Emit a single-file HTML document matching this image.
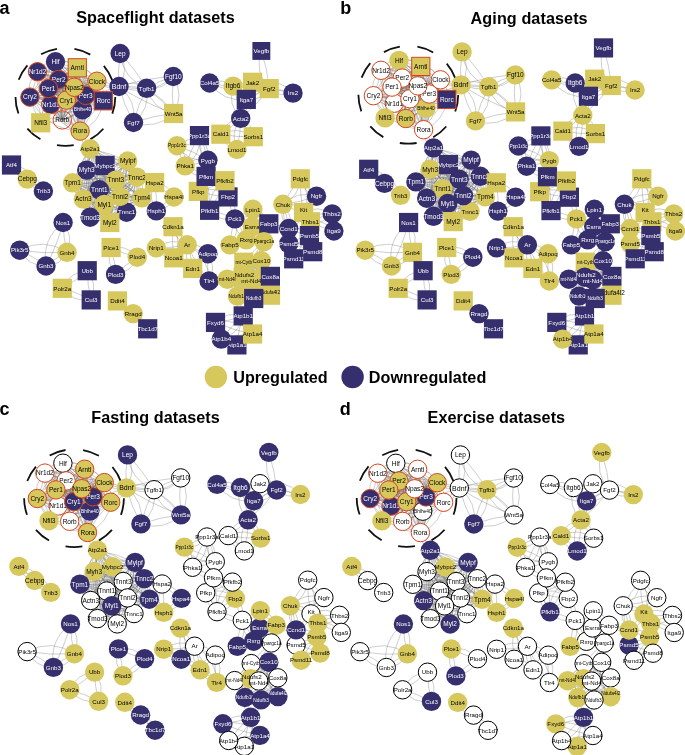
<!DOCTYPE html>
<html lang="en"><head><meta charset="utf-8"><title>Circadian network datasets</title>
<style>
html,body{margin:0;padding:0;background:#fff}
svg{display:block}
text{font-family:"Liberation Sans",Arial,Helvetica,sans-serif}
.k,.w{font-size:6.2px;text-anchor:middle}
.k{fill:#000}.w{fill:#fff}
.s{font-size:4.8px}.g{font-size:6.5px}
.e{fill:none;stroke:#707070;stroke-width:.35}
.dc{fill:none;stroke:#111;stroke-width:1.8;stroke-dasharray:16.9 17.59;stroke-dashoffset:-.1}
.t{font-size:16.2px;font-weight:bold;fill:#000}
.l{font-size:18px;font-weight:bold;fill:#000}
</style></head><body>
<svg width="685" height="755" viewBox="0 0 685 755">
<rect width="685" height="755" fill="#fff"/>

<g id="panel-a">
<path class="e" d="M55.5 61.8Q58.2 70.5 58.7 79.5M55.5 61.8Q51.8 71.6 58.7 79.5M55.5 61.8Q50.5 82.9 50.7 104.6M55.5 61.8Q65.9 84.6 50.7 104.6M55.5 61.8Q71.9 84.1 82.5 109.7M55.5 61.8Q54.6 93.8 82.5 109.7M55.5 61.8Q58.6 81.7 66.4 100.2M55.5 61.8Q72.5 77.7 66.4 100.2M55.5 61.8Q72.6 76.8 85.7 95.4M55.5 61.8Q60.5 87.7 85.7 95.4M55.5 61.8Q75 74 96.9 81.2M55.5 61.8Q82 59.1 96.9 81.2M55.5 61.8Q53.6 75.6 48.5 88.5M55.5 61.8Q44 73.1 48.5 88.5M55.5 61.8Q63.4 75.7 74.3 87.3M55.5 61.8Q72.6 68.9 74.3 87.3M55.5 61.8Q47.1 67.8 37.5 71.7M55.5 61.8Q43.5 61.4 37.5 71.7M55.5 61.8Q40.6 77.9 29.9 97.1M55.5 61.8Q53.3 87.1 29.9 97.1M55.5 61.8Q81.7 78.4 103.3 100.8M55.5 61.8Q67.7 95.6 103.3 100.8M55.5 61.8Q66 66.1 77.3 67.8M55.5 61.8Q68.2 58.3 77.3 67.8M55.5 61.8Q62.4 90.4 62.3 119.9M55.5 61.8Q41.5 92.9 62.3 119.9M55.5 61.8Q63.6 97.9 80.1 131.1M55.5 61.8Q88.6 89.1 80.1 131.1M58.7 79.5Q56.2 92.5 50.7 104.6M58.7 79.5Q47.2 89.6 50.7 104.6M58.7 79.5Q68.8 96 82.5 109.7M58.7 79.5Q79.7 87.5 82.5 109.7M58.7 79.5Q63.8 89.4 66.4 100.2M58.7 79.5Q56.3 92.2 66.4 100.2M58.7 79.5Q71.2 89.1 85.7 95.4M58.7 79.5Q77 79.4 85.7 95.4M58.7 79.5Q77.9 78.1 96.9 81.2M58.7 79.5Q77.3 91.8 96.9 81.2M58.7 79.5Q53.1 83.4 48.5 88.5M58.7 79.5Q56.3 87.1 48.5 88.5M58.7 79.5Q67 82.5 74.3 87.3M58.7 79.5Q64.2 88.1 74.3 87.3M58.7 79.5Q48.6 74.3 37.5 71.7M58.7 79.5Q45.8 82 37.5 71.7M58.7 79.5Q45.4 90 29.9 97.1M58.7 79.5Q39 79.7 29.9 97.1M58.7 79.5Q79.7 92.8 103.3 100.8M58.7 79.5Q87.4 76.8 103.3 100.8M58.7 79.5Q67.3 72.5 77.3 67.8M58.7 79.5Q71.5 79.2 77.3 67.8M58.7 79.5Q58.1 99.9 62.3 119.9M58.7 79.5Q72.6 98.6 62.3 119.9M58.7 79.5Q72.5 104 80.1 131.1M58.7 79.5Q53.9 111.7 80.1 131.1M50.7 104.6Q66.3 109.1 82.5 109.7M50.7 104.6Q68.1 97.6 82.5 109.7M50.7 104.6Q58.3 101.5 66.4 100.2M50.7 104.6Q59.9 107.1 66.4 100.2M50.7 104.6Q68.8 102.1 85.7 95.4M50.7 104.6Q65.4 89.5 85.7 95.4M50.7 104.6Q72.4 90.1 96.9 81.2M50.7 104.6Q80.8 106.8 96.9 81.2M50.7 104.6Q50.6 96.4 48.5 88.5M50.7 104.6Q44.8 97.2 48.5 88.5M50.7 104.6Q61.5 94.5 74.3 87.3M50.7 104.6Q67.7 103 74.3 87.3M50.7 104.6Q46.1 87.4 37.5 71.7M50.7 104.6Q34.2 92.1 37.5 71.7M50.7 104.6Q39.8 102.1 29.9 97.1M50.7 104.6Q42.5 94.6 29.9 97.1M50.7 104.6Q77.2 105.9 103.3 100.8M50.7 104.6Q75.9 86.9 103.3 100.8M50.7 104.6Q61.8 84.6 77.3 67.8M50.7 104.6Q75 94.2 77.3 67.8M50.7 104.6Q55.6 112.9 62.3 119.9M50.7 104.6Q61.1 108.8 62.3 119.9M50.7 104.6Q67 116.1 80.1 131.1M50.7 104.6Q57.5 126.7 80.1 131.1M82.5 109.7Q75 104 66.4 100.2M82.5 109.7Q71.6 109.8 66.4 100.2M82.5 109.7Q83.2 102.4 85.7 95.4M82.5 109.7Q88.4 103.5 85.7 95.4M82.5 109.7Q91.4 96.3 96.9 81.2M82.5 109.7Q81.2 91.1 96.9 81.2M82.5 109.7Q64.2 101.1 48.5 88.5M82.5 109.7Q71.9 88.9 48.5 88.5M82.5 109.7Q79.7 98 74.3 87.3M82.5 109.7Q71.7 101 74.3 87.3M82.5 109.7Q57.7 93.4 37.5 71.7M82.5 109.7Q71.4 77.2 37.5 71.7M82.5 109.7Q57 100.2 29.9 97.1M82.5 109.7Q52.4 119.2 29.9 97.1M82.5 109.7Q92.4 104 103.3 100.8M82.5 109.7Q95.6 111.5 103.3 100.8M82.5 109.7Q82.4 88.4 77.3 67.8M82.5 109.7Q67.3 90.3 77.3 67.8M82.5 109.7Q73 116 62.3 119.9M82.5 109.7Q69.3 108.7 62.3 119.9M82.5 109.7Q80 120.3 80.1 131.1M82.5 109.7Q87.7 121.1 80.1 131.1M66.4 100.2Q75.8 96.6 85.7 95.4M66.4 100.2Q77.5 103.6 85.7 95.4M66.4 100.2Q82.8 92.5 96.9 81.2M66.4 100.2Q76 81.5 96.9 81.2M66.4 100.2Q56.7 95.4 48.5 88.5M66.4 100.2Q61 89 48.5 88.5M66.4 100.2Q71.1 94.2 74.3 87.3M66.4 100.2Q66.5 91.4 74.3 87.3M66.4 100.2Q50.2 87.7 37.5 71.7M66.4 100.2Q60.5 77.3 37.5 71.7M66.4 100.2Q48.3 96.5 29.9 97.1M66.4 100.2Q47.2 109.6 29.9 97.1M66.4 100.2Q84.9 98.3 103.3 100.8M66.4 100.2Q84.7 111.6 103.3 100.8M66.4 100.2Q73.8 84.7 77.3 67.8M66.4 100.2Q62.1 80.7 77.3 67.8M66.4 100.2Q65.5 110.3 62.3 119.9M66.4 100.2Q58.4 108.8 62.3 119.9M66.4 100.2Q71.4 116.5 80.1 131.1M66.4 100.2Q82.5 111.5 80.1 131.1M85.7 95.4Q90.4 87.6 96.9 81.2M85.7 95.4Q95.6 91.7 96.9 81.2M85.7 95.4Q67.5 89.7 48.5 88.5M85.7 95.4Q65 103.1 48.5 88.5M85.7 95.4Q79.5 92 74.3 87.3M85.7 95.4Q82.4 87.9 74.3 87.3M85.7 95.4Q63 80.7 37.5 71.7M85.7 95.4Q54.5 98 37.5 71.7M85.7 95.4Q57.9 99.6 29.9 97.1M85.7 95.4Q57.3 79.5 29.9 97.1M85.7 95.4Q94.2 99.2 103.3 100.8M85.7 95.4Q96.1 92.8 103.3 100.8M85.7 95.4Q79.8 82.1 77.3 67.8M85.7 95.4Q89.8 79.1 77.3 67.8M85.7 95.4Q72.5 106.2 62.3 119.9M85.7 95.4Q81.3 114.7 62.3 119.9M85.7 95.4Q85 113.6 80.1 131.1M85.7 95.4Q72.2 111.6 80.1 131.1M96.9 81.2Q72.3 81.9 48.5 88.5M96.9 81.2Q74.9 99.4 48.5 88.5M96.9 81.2Q86 85.6 74.3 87.3M96.9 81.2Q83.8 77.5 74.3 87.3M96.9 81.2Q67.8 72.9 37.5 71.7M96.9 81.2Q64.4 94.3 37.5 71.7M96.9 81.2Q64.4 93.2 29.9 97.1M96.9 81.2Q58.6 69.1 29.9 97.1M96.9 81.2Q98.9 91.4 103.3 100.8M96.9 81.2Q106 89.1 103.3 100.8M96.9 81.2Q86.3 75.7 77.3 67.8M96.9 81.2Q91.1 68.6 77.3 67.8M96.9 81.2Q77.3 98.5 62.3 119.9M96.9 81.2Q91.2 110.9 62.3 119.9M96.9 81.2Q91.5 107.2 80.1 131.1M96.9 81.2Q73.5 101.1 80.1 131.1M48.5 88.5Q61.5 89.4 74.3 87.3M48.5 88.5Q61 80.2 74.3 87.3M48.5 88.5Q42 80.8 37.5 71.7M48.5 88.5Q48 76.8 37.5 71.7M48.5 88.5Q38.7 91.7 29.9 97.1M48.5 88.5Q41.8 98.4 29.9 97.1M48.5 88.5Q76.6 91.4 103.3 100.8M48.5 88.5Q72.2 111.1 103.3 100.8M48.5 88.5Q64.1 79.9 77.3 67.8M48.5 88.5Q56.7 69.5 77.3 67.8M48.5 88.5Q57.3 103.4 62.3 119.9M48.5 88.5Q46 108.3 62.3 119.9M48.5 88.5Q61.7 111.7 80.1 131.1M48.5 88.5Q77.1 100.3 80.1 131.1M74.3 87.3Q55 81.7 37.5 71.7M74.3 87.3Q60.6 68.5 37.5 71.7M74.3 87.3Q51.5 89.5 29.9 97.1M74.3 87.3Q55 105.5 29.9 97.1M74.3 87.3Q89.6 92.3 103.3 100.8M74.3 87.3Q84.8 102.8 103.3 100.8M74.3 87.3Q77 77.7 77.3 67.8M74.3 87.3Q70 76.6 77.3 67.8M74.3 87.3Q70.3 104.3 62.3 119.9M74.3 87.3Q58.5 100 62.3 119.9M74.3 87.3Q74.6 109.5 80.1 131.1M74.3 87.3Q90.3 107.5 80.1 131.1M37.5 71.7Q35.2 84.9 29.9 97.1M37.5 71.7Q26.1 82.1 29.9 97.1M37.5 71.7Q68.7 90.2 103.3 100.8M37.5 71.7Q79.1 66.5 103.3 100.8M37.5 71.7Q57.2 67.4 77.3 67.8M37.5 71.7Q58.6 81.7 77.3 67.8M37.5 71.7Q47 97.3 62.3 119.9M37.5 71.7Q64.4 88.4 62.3 119.9M37.5 71.7Q62.4 98.8 80.1 131.1M37.5 71.7Q41 114.2 80.1 131.1M29.9 97.1Q66.4 103.4 103.3 100.8M29.9 97.1Q67.7 76.9 103.3 100.8M29.9 97.1Q51.8 79.6 77.3 67.8M29.9 97.1Q62.4 96.7 77.3 67.8M29.9 97.1Q44.7 110.4 62.3 119.9M29.9 97.1Q52.9 98.8 62.3 119.9M29.9 97.1Q57 111.1 80.1 131.1M29.9 97.1Q44.8 129.2 80.1 131.1M103.3 100.8Q92.3 82.7 77.3 67.8M103.3 100.8Q80.4 92.1 77.3 67.8M103.3 100.8Q83.9 112.8 62.3 119.9M103.3 100.8Q77.1 98 62.3 119.9M103.3 100.8Q89.9 114.6 80.1 131.1M103.3 100.8Q100.8 122.9 80.1 131.1M77.3 67.8Q72.9 94.8 62.3 119.9M77.3 67.8Q54.2 89.3 62.3 119.9M77.3 67.8Q74.9 99.6 80.1 131.1M77.3 67.8Q97.7 98.6 80.1 131.1M62.3 119.9Q71.9 124.4 80.1 131.1M62.3 119.9Q67.8 130.8 80.1 131.1M40.7 122.8Q46.8 114.3 50.7 104.6M40.7 122.8Q40.2 110.7 50.7 104.6M40.7 122.8Q42.5 105.2 48.5 88.5M40.7 122.8Q54.9 108 48.5 88.5M40.7 122.8Q51.7 122.6 62.3 119.9M40.7 122.8Q50.6 114.9 62.3 119.9M40.7 122.8Q33.8 110.6 29.9 97.1M40.7 122.8Q43 106.7 29.9 97.1M119 86.5Q108.3 82.5 96.9 81.2M119 86.5Q106.4 90.5 96.9 81.2M119 86.5Q102.9 92.9 85.7 95.4M119 86.5Q99.7 81 85.7 95.4M119 86.5Q110.3 92.7 103.3 100.8M119 86.5Q115.4 98.4 103.3 100.8M80.1 131.1Q86.2 139.3 90.1 148.8M80.1 131.1Q79.8 142.9 90.1 148.8M120.1 53.5Q117.6 69.9 119 86.5M120.1 53.5Q129.4 70.3 119 86.5M120.1 53.5Q135.4 69.3 146.6 88.3M120.1 53.5Q122.9 78.9 146.6 88.3M119 86.5Q132.7 89.1 146.6 88.3M119 86.5Q133.3 79.1 146.6 88.3M119 86.5Q145.6 78.2 173.3 76.5M119 86.5Q149.2 97.8 173.3 76.5M119 86.5Q124.1 105.4 133.5 122.5M119 86.5Q137.1 100.2 133.5 122.5M146.6 88.3Q159.2 80.8 173.3 76.5M146.6 88.3Q163.5 90.4 173.3 76.5M146.6 88.3Q138 104.6 133.5 122.5M146.6 88.3Q150.3 109.3 133.5 122.5M146.6 88.3Q161.6 99.3 173.6 113.5M146.6 88.3Q152.5 109 173.6 113.5M173.3 76.5Q171.2 95 173.6 113.5M173.3 76.5Q184.5 94.9 173.6 113.5M133.5 122.5Q153 115.6 173.6 113.5M133.5 122.5Q156.2 130 173.6 113.5M119 86.5Q144.7 103.3 173.6 113.5M119 86.5Q154.4 83.6 173.6 113.5M261.4 51Q267.6 69.3 269.2 88.6M261.4 51Q254 72.1 269.2 88.6M209.6 83Q221.2 86 233.1 86.1M209.6 83Q222.3 77.5 233.1 86.1M233.1 86.1Q242.6 83 252.6 82.3M233.1 86.1Q244 90 252.6 82.3M233.1 86.1Q238.9 93.5 246.3 99.4M233.1 86.1Q243.7 88.8 246.3 99.4M233.1 86.1Q238.8 101.8 240.7 118.4M233.1 86.1Q227.2 104.5 240.7 118.4M252.6 82.3Q260.5 86.4 269.2 88.6M252.6 82.3Q262.8 80.5 269.2 88.6M269.2 88.6Q281.4 89.4 293 93.1M269.2 88.6Q279.8 98 293 93.1M269.2 88.6Q257.1 92.6 246.3 99.4M269.2 88.6Q261 100.9 246.3 99.4M269.2 88.6Q256.7 105.2 240.7 118.4M269.2 88.6Q246 95 240.7 118.4M246.3 99.4Q242.4 108.6 240.7 118.4M246.3 99.4Q249.2 110.6 240.7 118.4M240.7 118.4Q231.7 127.5 220.8 134.2M240.7 118.4Q226 120.3 220.8 134.2M240.7 118.4Q245.9 128.3 253.3 136.7M240.7 118.4Q252.5 123.8 253.3 136.7M240.7 118.4Q240.7 134.2 236.9 149.5M240.7 118.4Q229.5 132.8 236.9 149.5M220.8 134.2Q236.9 137.4 253.3 136.7M220.8 134.2Q237.8 125.7 253.3 136.7M220.8 134.2Q229.8 140.9 236.9 149.5M220.8 134.2Q224.3 146.7 236.9 149.5M253.3 136.7Q244.3 142.1 236.9 149.5M253.3 136.7Q248.9 148 236.9 149.5M209.6 83Q228.9 89 246.3 99.4M209.6 83Q223 102.2 246.3 99.4M252.6 82.3Q272.2 90.1 293 93.1M252.6 82.3Q276 75.6 293 93.1M252.6 82.3Q250.5 91.2 246.3 99.4M252.6 82.3Q244.3 89 246.3 99.4M199.5 135.6Q187.6 139.3 177 145.7M199.5 135.6Q191.3 147.4 177 145.7M199.5 135.6Q205.2 147.4 207.9 160.3M199.5 135.6Q196.3 150.5 207.9 160.3M199.5 135.6Q190.5 149.9 185.2 165.9M199.5 135.6Q201.4 155 185.2 165.9M177 145.7Q193.3 151.1 207.9 160.3M177 145.7Q188.1 162.3 207.9 160.3M177 145.7Q179.9 156.3 185.2 165.9M177 145.7Q187.2 153.3 185.2 165.9M207.9 160.3Q196.9 164.5 185.2 165.9M207.9 160.3Q194.9 156.3 185.2 165.9M207.9 160.3Q206 168.2 206.1 176.4M207.9 160.3Q211.8 168.9 206.1 176.4M185.2 165.9Q196.3 169.9 206.1 176.4M185.2 165.9Q192.5 177.4 206.1 176.4M206.1 176.4Q215.3 179.7 225 180.7M206.1 176.4Q216.8 172.9 225 180.7M206.1 176.4Q203.1 184.4 198.3 191.4M206.1 176.4Q197.7 181.6 198.3 191.4M206.1 176.4Q215.8 188 228 196.9M206.1 176.4Q223.2 180.1 228 196.9M206.1 176.4Q209.9 193.1 209.6 210.3M206.1 176.4Q197.7 194.4 209.6 210.3M225 180.7Q225.5 189 228 196.9M225 180.7Q231.4 187.9 228 196.9M225 180.7Q212.3 187.7 198.3 191.4M225 180.7Q208.4 178 198.3 191.4M198.3 191.4Q212.8 195.9 228 196.9M198.3 191.4Q214.8 185.2 228 196.9M198.3 191.4Q205.1 200.2 209.6 210.3M198.3 191.4Q198.3 204.2 209.6 210.3M228 196.9Q218 202.5 209.6 210.3M228 196.9Q222.8 209.1 209.6 210.3M225 180.7Q219.1 196.4 209.6 210.3M225 180.7Q208.4 190.9 209.6 210.3M228 196.9Q230.1 208.3 234.9 218.9M228 196.9Q238 205.8 234.9 218.9M209.6 210.3Q222.8 213.1 234.9 218.9M209.6 210.3Q219.7 222.2 234.9 218.9M199.5 135.6Q200.4 156.4 206.1 176.4M199.5 135.6Q215 154 206.1 176.4M90.1 148.8Q89.7 159.7 86.7 170.1M90.1 148.8Q82 158.4 86.7 170.1M90.1 148.8Q96.6 158 105.1 165.4M90.1 148.8Q102.6 152.6 105.1 165.4M90.1 148.8Q109.6 152.6 127.7 161M90.1 148.8Q105.2 166.2 127.7 161M90.1 148.8Q79.3 164.7 72.5 182.8M90.1 148.8Q91.5 171.1 72.5 182.8M90.1 148.8Q115.2 160.2 136.9 177.2M90.1 148.8Q105 177 136.9 177.2M90.1 148.8Q101.1 166 115.8 180.1M90.1 148.8Q112.3 156.7 115.8 180.1M90.1 148.8Q97.1 168.6 99.3 189.6M90.1 148.8Q82.5 172 99.3 189.6M90.1 148.8Q104.5 182.7 126.6 212.2M90.1 148.8Q127.4 169.6 126.6 212.2M90.1 148.8Q108 170.8 120.1 196.5M90.1 148.8Q90.8 181.7 120.1 196.5M90.1 148.8Q113.1 176.4 141.9 197.8M90.1 148.8Q130.7 157.8 141.9 197.8M90.1 148.8Q89.7 174.4 83.3 199.1M90.1 148.8Q71.6 171.9 83.3 199.1M90.1 148.8Q86 183 90.1 217.2M90.1 148.8Q110.6 183 90.1 217.2M90.1 148.8Q100.5 175.7 104.3 204.4M90.1 148.8Q80.5 180.9 104.3 204.4M90.1 148.8Q95.5 186.8 109.8 222.5M90.1 148.8Q122.1 179.7 109.8 222.5M86.7 170.1Q95.6 166.6 105.1 165.4M86.7 170.1Q97.3 173.3 105.1 165.4M86.7 170.1Q107.7 168 127.7 161M86.7 170.1Q104.5 153.2 127.7 161M86.7 170.1Q80.4 177.3 72.5 182.8M86.7 170.1Q75.8 172.2 72.5 182.8M86.7 170.1Q111.4 176.7 136.9 177.2M86.7 170.1Q113.9 158.6 136.9 177.2M86.7 170.1Q101.8 173.4 115.8 180.1M86.7 170.1Q98.2 183.8 115.8 180.1M86.7 170.1Q91.8 180.6 99.3 189.6M86.7 170.1Q98.8 176.1 99.3 189.6M86.7 170.1Q109.2 188.8 126.6 212.2M86.7 170.1Q94 203.1 126.6 212.2M86.7 170.1Q101.8 185.3 120.1 196.5M86.7 170.1Q111.3 173.3 120.1 196.5M86.7 170.1Q116 180.6 141.9 197.8M86.7 170.1Q106 200.5 141.9 197.8M86.7 170.1Q83.3 184.4 83.3 199.1M86.7 170.1Q93.7 185.6 83.3 199.1M86.7 170.1Q91.2 193.4 90.1 217.2M86.7 170.1Q74.3 194.7 90.1 217.2M86.7 170.1Q93.4 188.3 104.3 204.4M86.7 170.1Q105.8 182 104.3 204.4M86.7 170.1Q101.4 194.9 109.8 222.5M86.7 170.1Q82.5 203.2 109.8 222.5M105.1 165.4Q116.7 164.6 127.7 161M105.1 165.4Q115.1 156.4 127.7 161M105.1 165.4Q89.8 176.1 72.5 182.8M105.1 165.4Q83.6 164.3 72.5 182.8M105.1 165.4Q120.3 173.2 136.9 177.2M105.1 165.4Q124.5 161.8 136.9 177.2M105.1 165.4Q111.3 172.1 115.8 180.1M105.1 165.4Q106 176 115.8 180.1M105.1 165.4Q100.7 177.2 99.3 189.6M105.1 165.4Q109.5 179.2 99.3 189.6M105.1 165.4Q118.7 187.5 126.6 212.2M105.1 165.4Q101.8 195.2 126.6 212.2M105.1 165.4Q110.7 181.8 120.1 196.5M105.1 165.4Q121.9 176.4 120.1 196.5M105.1 165.4Q125.4 179.4 141.9 197.8M105.1 165.4Q113.8 192.6 141.9 197.8M105.1 165.4Q92.2 180.9 83.3 199.1M105.1 165.4Q104.3 188.8 83.3 199.1M105.1 165.4Q100.7 192.2 90.1 217.2M105.1 165.4Q82.1 186.8 90.1 217.2M105.1 165.4Q102.4 184.9 104.3 204.4M105.1 165.4Q116.4 185.1 104.3 204.4M105.1 165.4Q110.9 193.7 109.8 222.5M105.1 165.4Q90.3 195.4 109.8 222.5M127.7 161Q98.8 168.6 72.5 182.8M127.7 161Q106.6 188.5 72.5 182.8M127.7 161Q133.3 168.5 136.9 177.2M127.7 161Q127.4 171.9 136.9 177.2M127.7 161Q120.6 169.8 115.8 180.1M127.7 161Q127.5 174.1 115.8 180.1M127.7 161Q115.2 177 99.3 189.6M127.7 161Q104.9 166.8 99.3 189.6M127.7 161Q124.1 186.5 126.6 212.2M127.7 161Q142.5 186.9 126.6 212.2M127.7 161Q126 179.2 120.1 196.5M127.7 161Q113.2 176.5 120.1 196.5M127.7 161Q132.6 180.3 141.9 197.8M127.7 161Q145.8 175.1 141.9 197.8M127.7 161Q107.8 182.7 83.3 199.1M127.7 161Q94.1 166.7 83.3 199.1M127.7 161Q105.5 186.8 90.1 217.2M127.7 161Q125.8 200.4 90.1 217.2M127.7 161Q118.6 184.1 104.3 204.4M127.7 161Q103 175.7 104.3 204.4M127.7 161Q115.1 190.7 109.8 222.5M127.7 161Q137.2 197.1 109.8 222.5M72.5 182.8Q104.4 176.1 136.9 177.2M72.5 182.8Q106.4 199.3 136.9 177.2M72.5 182.8Q94.3 184 115.8 180.1M72.5 182.8Q93.3 168.5 115.8 180.1M72.5 182.8Q86.3 184.6 99.3 189.6M72.5 182.8Q83.9 194.2 99.3 189.6M72.5 182.8Q97.8 200.7 126.6 212.2M72.5 182.8Q108.4 181.3 126.6 212.2M72.5 182.8Q97.1 186.8 120.1 196.5M72.5 182.8Q92.2 203.9 120.1 196.5M72.5 182.8Q106.3 194.5 141.9 197.8M72.5 182.8Q111.7 169.5 141.9 197.8M72.5 182.8Q78.9 190.3 83.3 199.1M72.5 182.8Q73 194.2 83.3 199.1M72.5 182.8Q79.2 201.1 90.1 217.2M72.5 182.8Q91.6 194.7 90.1 217.2M72.5 182.8Q89.7 191.7 104.3 204.4M72.5 182.8Q81.9 203.1 104.3 204.4M72.5 182.8Q88.8 204.9 109.8 222.5M72.5 182.8Q103.1 191.5 109.8 222.5M136.9 177.2Q126.5 179.9 115.8 180.1M136.9 177.2Q125.5 172.3 115.8 180.1M136.9 177.2Q117.4 181.1 99.3 189.6M136.9 177.2Q121.8 194.7 99.3 189.6M136.9 177.2Q133.8 195.3 126.6 212.2M136.9 177.2Q121.2 191.6 126.6 212.2M136.9 177.2Q127.3 185.8 120.1 196.5M136.9 177.2Q134.3 191.9 120.1 196.5M136.9 177.2Q140.6 187.2 141.9 197.8M136.9 177.2Q133.2 189 141.9 197.8M136.9 177.2Q108.8 184.9 83.3 199.1M136.9 177.2Q116.7 204.2 83.3 199.1M136.9 177.2Q115.9 200 90.1 217.2M136.9 177.2Q101.5 183.2 90.1 217.2M136.9 177.2Q119 188.8 104.3 204.4M136.9 177.2Q128.8 200.6 104.3 204.4M136.9 177.2Q126.1 201.5 109.8 222.5M136.9 177.2Q109.8 191.7 109.8 222.5M115.8 180.1Q107 183.9 99.3 189.6M115.8 180.1Q110.4 189.8 99.3 189.6M115.8 180.1Q123.1 195.5 126.6 212.2M115.8 180.1Q111.6 199.4 126.6 212.2M115.8 180.1Q117 188.6 120.1 196.5M115.8 180.1Q122.9 187 120.1 196.5M115.8 180.1Q129.9 187.4 141.9 197.8M115.8 180.1Q123.5 196.8 141.9 197.8M115.8 180.1Q98.4 187.7 83.3 199.1M115.8 180.1Q105.2 199.3 83.3 199.1M115.8 180.1Q105.2 200.2 90.1 217.2M115.8 180.1Q91.8 190.9 90.1 217.2M115.8 180.1Q108.6 191.6 104.3 204.4M115.8 180.1Q117.3 195.7 104.3 204.4M115.8 180.1Q115.3 201.7 109.8 222.5M115.8 180.1Q100.1 199.5 109.8 222.5M99.3 189.6Q111.6 202.5 126.6 212.2M99.3 189.6Q119.7 192.7 126.6 212.2M99.3 189.6Q110.1 191.8 120.1 196.5M99.3 189.6Q107.6 199.3 120.1 196.5M99.3 189.6Q120.1 196.3 141.9 197.8M99.3 189.6Q123.1 180.9 141.9 197.8M99.3 189.6Q91.9 195.3 83.3 199.1M99.3 189.6Q88.5 189.5 83.3 199.1M99.3 189.6Q93 202.8 90.1 217.2M99.3 189.6Q103 206.2 90.1 217.2M99.3 189.6Q102.7 196.7 104.3 204.4M99.3 189.6Q97.4 198.5 104.3 204.4M99.3 189.6Q102.6 206.7 109.8 222.5M99.3 189.6Q114.4 202.9 109.8 222.5M126.6 212.2Q122.4 204.7 120.1 196.5M126.6 212.2Q128.1 202.4 120.1 196.5M126.6 212.2Q135.1 205.9 141.9 197.8M126.6 212.2Q129.9 200.4 141.9 197.8M126.6 212.2Q104.2 208.2 83.3 199.1M126.6 212.2Q108.9 192.7 83.3 199.1M126.6 212.2Q108 212.5 90.1 217.2M126.6 212.2Q109.8 225.6 90.1 217.2M126.6 212.2Q115 209.6 104.3 204.4M126.6 212.2Q117.8 201.6 104.3 204.4M126.6 212.2Q117.6 216.3 109.8 222.5M126.6 212.2Q121.3 222.4 109.8 222.5M120.1 196.5Q131.1 195.8 141.9 197.8M120.1 196.5Q130.6 203.7 141.9 197.8M120.1 196.5Q101.5 195.6 83.3 199.1M120.1 196.5Q102.5 208.8 83.3 199.1M120.1 196.5Q106.3 208.7 90.1 217.2M120.1 196.5Q98.9 197.8 90.1 217.2M120.1 196.5Q111.7 199.5 104.3 204.4M120.1 196.5Q114.6 205.2 104.3 204.4M120.1 196.5Q116.5 210.1 109.8 222.5M120.1 196.5Q107.1 206.4 109.8 222.5M141.9 197.8Q112.5 194.9 83.3 199.1M141.9 197.8Q113 216 83.3 199.1M141.9 197.8Q117.2 210.6 90.1 217.2M141.9 197.8Q110.2 192 90.1 217.2M141.9 197.8Q122.7 198.8 104.3 204.4M141.9 197.8Q125.1 212.4 104.3 204.4M141.9 197.8Q127.3 212.1 109.8 222.5M141.9 197.8Q118.4 200.5 109.8 222.5M83.3 199.1Q85.6 208.6 90.1 217.2M83.3 199.1Q92.1 206.1 90.1 217.2M83.3 199.1Q94.1 200.5 104.3 204.4M83.3 199.1Q92.2 208.1 104.3 204.4M83.3 199.1Q95.1 212.4 109.8 222.5M83.3 199.1Q103.6 202.9 109.8 222.5M90.1 217.2Q96.4 209.9 104.3 204.4M90.1 217.2Q101 215.1 104.3 204.4M90.1 217.2Q99.6 221 109.8 222.5M90.1 217.2Q101.5 213.9 109.8 222.5M104.3 204.4Q108.1 213.1 109.8 222.5M104.3 204.4Q101.6 215.1 109.8 222.5M154.7 182.6Q163.5 191 174 197M154.7 182.6Q168.7 184 174 197M154.7 182.6Q157.2 196.7 156.3 210.9M154.7 182.6Q147 197.2 156.3 210.9M174 197Q164.3 202.9 156.3 210.9M174 197Q169.3 209.3 156.3 210.9M141.9 197.8Q147.4 189.4 154.7 182.6M141.9 197.8Q152.9 194 154.7 182.6M136.9 177.2Q145.5 181 154.7 182.6M136.9 177.2Q147.4 174.6 154.7 182.6M11.5 165Q20.2 171.1 27.3 179.1M11.5 165Q15.2 176.8 27.3 179.1M11.5 165Q25.9 179.9 43.4 191M11.5 165Q35.2 168.4 43.4 191M27.3 179.1Q36.1 184.1 43.4 191M27.3 179.1Q31.8 189.9 43.4 191M63.1 222.5Q63.3 237.6 67 252.3M63.1 222.5Q74 236.2 67 252.3M63.1 222.5Q57.2 245.3 46 266M63.1 222.5Q41.5 239.1 46 266M19.7 250.2Q43.2 254.1 67 252.3M19.7 250.2Q44 237.1 67 252.3M19.7 250.2Q33.8 256.5 46 266M19.7 250.2Q28.1 266 46 266M67 252.3Q55.7 257.9 46 266M67 252.3Q60.6 265.4 46 266M87.2 270.7Q75.8 281 62.3 288.3M87.2 270.7Q69.5 272 62.3 288.3M87.2 270.7Q87.4 285.5 91.2 299.9M87.2 270.7Q98 284.1 91.2 299.9M62.3 288.3Q77.4 292.4 91.2 299.9M62.3 288.3Q73.3 302.8 91.2 299.9M111.1 247.5Q123.6 253.9 137.2 257.2M111.1 247.5Q127.1 244.5 137.2 257.2M111.1 247.5Q115 260.7 115.6 274.4M111.1 247.5Q105.3 262.3 115.6 274.4M137.2 257.2Q125.4 264.5 115.6 274.4M137.2 257.2Q131.6 272.3 115.6 274.4M173 226.7Q181.2 234.9 187.2 244.8M173 226.7Q174.7 240 187.2 244.8M173 226.7Q171.5 242.3 173.8 257.8M173 226.7Q182.7 242 173.8 257.8M156.3 247.8Q165.7 251.8 173.8 257.8M156.3 247.8Q162.1 258.1 173.8 257.8M156.3 247.8Q171.9 248.2 187.2 244.8M156.3 247.8Q170.8 237 187.2 244.8M173.8 257.8Q179.7 250.5 187.2 244.8M173.8 257.8Q184.4 255.3 187.2 244.8M187.2 244.8Q197 250.5 207.9 253.7M187.2 244.8Q200.2 243 207.9 253.7M187.2 244.8Q191.4 256.3 192.7 268.4M187.2 244.8Q182.9 258.2 192.7 268.4M173.8 257.8Q182.6 264.2 192.7 268.4M173.8 257.8Q186.4 257.4 192.7 268.4M207.9 253.7Q201.2 262 192.7 268.4M207.9 253.7Q195.9 256.5 192.7 268.4M207.9 253.7Q206.9 267.4 209.1 281M207.9 253.7Q216.7 267 209.1 281M192.7 268.4Q201.7 273.7 209.1 281M192.7 268.4Q197.1 279.6 209.1 281M187.2 244.8Q196 264.2 209.1 281M187.2 244.8Q209 256.3 209.1 281M117.4 300.9Q126.1 306.3 133.2 313.6M117.4 300.9Q121.5 312 133.2 313.6M133.2 313.6Q139.5 322.1 147.7 328.8M133.2 313.6Q145 316.9 147.7 328.8M234.9 218.9Q243.3 213 252.9 209.3M234.9 218.9Q246.8 219.5 252.9 209.3M234.9 218.9Q243.1 223.7 252.2 226.5M234.9 218.9Q245.8 217.5 252.2 226.5M234.9 218.9Q241.8 228.7 246.2 239.8M234.9 218.9Q234.3 232.7 246.2 239.8M234.9 218.9Q230.8 231.6 229.9 244.9M234.9 218.9Q240.2 233.4 229.9 244.9M252.9 209.3Q253.6 217.9 252.2 226.5M252.9 209.3Q247.4 217.7 252.2 226.5M252.9 209.3Q260 217.5 268.8 223.8M252.9 209.3Q265.2 211.8 268.8 223.8M252.2 226.5Q260.3 224.2 268.8 223.8M252.2 226.5Q261.3 230.1 268.8 223.8M252.2 226.5Q248.4 232.8 246.2 239.8M252.2 226.5Q253.2 235 246.2 239.8M252.2 226.5Q259 233.3 263.9 241.6M252.2 226.5Q253.5 237.6 263.9 241.6M268.8 223.8Q265.3 232.4 263.9 241.6M268.8 223.8Q271.7 234.2 263.9 241.6M246.2 239.8Q255.2 239.6 263.9 241.6M246.2 239.8Q254.5 246 263.9 241.6M246.2 239.8Q237.7 241.4 229.9 244.9M246.2 239.8Q239.6 247.2 229.9 244.9M263.9 241.6Q263.8 251.3 261.4 260.8M263.9 241.6Q256.9 250.4 261.4 260.8M263.9 241.6Q252.6 250.7 243.8 262.2M263.9 241.6Q260 257.9 243.8 262.2M268.8 223.8Q279 225 288.7 228.5M268.8 223.8Q277.3 232.1 288.7 228.5M263.9 241.6Q251.4 258.2 243.2 277.2M263.9 241.6Q264.2 265.6 243.2 277.2M243.8 262.2Q252.5 260.4 261.4 260.8M243.8 262.2Q253 266.8 261.4 260.8M243.8 262.2Q234.5 269.7 227.3 279.2M243.8 262.2Q240.7 275.6 227.3 279.2M243.8 262.2Q244.4 269.7 243.2 277.2M243.8 262.2Q239 269.5 243.2 277.2M243.8 262.2Q246.5 271.3 251.3 279.6M243.8 262.2Q252.8 268.6 251.3 279.6M243.8 262.2Q258 267.7 270.4 276.4M243.8 262.2Q252.8 277.3 270.4 276.4M243.8 262.2Q255.2 280.3 270.5 295.2M243.8 262.2Q267 270.7 270.5 295.2M243.8 262.2Q242.7 279.5 237.5 296.1M243.8 262.2Q230.5 277.3 237.5 296.1M243.8 262.2Q246.6 280.9 253.7 298.5M243.8 262.2Q259.6 277.4 253.7 298.5M261.4 260.8Q245.5 272 227.3 279.2M261.4 260.8Q238.8 259.8 227.3 279.2M261.4 260.8Q251.3 267.9 243.2 277.2M261.4 260.8Q257.2 274.5 243.2 277.2M261.4 260.8Q257.5 270.8 251.3 279.6M261.4 260.8Q250.7 267.2 251.3 279.6M261.4 260.8Q265 269.1 270.4 276.4M261.4 260.8Q270.6 265.9 270.4 276.4M261.4 260.8Q268 277.5 270.5 295.2M261.4 260.8Q255.6 280.7 270.5 295.2M261.4 260.8Q247.3 277 237.5 296.1M261.4 260.8Q260 285.6 237.5 296.1M261.4 260.8Q259.8 280.1 253.7 298.5M261.4 260.8Q246.2 277.3 253.7 298.5M227.3 279.2Q235.4 279.2 243.2 277.2M227.3 279.2Q234.7 273.4 243.2 277.2M227.3 279.2Q239.3 278 251.3 279.6M227.3 279.2Q239.2 286.6 251.3 279.6M227.3 279.2Q249 280.4 270.4 276.4M227.3 279.2Q248 264.9 270.4 276.4M227.3 279.2Q249.9 284.6 270.5 295.2M227.3 279.2Q244.1 300.2 270.5 295.2M227.3 279.2Q231.4 288.3 237.5 296.1M227.3 279.2Q237.5 284.6 237.5 296.1M227.3 279.2Q241.7 287.3 253.7 298.5M227.3 279.2Q234.7 296.8 253.7 298.5M243.2 277.2Q247.1 278.9 251.3 279.6M243.2 277.2Q248 276 251.3 279.6M243.2 277.2Q256.8 275.2 270.4 276.4M243.2 277.2Q257 285 270.4 276.4M243.2 277.2Q255.8 287.8 270.5 295.2M243.2 277.2Q262.2 278 270.5 295.2M243.2 277.2Q241.5 287 237.5 296.1M243.2 277.2Q234.7 284.9 237.5 296.1M243.2 277.2Q247.2 288.5 253.7 298.5M243.2 277.2Q254.8 284.7 253.7 298.5M251.3 279.6Q260.7 276.9 270.4 276.4M251.3 279.6Q261.8 283.7 270.4 276.4M251.3 279.6Q260 288.6 270.5 295.2M251.3 279.6Q265.6 281.6 270.5 295.2M251.3 279.6Q245.4 288.7 237.5 296.1M251.3 279.6Q239.5 283.7 237.5 296.1M251.3 279.6Q251.4 289.2 253.7 298.5M251.3 279.6Q258.2 288.3 253.7 298.5M270.4 276.4Q271.6 285.8 270.5 295.2M270.4 276.4Q264.8 285.8 270.5 295.2M270.4 276.4Q252.8 284.3 237.5 296.1M270.4 276.4Q259.9 296.1 237.5 296.1M270.4 276.4Q263.4 288.5 253.7 298.5M270.4 276.4Q255.4 282.4 253.7 298.5M270.5 295.2Q253.9 293.7 237.5 296.1M270.5 295.2Q254.3 305.5 237.5 296.1M270.5 295.2Q262.3 297.9 253.7 298.5M270.5 295.2Q261.1 291.8 253.7 298.5M237.5 296.1Q245.5 298.3 253.7 298.5M237.5 296.1Q246.3 292.4 253.7 298.5M243.2 315.9Q229.7 320.8 215.5 322.4M243.2 315.9Q227.4 310.8 215.5 322.4M243.2 315.9Q238.3 330 236.9 344.9M243.2 315.9Q248.8 332.3 236.9 344.9M243.2 315.9Q249 324.4 252.6 334M243.2 315.9Q242.5 327.8 252.6 334M243.2 315.9Q230.9 326.2 221.3 339.1M243.2 315.9Q239.2 334.1 221.3 339.1M215.5 322.4Q227.5 332.4 236.9 344.9M215.5 322.4Q219.4 340.1 236.9 344.9M215.5 322.4Q233.4 330.4 252.6 334M215.5 322.4Q237.5 317.1 252.6 334M215.5 322.4Q219.4 330.4 221.3 339.1M215.5 322.4Q213.4 332.5 221.3 339.1M236.9 344.9Q245.4 340.4 252.6 334M236.9 344.9Q241.5 334.7 252.6 334M236.9 344.9Q228.8 342.9 221.3 339.1M236.9 344.9Q230.8 337.3 221.3 339.1M252.6 334Q236.6 334.7 221.3 339.1M252.6 334Q238.5 345.9 221.3 339.1M237.5 296.1Q241.5 305.7 243.2 315.9M237.5 296.1Q234.4 307.7 243.2 315.9M253.7 298.5Q247.4 306.6 243.2 315.9M253.7 298.5Q253.7 310.3 243.2 315.9M300.3 178.8Q309.4 186.5 316.5 196.2M300.3 178.8Q303.2 192.4 316.5 196.2M300.3 178.8Q299.9 195.8 303.6 212.5M300.3 178.8Q312.1 194.7 303.6 212.5M316.5 196.2Q311 205.1 303.6 212.5M316.5 196.2Q305.2 200.5 303.6 212.5M282.9 204.3Q292.8 209.6 303.6 212.5M282.9 204.3Q295.7 202.2 303.6 212.5M282.9 204.3Q287.3 216.1 288.7 228.5M282.9 204.3Q278.5 218.1 288.7 228.5M282.9 204.3Q300.2 202.3 316.5 196.2M282.9 204.3Q297.3 190.2 316.5 196.2M303.6 212.5Q307.6 216.7 310.4 221.8M303.6 212.5Q304.2 219.2 310.4 221.8M303.6 212.5Q317.8 214.9 332.2 213.9M303.6 212.5Q318.3 204.6 332.2 213.9M310.4 221.8Q320.8 216.5 332.2 213.9M310.4 221.8Q323.7 224.4 332.2 213.9M310.4 221.8Q321.6 227.8 333.9 231M310.4 221.8Q324.9 219.3 333.9 231M332.2 213.9Q334.1 222.3 333.9 231M332.2 213.9Q327.9 223 333.9 231M303.6 212.5Q295.2 219.6 288.7 228.5M303.6 212.5Q300.9 225 288.7 228.5M288.7 228.5Q289.6 236.1 288.7 243.6M288.7 228.5Q284.2 236.1 288.7 243.6M288.7 228.5Q298.6 233.3 309.4 235.6M288.7 228.5Q301.2 225.8 309.4 235.6M310.4 221.8Q310.7 228.8 309.4 235.6M310.4 221.8Q305.8 228.4 309.4 235.6M282.9 204.3Q283.4 224.3 288.7 243.6M282.9 204.3Q297.6 222.2 288.7 243.6M282.9 204.3Q290.1 190.5 300.3 178.8M282.9 204.3Q299.2 196.8 300.3 178.8M309.4 235.6Q298.6 238.4 288.7 243.6M309.4 235.6Q301.4 245.8 288.7 243.6M309.4 235.6Q312 243.5 312.7 251.7M309.4 235.6Q306.2 244.6 312.7 251.7M309.4 235.6Q300.2 246.3 293.7 258.8M309.4 235.6Q308.5 251.9 293.7 258.8M288.7 243.6Q301.2 246.2 312.7 251.7M288.7 243.6Q298.3 254.8 312.7 251.7M288.7 243.6Q290.3 251.5 293.7 258.8M288.7 243.6Q295.8 249.7 293.7 258.8M312.7 251.7Q303.6 256.4 293.7 258.8M312.7 251.7Q301.1 249.6 293.7 258.8"/>
<ellipse class="dc" cx="65.4" cy="97" rx="49.9" ry="48.9"/>
<circle cx="120.1" cy="53.5" r="9.7" fill="#362f6e"/>
<text class="w g" x="120.1" y="55.8">Lep</text>
<circle cx="119" cy="86.5" r="9.7" fill="#362f6e"/>
<text class="w" style="font-size:7.0px" x="119" y="89">Bdnf</text>
<circle cx="146.6" cy="88.3" r="9.7" fill="#362f6e"/>
<text class="w" x="146.6" y="90.5">Tgfb1</text>
<circle cx="173.3" cy="76.5" r="9.7" fill="#362f6e"/>
<text class="w g" x="173.3" y="78.8">Fgf10</text>
<circle cx="133.5" cy="122.5" r="9.7" fill="#362f6e"/>
<text class="w" x="133.5" y="124.7">Fgf7</text>
<rect x="164" y="103.9" width="19.2" height="19.2" fill="#d6c85c"/>
<text class="k" x="173.6" y="115.7">Wnt5a</text>
<rect x="252.4" y="42" width="17.9" height="17.9" fill="#362f6e"/>
<text class="w" x="261.4" y="53.2">Vegfb</text>
<circle cx="209.6" cy="83" r="9.7" fill="#362f6e"/>
<text class="w" x="209.6" y="85.2">Col4a5</text>
<circle cx="233.1" cy="86.1" r="9.7" fill="#d6c85c"/>
<text class="k g" x="233.1" y="88.4">Itgb6</text>
<rect x="243" y="72.7" width="19.2" height="19.2" fill="#d6c85c"/>
<text class="k" x="252.6" y="84.5">Jak2</text>
<rect x="259.6" y="79" width="19.2" height="19.2" fill="#d6c85c"/>
<text class="k" x="269.2" y="90.8">Fgf2</text>
<circle cx="293" cy="93.1" r="9.7" fill="#362f6e"/>
<text class="w" x="293" y="95.3">Irs2</text>
<rect x="236.7" y="89.8" width="19.2" height="19.2" fill="#362f6e"/>
<text class="w" x="246.3" y="101.6">Itga7</text>
<circle cx="240.7" cy="118.4" r="9.7" fill="#362f6e"/>
<text class="w" x="240.7" y="120.6">Acta2</text>
<rect x="211.2" y="124.6" width="19.2" height="19.2" fill="#d6c85c"/>
<text class="k" x="220.8" y="136.4">Cald1</text>
<rect x="243.7" y="127.1" width="19.2" height="19.2" fill="#d6c85c"/>
<text class="k" x="253.3" y="138.9">Sorbs1</text>
<circle cx="236.9" cy="149.5" r="9.7" fill="#d6c85c"/>
<text class="k" x="236.9" y="151.7">Lmod1</text>
<circle cx="177" cy="145.7" r="9.7" fill="#d6c85c"/>
<text class="k s" x="177" y="147.4">Ppp1r3c</text>
<rect x="189.9" y="126" width="19.2" height="19.2" fill="#362f6e"/>
<text class="w" x="199.5" y="137.8">Ppp1r3a</text>
<circle cx="207.9" cy="160.3" r="9.7" fill="#362f6e"/>
<text class="w" x="207.9" y="162.5">Pygb</text>
<circle cx="185.2" cy="165.9" r="9.7" fill="#d6c85c"/>
<text class="k" x="185.2" y="168.1">Phka1</text>
<rect x="188.7" y="181.8" width="19.2" height="19.2" fill="#d6c85c"/>
<text class="k" x="198.3" y="193.6">Pfkp</text>
<rect x="196.5" y="166.8" width="19.2" height="19.2" fill="#362f6e"/>
<text class="w" x="206.1" y="178.6">Pfkm</text>
<rect x="218.4" y="187.3" width="19.2" height="19.2" fill="#362f6e"/>
<text class="w" x="228" y="199.1">Fbp2</text>
<rect x="215.4" y="171.1" width="19.2" height="19.2" fill="#d6c85c"/>
<text class="k" x="225" y="182.9">Pfkfb2</text>
<rect x="200" y="200.7" width="19.2" height="19.2" fill="#362f6e"/>
<text class="w" x="209.6" y="212.5">Pfkfb1</text>
<circle cx="90.1" cy="148.8" r="9.7" fill="#d6c85c"/>
<text class="k" x="90.1" y="151">Atp2a1</text>
<circle cx="86.7" cy="170.1" r="9.7" fill="#362f6e"/>
<text class="w g" x="86.7" y="172.4">Myh3</text>
<rect x="95.5" y="155.8" width="19.2" height="19.2" fill="#362f6e"/>
<text class="w" x="105.1" y="167.6">Mybpc2</text>
<circle cx="127.7" cy="161" r="9.7" fill="#d6c85c"/>
<text class="k g" x="127.7" y="163.3">Mylpf</text>
<circle cx="72.5" cy="182.8" r="9.7" fill="#d6c85c"/>
<text class="k g" x="72.5" y="185.1">Tpm1</text>
<circle cx="136.9" cy="177.2" r="9.7" fill="#d6c85c"/>
<text class="k g" x="136.9" y="179.5">Tnnc2</text>
<circle cx="115.8" cy="180.1" r="9.7" fill="#d6c85c"/>
<text class="k g" x="115.8" y="182.4">Tnnt3</text>
<circle cx="99.3" cy="189.6" r="9.7" fill="#362f6e"/>
<text class="w g" x="99.3" y="191.9">Tnnt1</text>
<circle cx="126.6" cy="212.2" r="9.7" fill="#362f6e"/>
<text class="w" x="126.6" y="214.4">Tnnc1</text>
<circle cx="120.1" cy="196.5" r="9.7" fill="#d6c85c"/>
<text class="k g" x="120.1" y="198.8">Tnni2</text>
<circle cx="141.9" cy="197.8" r="9.7" fill="#d6c85c"/>
<text class="k g" x="141.9" y="200.1">Tpm4</text>
<circle cx="83.3" cy="199.1" r="9.7" fill="#d6c85c"/>
<text class="k g" x="83.3" y="201.4">Actn3</text>
<circle cx="90.1" cy="217.2" r="9.7" fill="#362f6e"/>
<text class="w g" x="90.1" y="219.5">Tmod3</text>
<circle cx="104.3" cy="204.4" r="9.7" fill="#d6c85c"/>
<text class="k g" x="104.3" y="206.7">Myl1</text>
<rect x="100.2" y="212.9" width="19.2" height="19.2" fill="#d6c85c"/>
<text class="k g" x="109.8" y="224.8">Myl2</text>
<rect x="145.1" y="173" width="19.2" height="19.2" fill="#d6c85c"/>
<text class="k" x="154.7" y="184.8">Hspa2</text>
<circle cx="174" cy="197" r="9.7" fill="#d6c85c"/>
<text class="k" x="174" y="199.2">Hspa4l</text>
<circle cx="156.3" cy="210.9" r="9.7" fill="#362f6e"/>
<text class="w" x="156.3" y="213.1">Hsph1</text>
<rect x="1.9" y="155.4" width="19.2" height="19.2" fill="#362f6e"/>
<text class="w" x="11.5" y="167.2">Atf4</text>
<circle cx="27.3" cy="179.1" r="9.7" fill="#d6c85c"/>
<text class="k g" x="27.3" y="181.4">Cebpg</text>
<circle cx="43.4" cy="191" r="9.7" fill="#362f6e"/>
<text class="w" x="43.4" y="193.2">Trib3</text>
<circle cx="63.1" cy="222.5" r="9.7" fill="#362f6e"/>
<text class="w" x="63.1" y="224.7">Nos1</text>
<circle cx="19.7" cy="250.2" r="9.7" fill="#362f6e"/>
<text class="w" x="19.7" y="252.4">Pik3r5</text>
<circle cx="67" cy="252.3" r="9.7" fill="#d6c85c"/>
<text class="k" x="67" y="254.5">Gnb4</text>
<circle cx="46" cy="266" r="9.7" fill="#362f6e"/>
<text class="w" x="46" y="268.2">Gnb3</text>
<rect x="77.6" y="261.1" width="19.2" height="19.2" fill="#362f6e"/>
<text class="w" x="87.2" y="272.9">Ubb</text>
<rect x="52.7" y="278.7" width="19.2" height="19.2" fill="#d6c85c"/>
<text class="k" x="62.3" y="290.5">Polr2a</text>
<rect x="81.6" y="290.3" width="19.2" height="19.2" fill="#362f6e"/>
<text class="w" x="91.2" y="302.1">Cul3</text>
<rect x="101.5" y="237.9" width="19.2" height="19.2" fill="#d6c85c"/>
<text class="k" x="111.1" y="249.7">Plce1</text>
<circle cx="137.2" cy="257.2" r="9.7" fill="#d6c85c"/>
<text class="k" x="137.2" y="259.4">Plod4</text>
<circle cx="115.6" cy="274.4" r="9.7" fill="#362f6e"/>
<text class="w" x="115.6" y="276.6">Plod3</text>
<rect x="163.4" y="217.1" width="19.2" height="19.2" fill="#d6c85c"/>
<text class="k" x="173" y="228.9">Cdkn1a</text>
<circle cx="156.3" cy="247.8" r="9.7" fill="#d6c85c"/>
<text class="k" x="156.3" y="250">Nrip1</text>
<rect x="164.2" y="248.2" width="19.2" height="19.2" fill="#d6c85c"/>
<text class="k" x="173.8" y="260">Ncoa1</text>
<circle cx="187.2" cy="244.8" r="9.7" fill="#d6c85c"/>
<text class="k" x="187.2" y="247">Ar</text>
<circle cx="207.9" cy="253.7" r="9.7" fill="#362f6e"/>
<text class="w" x="207.9" y="255.9">Adipoq</text>
<rect x="183.1" y="258.8" width="19.2" height="19.2" fill="#d6c85c"/>
<text class="k" x="192.7" y="270.6">Edn1</text>
<circle cx="209.1" cy="281" r="9.7" fill="#362f6e"/>
<text class="w" x="209.1" y="283.2">Tlr4</text>
<rect x="107.8" y="291.3" width="19.2" height="19.2" fill="#d6c85c"/>
<text class="k" x="117.4" y="303.1">Ddit4</text>
<circle cx="133.2" cy="313.6" r="9.7" fill="#d6c85c"/>
<text class="k" x="133.2" y="315.8">Rragd</text>
<rect x="138.1" y="319.2" width="19.2" height="19.2" fill="#362f6e"/>
<text class="w" x="147.7" y="331">Tbc1d7</text>
<circle cx="234.9" cy="218.9" r="9.7" fill="#362f6e"/>
<text class="w" x="234.9" y="221.1">Pck1</text>
<circle cx="246.2" cy="239.8" r="9.7" fill="#d6c85c"/>
<text class="k" x="246.2" y="242">Rxrg</text>
<circle cx="252.2" cy="226.5" r="9.7" fill="#d6c85c"/>
<text class="k" x="252.2" y="228.7">Esrra</text>
<circle cx="252.9" cy="209.3" r="9.7" fill="#d6c85c"/>
<text class="k" x="252.9" y="211.5">Lpin1</text>
<rect x="259.2" y="214.2" width="19.2" height="19.2" fill="#362f6e"/>
<text class="w" x="268.8" y="226">Fabp3</text>
<circle cx="263.9" cy="241.6" r="9.7" fill="#d6c85c"/>
<text class="k s" x="263.9" y="243.3">Ppargc1a</text>
<circle cx="229.9" cy="244.9" r="9.7" fill="#d6c85c"/>
<text class="k" x="229.9" y="247.1">Fabp5</text>
<rect x="234.2" y="252.6" width="19.2" height="19.2" fill="#d6c85c"/>
<text class="k s" x="243.8" y="263.9">mt-Cytb</text>
<circle cx="261.4" cy="260.8" r="9.7" fill="#d6c85c"/>
<text class="k" x="261.4" y="263">Cox10</text>
<circle cx="227.3" cy="279.2" r="9.7" fill="#d6c85c"/>
<rect x="233.6" y="267.6" width="19.2" height="19.2" fill="#d6c85c"/>
<rect x="241.7" y="270" width="19.2" height="19.2" fill="#d6c85c"/>
<text class="k s" x="227.3" y="280.9">mt-Nd4l</text>
<text class="k" x="244.4" y="277.2">Ndufs2</text>
<text class="k" x="251.3" y="283.1">mt-Nd4</text>
<rect x="260.8" y="266.8" width="19.2" height="19.2" fill="#362f6e"/>
<text class="w" x="270.4" y="278.6">Cox8a</text>
<rect x="260.9" y="285.6" width="19.2" height="19.2" fill="#d6c85c"/>
<text class="k s" x="270.5" y="293.9">Ndufa4l2</text>
<circle cx="237.5" cy="296.1" r="9.7" fill="#d6c85c"/>
<text class="k s" x="237.5" y="297.8">Ndufb10</text>
<rect x="244.1" y="288.9" width="19.2" height="19.2" fill="#362f6e"/>
<text class="w s" x="253.7" y="300.2">Ndufb3</text>
<rect x="233.6" y="306.3" width="19.2" height="19.2" fill="#362f6e"/>
<text class="w" x="243.2" y="318.1">Atp1b1</text>
<rect x="205.9" y="312.8" width="19.2" height="19.2" fill="#362f6e"/>
<text class="w" x="215.5" y="324.6">Fxyd6</text>
<rect x="227.3" y="335.3" width="19.2" height="19.2" fill="#362f6e"/>
<text class="w" x="236.9" y="347.1">Atp1a1</text>
<rect x="243" y="324.4" width="19.2" height="19.2" fill="#d6c85c"/>
<text class="k" x="252.6" y="336.2">Atp1a4</text>
<circle cx="221.3" cy="339.1" r="9.7" fill="#362f6e"/>
<text class="w" x="221.3" y="341.3">Atp1b4</text>
<rect x="290.7" y="169.2" width="19.2" height="19.2" fill="#d6c85c"/>
<text class="k" x="300.3" y="181">Pdgfc</text>
<circle cx="316.5" cy="196.2" r="9.7" fill="#362f6e"/>
<text class="w" x="316.5" y="198.4">Ngfr</text>
<circle cx="282.9" cy="204.3" r="9.7" fill="#d6c85c"/>
<text class="k" x="282.9" y="206.5">Chuk</text>
<rect x="294" y="202.9" width="19.2" height="19.2" fill="#d6c85c"/>
<text class="k" x="303.6" y="212.4">Kit</text>
<circle cx="332.2" cy="213.9" r="9.7" fill="#362f6e"/>
<text class="w" x="332.2" y="216.1">Thbs2</text>
<rect x="300.8" y="212.2" width="19.2" height="19.2" fill="#d6c85c"/>
<text class="k" x="310.4" y="224">Thbs1</text>
<circle cx="333.9" cy="231" r="9.7" fill="#362f6e"/>
<text class="w" x="333.9" y="233.2">Itga9</text>
<circle cx="288.7" cy="243.6" r="9.7" fill="#362f6e"/>
<text class="w" x="288.7" y="245.8">Psmd5</text>
<circle cx="288.7" cy="228.5" r="9.7" fill="#362f6e"/>
<text class="w" x="288.7" y="230.7">Ccnd1</text>
<rect x="299.8" y="226" width="19.2" height="19.2" fill="#362f6e"/>
<text class="w" x="309.4" y="237.8">Psmb5</text>
<rect x="284.1" y="249.2" width="19.2" height="19.2" fill="#362f6e"/>
<text class="w" x="293.7" y="261">Psmd11</text>
<rect x="303.1" y="242.1" width="19.2" height="19.2" fill="#362f6e"/>
<text class="w" x="312.7" y="253.9">Psmd8</text>
<circle cx="55.5" cy="61.8" r="9.7" fill="#362f6e"/>
<text class="w g" x="55.5" y="64.1">Hlf</text>
<circle cx="58.7" cy="79.5" r="9.2" fill="#362f6e" stroke="#d5451d" stroke-width="1"/>
<text class="w g" x="58.7" y="81.8">Per2</text>
<circle cx="50.7" cy="104.6" r="9.2" fill="#362f6e" stroke="#d5451d" stroke-width="1"/>
<text class="w g" x="50.7" y="106.9">Nr1d1</text>
<circle cx="82.5" cy="109.7" r="9.7" fill="#362f6e"/>
<text class="w s" x="82.5" y="111.4">Bhlhe40</text>
<circle cx="66.4" cy="100.2" r="9.2" fill="#d6c85c" stroke="#d5451d" stroke-width="1"/>
<text class="k g" x="66.4" y="102.5">Cry1</text>
<circle cx="85.7" cy="95.4" r="9.2" fill="#362f6e" stroke="#d5451d" stroke-width="1"/>
<text class="w g" x="85.7" y="97.7">Per3</text>
<circle cx="96.9" cy="81.2" r="9.2" fill="#d6c85c" stroke="#d5451d" stroke-width="1"/>
<text class="k g" x="96.9" y="83.5">Clock</text>
<circle cx="48.5" cy="88.5" r="9.2" fill="#362f6e" stroke="#d5451d" stroke-width="1"/>
<text class="w g" x="48.5" y="90.8">Per1</text>
<circle cx="74.3" cy="87.3" r="9.2" fill="#d6c85c" stroke="#d5451d" stroke-width="1"/>
<text class="k g" x="74.3" y="89.6">Npas2</text>
<circle cx="37.5" cy="71.7" r="9.2" fill="#362f6e" stroke="#d5451d" stroke-width="1"/>
<text class="w g" x="37.5" y="74">Nr1d2</text>
<circle cx="29.9" cy="97.1" r="9.2" fill="#362f6e" stroke="#d5451d" stroke-width="1"/>
<text class="w g" x="29.9" y="99.4">Cry2</text>
<rect x="94.2" y="91.7" width="18.2" height="18.2" fill="#362f6e" stroke="#d5451d" stroke-width="1"/>
<text class="w g" x="103.3" y="103.1">Rorc</text>
<rect x="68.2" y="58.7" width="18.2" height="18.2" fill="#d6c85c" stroke="#d5451d" stroke-width="1"/>
<text class="k g" x="77.3" y="70.1">Arntl</text>
<rect x="31.1" y="113.2" width="19.2" height="19.2" fill="#d6c85c"/>
<text class="k g" x="40.7" y="125.1">Nfil3</text>
<circle cx="62.3" cy="119.9" r="9.2" fill="none" stroke="#d5451d" stroke-width="1"/>
<text class="k g" x="62.3" y="122.2">Rorb</text>
<circle cx="80.1" cy="131.1" r="9.2" fill="#d6c85c" stroke="#d5451d" stroke-width="1"/>
<text class="k g" x="80.1" y="133.4">Rora</text>
</g>
<g id="panel-b">
<path class="e" d="M399 60.4Q401.7 69.1 402.2 78.1M399 60.4Q395.3 70.2 402.2 78.1M399 60.4Q394 81.5 394.2 103.2M399 60.4Q409.4 83.2 394.2 103.2M399 60.4Q415.4 82.7 426 108.3M399 60.4Q398.1 92.4 426 108.3M399 60.4Q402.1 80.3 409.9 98.8M399 60.4Q416 76.3 409.9 98.8M399 60.4Q416.1 75.4 429.2 94M399 60.4Q404 86.3 429.2 94M399 60.4Q418.5 72.6 440.4 79.8M399 60.4Q425.5 57.7 440.4 79.8M399 60.4Q397.1 74.2 392 87.1M399 60.4Q387.5 71.7 392 87.1M399 60.4Q406.9 74.3 417.8 85.9M399 60.4Q416 67.5 417.8 85.9M399 60.4Q390.6 66.4 381 70.3M399 60.4Q387 59.9 381 70.3M399 60.4Q384.1 76.5 373.4 95.7M399 60.4Q396.8 85.7 373.4 95.7M399 60.4Q425.2 77 446.8 99.4M399 60.4Q411.2 94.2 446.8 99.4M399 60.4Q409.5 64.7 420.8 66.4M399 60.4Q411.7 56.9 420.8 66.4M399 60.4Q405.9 89 405.8 118.5M399 60.4Q385 91.5 405.8 118.5M399 60.4Q407.1 96.5 423.6 129.7M399 60.4Q432.1 87.7 423.6 129.7M402.2 78.1Q399.7 91.1 394.2 103.2M402.2 78.1Q390.7 88.2 394.2 103.2M402.2 78.1Q412.3 94.6 426 108.3M402.2 78.1Q423.2 86.1 426 108.3M402.2 78.1Q407.3 88 409.9 98.8M402.2 78.1Q399.8 90.8 409.9 98.8M402.2 78.1Q414.7 87.7 429.2 94M402.2 78.1Q420.5 78 429.2 94M402.2 78.1Q421.4 76.7 440.4 79.8M402.2 78.1Q420.8 90.4 440.4 79.8M402.2 78.1Q396.6 82 392 87.1M402.2 78.1Q399.8 85.7 392 87.1M402.2 78.1Q410.5 81.1 417.8 85.9M402.2 78.1Q407.7 86.7 417.8 85.9M402.2 78.1Q392.1 72.9 381 70.3M402.2 78.1Q389.3 80.6 381 70.3M402.2 78.1Q388.9 88.6 373.4 95.7M402.2 78.1Q382.5 78.3 373.4 95.7M402.2 78.1Q423.2 91.4 446.8 99.4M402.2 78.1Q430.9 75.4 446.8 99.4M402.2 78.1Q410.8 71.1 420.8 66.4M402.2 78.1Q415 77.8 420.8 66.4M402.2 78.1Q401.6 98.5 405.8 118.5M402.2 78.1Q416.1 97.2 405.8 118.5M402.2 78.1Q416 102.6 423.6 129.7M402.2 78.1Q397.4 110.3 423.6 129.7M394.2 103.2Q409.8 107.7 426 108.3M394.2 103.2Q411.6 96.2 426 108.3M394.2 103.2Q401.8 100.1 409.9 98.8M394.2 103.2Q403.4 105.7 409.9 98.8M394.2 103.2Q412.3 100.7 429.2 94M394.2 103.2Q408.9 88.1 429.2 94M394.2 103.2Q415.9 88.7 440.4 79.8M394.2 103.2Q424.3 105.4 440.4 79.8M394.2 103.2Q394.1 95 392 87.1M394.2 103.2Q388.3 95.8 392 87.1M394.2 103.2Q405 93.1 417.8 85.9M394.2 103.2Q411.2 101.6 417.8 85.9M394.2 103.2Q389.6 86 381 70.3M394.2 103.2Q377.7 90.7 381 70.3M394.2 103.2Q383.3 100.7 373.4 95.7M394.2 103.2Q386 93.2 373.4 95.7M394.2 103.2Q420.7 104.5 446.8 99.4M394.2 103.2Q419.4 85.5 446.8 99.4M394.2 103.2Q405.3 83.2 420.8 66.4M394.2 103.2Q418.5 92.8 420.8 66.4M394.2 103.2Q399.1 111.5 405.8 118.5M394.2 103.2Q404.6 107.4 405.8 118.5M394.2 103.2Q410.5 114.7 423.6 129.7M394.2 103.2Q400.9 125.3 423.6 129.7M426 108.3Q418.5 102.6 409.9 98.8M426 108.3Q415.1 108.4 409.9 98.8M426 108.3Q426.7 101 429.2 94M426 108.3Q431.9 102.1 429.2 94M426 108.3Q434.9 94.9 440.4 79.8M426 108.3Q424.6 89.7 440.4 79.8M426 108.3Q407.7 99.7 392 87.1M426 108.3Q415.4 87.5 392 87.1M426 108.3Q423.2 96.6 417.8 85.9M426 108.3Q415.2 99.6 417.8 85.9M426 108.3Q401.2 92 381 70.3M426 108.3Q414.9 75.8 381 70.3M426 108.3Q400.5 98.8 373.4 95.7M426 108.3Q395.9 117.8 373.4 95.7M426 108.3Q435.9 102.6 446.8 99.4M426 108.3Q439.1 110.1 446.8 99.4M426 108.3Q425.9 87 420.8 66.4M426 108.3Q410.8 88.9 420.8 66.4M426 108.3Q416.5 114.6 405.8 118.5M426 108.3Q412.8 107.3 405.8 118.5M426 108.3Q423.5 118.9 423.6 129.7M426 108.3Q431.2 119.7 423.6 129.7M409.9 98.8Q419.3 95.2 429.2 94M409.9 98.8Q421 102.2 429.2 94M409.9 98.8Q426.3 91.1 440.4 79.8M409.9 98.8Q419.4 80.1 440.4 79.8M409.9 98.8Q400.2 94 392 87.1M409.9 98.8Q404.5 87.6 392 87.1M409.9 98.8Q414.6 92.8 417.8 85.9M409.9 98.8Q410 90 417.8 85.9M409.9 98.8Q393.7 86.3 381 70.3M409.9 98.8Q404 75.9 381 70.3M409.9 98.8Q391.8 95.1 373.4 95.7M409.9 98.8Q390.7 108.2 373.4 95.7M409.9 98.8Q428.4 96.9 446.8 99.4M409.9 98.8Q428.2 110.2 446.8 99.4M409.9 98.8Q417.3 83.3 420.8 66.4M409.9 98.8Q405.6 79.3 420.8 66.4M409.9 98.8Q409 108.9 405.8 118.5M409.9 98.8Q401.9 107.4 405.8 118.5M409.9 98.8Q414.9 115.1 423.6 129.7M409.9 98.8Q426 110.1 423.6 129.7M429.2 94Q433.9 86.2 440.4 79.8M429.2 94Q439.1 90.3 440.4 79.8M429.2 94Q411 88.3 392 87.1M429.2 94Q408.5 101.7 392 87.1M429.2 94Q423 90.6 417.8 85.9M429.2 94Q425.9 86.5 417.8 85.9M429.2 94Q406.5 79.3 381 70.3M429.2 94Q398 96.6 381 70.3M429.2 94Q401.4 98.2 373.4 95.7M429.2 94Q400.8 78.1 373.4 95.7M429.2 94Q437.7 97.8 446.8 99.4M429.2 94Q439.6 91.4 446.8 99.4M429.2 94Q423.3 80.7 420.8 66.4M429.2 94Q433.3 77.7 420.8 66.4M429.2 94Q416 104.8 405.8 118.5M429.2 94Q424.9 113.3 405.8 118.5M429.2 94Q428.5 112.2 423.6 129.7M429.2 94Q415.7 110.2 423.6 129.7M440.4 79.8Q415.8 80.5 392 87.1M440.4 79.8Q418.4 98 392 87.1M440.4 79.8Q429.5 84.2 417.8 85.9M440.4 79.8Q427.3 76.1 417.8 85.9M440.4 79.8Q411.3 71.5 381 70.3M440.4 79.8Q407.8 92.9 381 70.3M440.4 79.8Q407.9 91.8 373.4 95.7M440.4 79.8Q402.1 67.7 373.4 95.7M440.4 79.8Q442.4 90 446.8 99.4M440.4 79.8Q449.5 87.7 446.8 99.4M440.4 79.8Q429.8 74.3 420.8 66.4M440.4 79.8Q434.6 67.2 420.8 66.4M440.4 79.8Q420.8 97.1 405.8 118.5M440.4 79.8Q434.7 109.5 405.8 118.5M440.4 79.8Q435 105.8 423.6 129.7M440.4 79.8Q417 99.7 423.6 129.7M392 87.1Q405 88 417.8 85.9M392 87.1Q404.5 78.8 417.8 85.9M392 87.1Q385.5 79.4 381 70.3M392 87.1Q391.5 75.4 381 70.3M392 87.1Q382.2 90.3 373.4 95.7M392 87.1Q385.3 97 373.4 95.7M392 87.1Q420.1 90 446.8 99.4M392 87.1Q415.7 109.7 446.8 99.4M392 87.1Q407.6 78.5 420.8 66.4M392 87.1Q400.2 68.1 420.8 66.4M392 87.1Q400.8 102 405.8 118.5M392 87.1Q389.5 106.9 405.8 118.5M392 87.1Q405.2 110.3 423.6 129.7M392 87.1Q420.6 98.9 423.6 129.7M417.8 85.9Q398.5 80.3 381 70.3M417.8 85.9Q404.1 67.1 381 70.3M417.8 85.9Q395 88.1 373.4 95.7M417.8 85.9Q398.5 104.1 373.4 95.7M417.8 85.9Q433.1 90.9 446.8 99.4M417.8 85.9Q428.2 101.3 446.8 99.4M417.8 85.9Q420.5 76.3 420.8 66.4M417.8 85.9Q413.4 75.2 420.8 66.4M417.8 85.9Q413.8 102.9 405.8 118.5M417.8 85.9Q402 98.6 405.8 118.5M417.8 85.9Q418.1 108.1 423.6 129.7M417.8 85.9Q433.8 106.1 423.6 129.7M381 70.3Q378.7 83.5 373.4 95.7M381 70.3Q369.6 80.7 373.4 95.7M381 70.3Q412.2 88.8 446.8 99.4M381 70.3Q422.6 65.1 446.8 99.4M381 70.3Q400.7 66 420.8 66.4M381 70.3Q402.1 80.3 420.8 66.4M381 70.3Q390.5 95.9 405.8 118.5M381 70.3Q407.9 87 405.8 118.5M381 70.3Q405.9 97.4 423.6 129.7M381 70.3Q384.5 112.8 423.6 129.7M373.4 95.7Q409.9 102 446.8 99.4M373.4 95.7Q411.2 75.5 446.8 99.4M373.4 95.7Q395.3 78.2 420.8 66.4M373.4 95.7Q405.9 95.3 420.8 66.4M373.4 95.7Q388.2 109 405.8 118.5M373.4 95.7Q396.4 97.4 405.8 118.5M373.4 95.7Q400.5 109.7 423.6 129.7M373.4 95.7Q388.3 127.8 423.6 129.7M446.8 99.4Q435.8 81.3 420.8 66.4M446.8 99.4Q423.9 90.7 420.8 66.4M446.8 99.4Q427.4 111.4 405.8 118.5M446.8 99.4Q420.6 96.6 405.8 118.5M446.8 99.4Q433.4 113.2 423.6 129.7M446.8 99.4Q444.3 121.5 423.6 129.7M420.8 66.4Q416.4 93.3 405.8 118.5M420.8 66.4Q397.7 87.9 405.8 118.5M420.8 66.4Q418.4 98.2 423.6 129.7M420.8 66.4Q441.2 97.2 423.6 129.7M405.8 118.5Q415.4 123 423.6 129.7M405.8 118.5Q411.3 129.4 423.6 129.7M385.1 117.9Q390.5 111.1 394.2 103.2M385.1 117.9Q385.2 107.8 394.2 103.2M385.1 117.9Q386.7 102.1 392 87.1M385.1 117.9Q397.8 104.6 392 87.1M385.1 117.9Q395.4 119.4 405.8 118.5M385.1 117.9Q395.6 112 405.8 118.5M385.1 117.9Q377.9 107.5 373.4 95.7M385.1 117.9Q385.9 103.3 373.4 95.7M461 84.9Q451 81.1 440.4 79.8M461 84.9Q449.2 88.5 440.4 79.8M461 84.9Q445.6 91.4 429.2 94M461 84.9Q442.4 79.9 429.2 94M461 84.9Q453 91.3 446.8 99.4M461 84.9Q458.2 96.4 446.8 99.4M423.6 129.7Q429.6 138.2 433.5 147.9M423.6 129.7Q423.1 141.8 433.5 147.9M462.1 51.9Q459.6 68.3 461 84.9M462.1 51.9Q471.4 68.7 461 84.9M462.1 51.9Q477.4 67.7 488.6 86.7M462.1 51.9Q464.9 77.2 488.6 86.7M461 84.9Q474.7 87.5 488.6 86.7M461 84.9Q475.3 77.5 488.6 86.7M461 84.9Q487.5 76.6 515.3 74.9M461 84.9Q491.1 96.2 515.3 74.9M461 84.9Q466.1 103.8 475.5 120.9M461 84.9Q479.1 98.6 475.5 120.9M488.6 86.7Q501.2 79.2 515.3 74.9M488.6 86.7Q505.5 88.8 515.3 74.9M488.6 86.7Q480 103 475.5 120.9M488.6 86.7Q492.3 107.7 475.5 120.9M488.6 86.7Q503.6 97.7 515.6 111.9M488.6 86.7Q494.5 107.4 515.6 111.9M515.3 74.9Q513.2 93.4 515.6 111.9M515.3 74.9Q526.6 93.3 515.6 111.9M475.5 120.9Q495 114 515.6 111.9M475.5 120.9Q498.2 128.4 515.6 111.9M461 84.9Q486.7 101.7 515.6 111.9M461 84.9Q496.4 82 515.6 111.9M603.5 47.9Q609.7 66.2 611.3 85.5M603.5 47.9Q596.1 69 611.3 85.5M551.7 79.9Q563.3 82.9 575.2 83M551.7 79.9Q564.4 74.4 575.2 83M575.2 83Q584.7 79.9 594.7 79.2M575.2 83Q586.1 86.9 594.7 79.2M575.2 83Q581 90.4 588.4 96.3M575.2 83Q585.8 85.7 588.4 96.3M575.2 83Q580.9 98.7 582.8 115.3M575.2 83Q569.3 101.4 582.8 115.3M594.7 79.2Q602.6 83.3 611.3 85.5M594.7 79.2Q604.9 77.4 611.3 85.5M611.3 85.5Q623.5 86.3 635.1 90M611.3 85.5Q621.9 94.9 635.1 90M611.3 85.5Q599.2 89.5 588.4 96.3M611.3 85.5Q603.1 97.8 588.4 96.3M611.3 85.5Q598.8 102.1 582.8 115.3M611.3 85.5Q588.1 91.9 582.8 115.3M588.4 96.3Q584.5 105.5 582.8 115.3M588.4 96.3Q591.3 107.5 582.8 115.3M582.8 115.3Q573.8 124.4 562.9 131.1M582.8 115.3Q568.1 117.2 562.9 131.1M582.8 115.3Q588 125.2 595.4 133.6M582.8 115.3Q594.6 120.7 595.4 133.6M582.8 115.3Q582.8 131.1 579 146.4M582.8 115.3Q571.6 129.7 579 146.4M562.9 131.1Q579 134.3 595.4 133.6M562.9 131.1Q579.9 122.6 595.4 133.6M562.9 131.1Q571.9 137.8 579 146.4M562.9 131.1Q566.4 143.6 579 146.4M595.4 133.6Q586.4 139 579 146.4M595.4 133.6Q591 144.9 579 146.4M551.7 79.9Q571 85.9 588.4 96.3M551.7 79.9Q565.1 99.1 588.4 96.3M594.7 79.2Q614.3 87 635.1 90M594.7 79.2Q618.1 72.5 635.1 90M594.7 79.2Q592.6 88.1 588.4 96.3M594.7 79.2Q586.4 85.9 588.4 96.3M540.9 135.9Q529 139.6 518.4 146M540.9 135.9Q532.7 147.7 518.4 146M540.9 135.9Q546.6 147.7 549.3 160.6M540.9 135.9Q537.7 150.8 549.3 160.6M540.9 135.9Q531.9 150.2 526.6 166.2M540.9 135.9Q542.8 155.3 526.6 166.2M518.4 146Q534.7 151.4 549.3 160.6M518.4 146Q529.5 162.6 549.3 160.6M518.4 146Q521.3 156.6 526.6 166.2M518.4 146Q528.6 153.6 526.6 166.2M549.3 160.6Q538.3 164.8 526.6 166.2M549.3 160.6Q536.3 156.6 526.6 166.2M549.3 160.6Q547.4 168.5 547.5 176.7M549.3 160.6Q553.2 169.2 547.5 176.7M526.6 166.2Q537.7 170.2 547.5 176.7M526.6 166.2Q533.9 177.7 547.5 176.7M547.5 176.7Q556.7 180 566.4 181M547.5 176.7Q558.2 173.2 566.4 181M547.5 176.7Q544.5 184.7 539.7 191.7M547.5 176.7Q539.1 181.9 539.7 191.7M547.5 176.7Q557.2 188.3 569.4 197.2M547.5 176.7Q564.6 180.4 569.4 197.2M547.5 176.7Q551.3 193.4 551 210.6M547.5 176.7Q539.1 194.7 551 210.6M566.4 181Q566.9 189.3 569.4 197.2M566.4 181Q572.8 188.2 569.4 197.2M566.4 181Q553.7 188 539.7 191.7M566.4 181Q549.8 178.3 539.7 191.7M539.7 191.7Q554.2 196.2 569.4 197.2M539.7 191.7Q556.2 185.5 569.4 197.2M539.7 191.7Q546.5 200.5 551 210.6M539.7 191.7Q539.7 204.5 551 210.6M569.4 197.2Q559.4 202.8 551 210.6M569.4 197.2Q564.2 209.4 551 210.6M566.4 181Q560.5 196.7 551 210.6M566.4 181Q549.8 191.2 551 210.6M569.4 197.2Q571.6 208.5 576.4 218.9M569.4 197.2Q579.4 206 576.4 218.9M551 210.6Q564.2 213.2 576.4 218.9M551 210.6Q561.2 222.4 576.4 218.9M540.9 135.9Q541.8 156.7 547.5 176.7M540.9 135.9Q556.4 154.3 547.5 176.7M433.5 147.9Q433.1 158.8 430.1 169.2M433.5 147.9Q425.4 157.5 430.1 169.2M433.5 147.9Q440 157.1 448.5 164.5M433.5 147.9Q446 151.7 448.5 164.5M433.5 147.9Q453 151.7 471.1 160.1M433.5 147.9Q448.6 165.3 471.1 160.1M433.5 147.9Q422.7 163.8 415.9 181.9M433.5 147.9Q434.9 170.2 415.9 181.9M433.5 147.9Q458.6 159.3 480.3 176.3M433.5 147.9Q448.4 176.1 480.3 176.3M433.5 147.9Q444.5 165.1 459.2 179.2M433.5 147.9Q455.7 155.8 459.2 179.2M433.5 147.9Q440.5 167.7 442.7 188.7M433.5 147.9Q425.9 171.1 442.7 188.7M433.5 147.9Q447.9 181.8 470 211.3M433.5 147.9Q470.8 168.7 470 211.3M433.5 147.9Q451.4 169.9 463.5 195.6M433.5 147.9Q434.2 180.8 463.5 195.6M433.5 147.9Q456.5 175.5 485.3 196.9M433.5 147.9Q474.1 156.9 485.3 196.9M433.5 147.9Q433.1 173.5 426.7 198.2M433.5 147.9Q415 171 426.7 198.2M433.5 147.9Q429.4 182.1 433.5 216.3M433.5 147.9Q454 182.1 433.5 216.3M433.5 147.9Q443.9 174.8 447.7 203.5M433.5 147.9Q423.9 180 447.7 203.5M433.5 147.9Q438.9 185.9 453.2 221.6M433.5 147.9Q465.5 178.8 453.2 221.6M430.1 169.2Q439 165.7 448.5 164.5M430.1 169.2Q440.7 172.4 448.5 164.5M430.1 169.2Q451.1 167.1 471.1 160.1M430.1 169.2Q447.9 152.3 471.1 160.1M430.1 169.2Q423.8 176.4 415.9 181.9M430.1 169.2Q419.2 171.3 415.9 181.9M430.1 169.2Q454.8 175.8 480.3 176.3M430.1 169.2Q457.3 157.7 480.3 176.3M430.1 169.2Q445.2 172.5 459.2 179.2M430.1 169.2Q441.6 182.9 459.2 179.2M430.1 169.2Q435.2 179.7 442.7 188.7M430.1 169.2Q442.2 175.2 442.7 188.7M430.1 169.2Q452.6 187.9 470 211.3M430.1 169.2Q437.4 202.2 470 211.3M430.1 169.2Q445.2 184.4 463.5 195.6M430.1 169.2Q454.7 172.4 463.5 195.6M430.1 169.2Q459.4 179.7 485.3 196.9M430.1 169.2Q449.4 199.6 485.3 196.9M430.1 169.2Q426.7 183.5 426.7 198.2M430.1 169.2Q437.1 184.7 426.7 198.2M430.1 169.2Q434.6 192.5 433.5 216.3M430.1 169.2Q417.7 193.8 433.5 216.3M430.1 169.2Q436.8 187.4 447.7 203.5M430.1 169.2Q449.2 181.1 447.7 203.5M430.1 169.2Q444.8 194 453.2 221.6M430.1 169.2Q425.9 202.3 453.2 221.6M448.5 164.5Q460.1 163.7 471.1 160.1M448.5 164.5Q458.5 155.5 471.1 160.1M448.5 164.5Q433.2 175.2 415.9 181.9M448.5 164.5Q427 163.4 415.9 181.9M448.5 164.5Q463.7 172.3 480.3 176.3M448.5 164.5Q467.9 160.9 480.3 176.3M448.5 164.5Q454.7 171.2 459.2 179.2M448.5 164.5Q449.4 175.1 459.2 179.2M448.5 164.5Q444.1 176.3 442.7 188.7M448.5 164.5Q452.9 178.3 442.7 188.7M448.5 164.5Q462.1 186.6 470 211.3M448.5 164.5Q445.2 194.3 470 211.3M448.5 164.5Q454.1 181 463.5 195.6M448.5 164.5Q465.3 175.6 463.5 195.6M448.5 164.5Q468.8 178.5 485.3 196.9M448.5 164.5Q457.2 191.7 485.3 196.9M448.5 164.5Q435.6 180 426.7 198.2M448.5 164.5Q447.7 187.9 426.7 198.2M448.5 164.5Q444.1 191.3 433.5 216.3M448.5 164.5Q425.5 185.9 433.5 216.3M448.5 164.5Q445.8 184 447.7 203.5M448.5 164.5Q459.8 184.2 447.7 203.5M448.5 164.5Q454.3 192.8 453.2 221.6M448.5 164.5Q433.7 194.5 453.2 221.6M471.1 160.1Q442.2 167.7 415.9 181.9M471.1 160.1Q450 187.6 415.9 181.9M471.1 160.1Q476.7 167.6 480.3 176.3M471.1 160.1Q470.8 171 480.3 176.3M471.1 160.1Q464 168.9 459.2 179.2M471.1 160.1Q470.9 173.2 459.2 179.2M471.1 160.1Q458.6 176.1 442.7 188.7M471.1 160.1Q448.3 165.9 442.7 188.7M471.1 160.1Q467.5 185.6 470 211.3M471.1 160.1Q485.9 186 470 211.3M471.1 160.1Q469.4 178.3 463.5 195.6M471.1 160.1Q456.6 175.6 463.5 195.6M471.1 160.1Q476 179.4 485.3 196.9M471.1 160.1Q489.2 174.2 485.3 196.9M471.1 160.1Q451.2 181.8 426.7 198.2M471.1 160.1Q437.5 165.8 426.7 198.2M471.1 160.1Q448.9 185.9 433.5 216.3M471.1 160.1Q469.2 199.5 433.5 216.3M471.1 160.1Q462 183.2 447.7 203.5M471.1 160.1Q446.4 174.8 447.7 203.5M471.1 160.1Q458.5 189.8 453.2 221.6M471.1 160.1Q480.6 196.2 453.2 221.6M415.9 181.9Q447.8 175.2 480.3 176.3M415.9 181.9Q449.8 198.4 480.3 176.3M415.9 181.9Q437.7 183.1 459.2 179.2M415.9 181.9Q436.7 167.6 459.2 179.2M415.9 181.9Q429.7 183.7 442.7 188.7M415.9 181.9Q427.3 193.3 442.7 188.7M415.9 181.9Q441.2 199.8 470 211.3M415.9 181.9Q451.8 180.4 470 211.3M415.9 181.9Q440.5 185.9 463.5 195.6M415.9 181.9Q435.6 203 463.5 195.6M415.9 181.9Q449.7 193.6 485.3 196.9M415.9 181.9Q455.1 168.6 485.3 196.9M415.9 181.9Q422.3 189.4 426.7 198.2M415.9 181.9Q416.4 193.3 426.7 198.2M415.9 181.9Q422.6 200.2 433.5 216.3M415.9 181.9Q435 193.8 433.5 216.3M415.9 181.9Q433.1 190.8 447.7 203.5M415.9 181.9Q425.3 202.2 447.7 203.5M415.9 181.9Q432.2 204 453.2 221.6M415.9 181.9Q446.5 190.6 453.2 221.6M480.3 176.3Q469.9 179 459.2 179.2M480.3 176.3Q468.9 171.4 459.2 179.2M480.3 176.3Q460.8 180.2 442.7 188.7M480.3 176.3Q465.2 193.8 442.7 188.7M480.3 176.3Q477.2 194.4 470 211.3M480.3 176.3Q464.6 190.7 470 211.3M480.3 176.3Q470.7 184.9 463.5 195.6M480.3 176.3Q477.7 191 463.5 195.6M480.3 176.3Q484 186.3 485.3 196.9M480.3 176.3Q476.6 188.1 485.3 196.9M480.3 176.3Q452.2 184 426.7 198.2M480.3 176.3Q460.1 203.3 426.7 198.2M480.3 176.3Q459.3 199.1 433.5 216.3M480.3 176.3Q444.9 182.3 433.5 216.3M480.3 176.3Q462.4 187.9 447.7 203.5M480.3 176.3Q472.2 199.7 447.7 203.5M480.3 176.3Q469.5 200.6 453.2 221.6M480.3 176.3Q453.2 190.8 453.2 221.6M459.2 179.2Q450.4 183 442.7 188.7M459.2 179.2Q453.8 188.9 442.7 188.7M459.2 179.2Q466.5 194.6 470 211.3M459.2 179.2Q455 198.5 470 211.3M459.2 179.2Q460.4 187.7 463.5 195.6M459.2 179.2Q466.3 186.1 463.5 195.6M459.2 179.2Q473.3 186.5 485.3 196.9M459.2 179.2Q466.9 195.9 485.3 196.9M459.2 179.2Q441.8 186.8 426.7 198.2M459.2 179.2Q448.6 198.4 426.7 198.2M459.2 179.2Q448.6 199.3 433.5 216.3M459.2 179.2Q435.2 190 433.5 216.3M459.2 179.2Q452 190.7 447.7 203.5M459.2 179.2Q460.7 194.8 447.7 203.5M459.2 179.2Q458.7 200.8 453.2 221.6M459.2 179.2Q443.5 198.6 453.2 221.6M442.7 188.7Q455 201.6 470 211.3M442.7 188.7Q463.1 191.8 470 211.3M442.7 188.7Q453.5 190.9 463.5 195.6M442.7 188.7Q451 198.4 463.5 195.6M442.7 188.7Q463.5 195.4 485.3 196.9M442.7 188.7Q466.5 180 485.3 196.9M442.7 188.7Q435.3 194.4 426.7 198.2M442.7 188.7Q431.8 188.6 426.7 198.2M442.7 188.7Q436.4 201.9 433.5 216.3M442.7 188.7Q446.4 205.3 433.5 216.3M442.7 188.7Q446.1 195.8 447.7 203.5M442.7 188.7Q440.8 197.6 447.7 203.5M442.7 188.7Q446 205.8 453.2 221.6M442.7 188.7Q457.8 202 453.2 221.6M470 211.3Q465.8 203.8 463.5 195.6M470 211.3Q471.5 201.5 463.5 195.6M470 211.3Q478.5 205 485.3 196.9M470 211.3Q473.3 199.5 485.3 196.9M470 211.3Q447.6 207.3 426.7 198.2M470 211.3Q452.3 191.8 426.7 198.2M470 211.3Q451.4 211.6 433.5 216.3M470 211.3Q453.2 224.7 433.5 216.3M470 211.3Q458.4 208.7 447.7 203.5M470 211.3Q461.2 200.7 447.7 203.5M470 211.3Q461 215.4 453.2 221.6M470 211.3Q464.7 221.5 453.2 221.6M463.5 195.6Q474.5 194.9 485.3 196.9M463.5 195.6Q474 202.8 485.3 196.9M463.5 195.6Q444.9 194.7 426.7 198.2M463.5 195.6Q445.9 207.9 426.7 198.2M463.5 195.6Q449.7 207.8 433.5 216.3M463.5 195.6Q442.3 196.9 433.5 216.3M463.5 195.6Q455.1 198.6 447.7 203.5M463.5 195.6Q458 204.3 447.7 203.5M463.5 195.6Q459.9 209.2 453.2 221.6M463.5 195.6Q450.6 205.5 453.2 221.6M485.3 196.9Q455.9 194 426.7 198.2M485.3 196.9Q456.4 215.1 426.7 198.2M485.3 196.9Q460.6 209.7 433.5 216.3M485.3 196.9Q453.6 191.1 433.5 216.3M485.3 196.9Q466.1 197.9 447.7 203.5M485.3 196.9Q468.5 211.5 447.7 203.5M485.3 196.9Q470.7 211.2 453.2 221.6M485.3 196.9Q461.8 199.6 453.2 221.6M426.7 198.2Q429 207.7 433.5 216.3M426.7 198.2Q435.5 205.2 433.5 216.3M426.7 198.2Q437.5 199.6 447.7 203.5M426.7 198.2Q435.6 207.2 447.7 203.5M426.7 198.2Q438.5 211.5 453.2 221.6M426.7 198.2Q447 201.9 453.2 221.6M433.5 216.3Q439.8 209 447.7 203.5M433.5 216.3Q444.4 214.2 447.7 203.5M433.5 216.3Q443 220.1 453.2 221.6M433.5 216.3Q444.9 213 453.2 221.6M447.7 203.5Q451.5 212.2 453.2 221.6M447.7 203.5Q445 214.2 453.2 221.6M496.3 182.8Q505.1 191.2 515.6 197.2M496.3 182.8Q510.3 184.2 515.6 197.2M496.3 182.8Q498.8 196.9 497.9 211.1M496.3 182.8Q488.6 197.4 497.9 211.1M515.6 197.2Q505.9 203.1 497.9 211.1M515.6 197.2Q510.9 209.5 497.9 211.1M485.3 196.9Q490 189.2 496.3 182.8M485.3 196.9Q495 193.2 496.3 182.8M480.3 176.3Q487.9 180.5 496.3 182.8M480.3 176.3Q490.2 174.7 496.3 182.8M368.7 169.3Q377.4 175.4 384.5 183.4M368.7 169.3Q372.4 181.1 384.5 183.4M368.7 169.3Q383.1 184.2 400.6 195.3M368.7 169.3Q392.4 172.7 400.6 195.3M384.5 183.4Q393.3 188.4 400.6 195.3M384.5 183.4Q389 194.2 400.6 195.3M408.6 222.5Q408.8 237.6 412.5 252.3M408.6 222.5Q419.5 236.2 412.5 252.3M408.6 222.5Q402.7 245.3 391.5 266M408.6 222.5Q387 239.1 391.5 266M365.2 250.2Q388.7 254.1 412.5 252.3M365.2 250.2Q389.5 237.1 412.5 252.3M365.2 250.2Q379.3 256.5 391.5 266M365.2 250.2Q373.6 266 391.5 266M412.5 252.3Q401.2 257.9 391.5 266M412.5 252.3Q406.1 265.4 391.5 266M423.1 270.7Q411.7 281 398.2 288.3M423.1 270.7Q405.4 272 398.2 288.3M423.1 270.7Q423.3 285.5 427.1 299.9M423.1 270.7Q433.9 284.1 427.1 299.9M398.2 288.3Q413.3 292.4 427.1 299.9M398.2 288.3Q409.2 302.8 427.1 299.9M446.7 247.5Q459.2 253.9 472.8 257.2M446.7 247.5Q462.7 244.5 472.8 257.2M446.7 247.5Q450.6 260.7 451.2 274.4M446.7 247.5Q440.9 262.3 451.2 274.4M472.8 257.2Q461 264.5 451.2 274.4M472.8 257.2Q467.2 272.3 451.2 274.4M513.2 226.7Q521.4 234.9 527.4 244.8M513.2 226.7Q514.9 240 527.4 244.8M513.2 226.7Q511.7 242.3 514 257.8M513.2 226.7Q522.9 242 514 257.8M496.5 247.8Q505.9 251.8 514 257.8M496.5 247.8Q502.2 258.1 514 257.8M496.5 247.8Q512.1 248.2 527.4 244.8M496.5 247.8Q511.1 237 527.4 244.8M514 257.8Q519.9 250.5 527.4 244.8M514 257.8Q524.6 255.3 527.4 244.8M527.4 244.8Q537.2 250.5 548.1 253.7M527.4 244.8Q540.4 243 548.1 253.7M527.4 244.8Q531.6 256.3 532.9 268.4M527.4 244.8Q523.1 258.2 532.9 268.4M514 257.8Q522.8 264.2 532.9 268.4M514 257.8Q526.6 257.4 532.9 268.4M548.1 253.7Q541.4 262 532.9 268.4M548.1 253.7Q536.1 256.5 532.9 268.4M548.1 253.7Q547.1 267.4 549.3 281M548.1 253.7Q556.9 267 549.3 281M532.9 268.4Q541.9 273.7 549.3 281M532.9 268.4Q537.3 279.6 549.3 281M527.4 244.8Q536.2 264.2 549.3 281M527.4 244.8Q549.2 256.3 549.3 281M463.2 300.9Q471.9 306.3 479 313.6M463.2 300.9Q467.3 312 479 313.6M479 313.6Q485.3 322.1 493.5 328.8M479 313.6Q490.8 316.9 493.5 328.8M576.4 218.9Q584.8 213 594.4 209.3M576.4 218.9Q588.3 219.5 594.4 209.3M576.4 218.9Q584.6 223.7 593.7 226.5M576.4 218.9Q587.3 217.5 593.7 226.5M576.4 218.9Q583.3 228.7 587.7 239.8M576.4 218.9Q575.8 232.7 587.7 239.8M576.4 218.9Q572.3 231.6 571.4 244.9M576.4 218.9Q581.7 233.4 571.4 244.9M594.4 209.3Q595.1 217.9 593.7 226.5M594.4 209.3Q588.9 217.7 593.7 226.5M594.4 209.3Q601.5 217.5 610.3 223.8M594.4 209.3Q606.7 211.8 610.3 223.8M593.7 226.5Q601.8 224.2 610.3 223.8M593.7 226.5Q602.8 230.1 610.3 223.8M593.7 226.5Q589.9 232.8 587.7 239.8M593.7 226.5Q594.7 235 587.7 239.8M593.7 226.5Q600.5 233.3 605.4 241.6M593.7 226.5Q595 237.6 605.4 241.6M610.3 223.8Q606.8 232.4 605.4 241.6M610.3 223.8Q613.2 234.2 605.4 241.6M587.7 239.8Q596.7 239.6 605.4 241.6M587.7 239.8Q596 246 605.4 241.6M587.7 239.8Q579.2 241.4 571.4 244.9M587.7 239.8Q581.1 247.2 571.4 244.9M605.4 241.6Q605.3 251.3 602.9 260.8M605.4 241.6Q598.4 250.4 602.9 260.8M605.4 241.6Q594.1 250.7 585.3 262.2M605.4 241.6Q601.5 257.9 585.3 262.2M610.3 223.8Q620.5 225 630.2 228.5M610.3 223.8Q618.8 232.1 630.2 228.5M605.4 241.6Q592.9 258.2 584.7 277.2M605.4 241.6Q605.7 265.6 584.7 277.2M585.3 262.2Q594 260.4 602.9 260.8M585.3 262.2Q594.5 266.8 602.9 260.8M585.3 262.2Q576 269.7 568.8 279.2M585.3 262.2Q582.1 275.6 568.8 279.2M585.3 262.2Q585.9 269.7 584.7 277.2M585.3 262.2Q580.5 269.5 584.7 277.2M585.3 262.2Q588 271.3 592.8 279.6M585.3 262.2Q594.3 268.6 592.8 279.6M585.3 262.2Q599.5 267.7 611.9 276.4M585.3 262.2Q594.3 277.3 611.9 276.4M585.3 262.2Q596.7 280.3 612 295.2M585.3 262.2Q608.5 270.7 612 295.2M585.3 262.2Q584.2 279.5 579 296.1M585.3 262.2Q572 277.3 579 296.1M585.3 262.2Q588.1 280.9 595.2 298.5M585.3 262.2Q601.1 277.4 595.2 298.5M602.9 260.8Q587 272 568.8 279.2M602.9 260.8Q580.3 259.8 568.8 279.2M602.9 260.8Q592.8 267.9 584.7 277.2M602.9 260.8Q598.7 274.5 584.7 277.2M602.9 260.8Q599 270.8 592.8 279.6M602.9 260.8Q592.2 267.2 592.8 279.6M602.9 260.8Q606.5 269.1 611.9 276.4M602.9 260.8Q612.1 265.9 611.9 276.4M602.9 260.8Q609.5 277.5 612 295.2M602.9 260.8Q597.1 280.7 612 295.2M602.9 260.8Q588.8 277 579 296.1M602.9 260.8Q601.5 285.6 579 296.1M602.9 260.8Q601.3 280.1 595.2 298.5M602.9 260.8Q587.7 277.3 595.2 298.5M568.8 279.2Q576.9 279.2 584.7 277.2M568.8 279.2Q576.1 273.4 584.7 277.2M568.8 279.2Q580.8 278 592.8 279.6M568.8 279.2Q580.7 286.6 592.8 279.6M568.8 279.2Q590.5 280.4 611.9 276.4M568.8 279.2Q589.5 264.9 611.9 276.4M568.8 279.2Q591.4 284.6 612 295.2M568.8 279.2Q585.6 300.2 612 295.2M568.8 279.2Q572.9 288.3 579 296.1M568.8 279.2Q579 284.6 579 296.1M568.8 279.2Q583.2 287.3 595.2 298.5M568.8 279.2Q576.2 296.8 595.2 298.5M584.7 277.2Q588.6 278.9 592.8 279.6M584.7 277.2Q589.5 276 592.8 279.6M584.7 277.2Q598.3 275.2 611.9 276.4M584.7 277.2Q598.5 285 611.9 276.4M584.7 277.2Q597.3 287.8 612 295.2M584.7 277.2Q603.8 278 612 295.2M584.7 277.2Q583 287 579 296.1M584.7 277.2Q576.2 284.9 579 296.1M584.7 277.2Q588.7 288.5 595.2 298.5M584.7 277.2Q596.3 284.7 595.2 298.5M592.8 279.6Q602.2 276.9 611.9 276.4M592.8 279.6Q603.3 283.7 611.9 276.4M592.8 279.6Q601.5 288.6 612 295.2M592.8 279.6Q607.1 281.6 612 295.2M592.8 279.6Q586.9 288.7 579 296.1M592.8 279.6Q580.9 283.7 579 296.1M592.8 279.6Q592.9 289.2 595.2 298.5M592.8 279.6Q599.7 288.3 595.2 298.5M611.9 276.4Q613.1 285.8 612 295.2M611.9 276.4Q606.3 285.8 612 295.2M611.9 276.4Q594.3 284.3 579 296.1M611.9 276.4Q601.4 296.1 579 296.1M611.9 276.4Q604.9 288.5 595.2 298.5M611.9 276.4Q596.9 282.4 595.2 298.5M612 295.2Q595.4 293.7 579 296.1M612 295.2Q595.8 305.5 579 296.1M612 295.2Q603.8 297.9 595.2 298.5M612 295.2Q602.6 291.8 595.2 298.5M579 296.1Q587 298.3 595.2 298.5M579 296.1Q587.8 292.4 595.2 298.5M584.5 315.9Q571 320.8 556.8 322.4M584.5 315.9Q568.7 310.8 556.8 322.4M584.5 315.9Q579.6 330 578.2 344.9M584.5 315.9Q590.1 332.3 578.2 344.9M584.5 315.9Q590.3 324.4 593.9 334M584.5 315.9Q583.8 327.8 593.9 334M584.5 315.9Q572.2 326.2 562.6 339.1M584.5 315.9Q580.5 334.1 562.6 339.1M556.8 322.4Q568.9 332.4 578.2 344.9M556.8 322.4Q560.8 340.1 578.2 344.9M556.8 322.4Q574.7 330.4 593.9 334M556.8 322.4Q578.8 317.1 593.9 334M556.8 322.4Q560.7 330.4 562.6 339.1M556.8 322.4Q554.7 332.5 562.6 339.1M578.2 344.9Q586.7 340.4 593.9 334M578.2 344.9Q582.8 334.7 593.9 334M578.2 344.9Q570.1 342.9 562.6 339.1M578.2 344.9Q572.1 337.3 562.6 339.1M593.9 334Q577.9 334.7 562.6 339.1M593.9 334Q579.8 345.9 562.6 339.1M579 296.1Q582.9 305.7 584.5 315.9M579 296.1Q575.8 307.6 584.5 315.9M595.2 298.5Q588.8 306.6 584.5 315.9M595.2 298.5Q595.1 310.4 584.5 315.9M641.8 178.8Q650.9 186.5 658 196.2M641.8 178.8Q644.7 192.4 658 196.2M641.8 178.8Q641.4 195.8 645.1 212.5M641.8 178.8Q653.6 194.7 645.1 212.5M658 196.2Q652.5 205.1 645.1 212.5M658 196.2Q646.7 200.5 645.1 212.5M624.4 204.3Q634.3 209.6 645.1 212.5M624.4 204.3Q637.2 202.2 645.1 212.5M624.4 204.3Q628.8 216.1 630.2 228.5M624.4 204.3Q620 218.1 630.2 228.5M624.4 204.3Q641.7 202.3 658 196.2M624.4 204.3Q638.8 190.2 658 196.2M645.1 212.5Q649.1 216.7 651.9 221.8M645.1 212.5Q645.7 219.2 651.9 221.8M645.1 212.5Q659.3 214.9 673.7 213.9M645.1 212.5Q659.8 204.6 673.7 213.9M651.9 221.8Q662.3 216.5 673.7 213.9M651.9 221.8Q665.2 224.4 673.7 213.9M651.9 221.8Q663.1 227.8 675.4 231M651.9 221.8Q666.4 219.3 675.4 231M673.7 213.9Q675.6 222.3 675.4 231M673.7 213.9Q669.4 223 675.4 231M645.1 212.5Q636.7 219.6 630.2 228.5M645.1 212.5Q642.5 225 630.2 228.5M630.2 228.5Q631.1 236.1 630.2 243.6M630.2 228.5Q625.7 236.1 630.2 243.6M630.2 228.5Q640.1 233.3 650.9 235.6M630.2 228.5Q642.7 225.8 650.9 235.6M651.9 221.8Q652.2 228.8 650.9 235.6M651.9 221.8Q647.3 228.4 650.9 235.6M624.4 204.3Q624.9 224.3 630.2 243.6M624.4 204.3Q639.1 222.2 630.2 243.6M624.4 204.3Q631.6 190.5 641.8 178.8M624.4 204.3Q640.7 196.8 641.8 178.8M650.9 235.6Q640.1 238.4 630.2 243.6M650.9 235.6Q642.9 245.8 630.2 243.6M650.9 235.6Q653.5 243.5 654.2 251.7M650.9 235.6Q647.7 244.6 654.2 251.7M650.9 235.6Q641.7 246.3 635.2 258.8M650.9 235.6Q650 251.9 635.2 258.8M630.2 243.6Q642.7 246.2 654.2 251.7M630.2 243.6Q639.8 254.8 654.2 251.7M630.2 243.6Q631.8 251.5 635.2 258.8M630.2 243.6Q637.3 249.7 635.2 258.8M654.2 251.7Q645.1 256.4 635.2 258.8M654.2 251.7Q642.6 249.6 635.2 258.8"/>
<ellipse class="dc" cx="408.3" cy="94.8" rx="49.9" ry="48.9"/>
<circle cx="462.1" cy="51.9" r="9.7" fill="#d6c85c"/>
<text class="k g" x="462.1" y="54.2">Lep</text>
<circle cx="461" cy="84.9" r="9.7" fill="#d6c85c"/>
<text class="k" style="font-size:7.0px" x="461" y="87.4">Bdnf</text>
<circle cx="488.6" cy="86.7" r="9.7" fill="#d6c85c"/>
<text class="k" x="488.6" y="88.9">Tgfb1</text>
<circle cx="515.3" cy="74.9" r="9.7" fill="#d6c85c"/>
<text class="k g" x="515.3" y="77.2">Fgf10</text>
<circle cx="475.5" cy="120.9" r="9.7" fill="#d6c85c"/>
<text class="k" x="475.5" y="123.1">Fgf7</text>
<rect x="506" y="102.3" width="19.2" height="19.2" fill="#d6c85c"/>
<text class="k" x="515.6" y="114.1">Wnt5a</text>
<rect x="593.9" y="38.3" width="19.2" height="19.2" fill="#362f6e"/>
<text class="w" x="603.5" y="50.1">Vegfb</text>
<circle cx="551.7" cy="79.9" r="9.7" fill="#d6c85c"/>
<text class="k" x="551.7" y="82.1">Col4a5</text>
<circle cx="575.2" cy="83" r="9.7" fill="#362f6e"/>
<text class="w g" x="575.2" y="85.3">Itgb6</text>
<rect x="585.1" y="69.6" width="19.2" height="19.2" fill="#d6c85c"/>
<text class="k" x="594.7" y="81.4">Jak2</text>
<rect x="601.7" y="75.9" width="19.2" height="19.2" fill="#d6c85c"/>
<text class="k" x="611.3" y="87.7">Fgf2</text>
<circle cx="635.1" cy="90" r="9.7" fill="#d6c85c"/>
<text class="k" x="635.1" y="92.2">Irs2</text>
<rect x="578.8" y="86.7" width="19.2" height="19.2" fill="#362f6e"/>
<text class="w" x="588.4" y="98.5">Itga7</text>
<circle cx="582.8" cy="115.3" r="9.7" fill="#d6c85c"/>
<text class="k" x="582.8" y="117.5">Acta2</text>
<rect x="553.3" y="121.5" width="19.2" height="19.2" fill="#d6c85c"/>
<text class="k" x="562.9" y="133.3">Cald1</text>
<rect x="585.8" y="124" width="19.2" height="19.2" fill="#d6c85c"/>
<text class="k" x="595.4" y="135.8">Sorbs1</text>
<circle cx="579" cy="146.4" r="9.7" fill="#362f6e"/>
<text class="w" x="579" y="148.6">Lmod1</text>
<circle cx="518.4" cy="146" r="9.7" fill="#362f6e"/>
<text class="w s" x="518.4" y="147.7">Ppp1r3c</text>
<rect x="531.3" y="126.3" width="19.2" height="19.2" fill="#362f6e"/>
<text class="w" x="540.9" y="138.1">Ppp1r3a</text>
<circle cx="549.3" cy="160.6" r="9.7" fill="#d6c85c"/>
<text class="k" x="549.3" y="162.8">Pygb</text>
<circle cx="526.6" cy="166.2" r="9.7" fill="#362f6e"/>
<text class="w" x="526.6" y="168.4">Phka1</text>
<rect x="530.1" y="182.1" width="19.2" height="19.2" fill="#d6c85c"/>
<text class="k" x="539.7" y="193.9">Pfkp</text>
<rect x="537.9" y="167.1" width="19.2" height="19.2" fill="#362f6e"/>
<text class="w" x="547.5" y="178.9">Pfkm</text>
<rect x="559.8" y="187.6" width="19.2" height="19.2" fill="#362f6e"/>
<text class="w" x="569.4" y="199.4">Fbp2</text>
<rect x="556.8" y="171.4" width="19.2" height="19.2" fill="#d6c85c"/>
<text class="k" x="566.4" y="183.2">Pfkfb2</text>
<rect x="541.4" y="201" width="19.2" height="19.2" fill="#362f6e"/>
<text class="w" x="551" y="212.8">Pfkfb1</text>
<circle cx="433.5" cy="147.9" r="9.7" fill="#362f6e"/>
<text class="w" x="433.5" y="150.1">Atp2a1</text>
<circle cx="430.1" cy="169.2" r="9.7" fill="#d6c85c"/>
<text class="k g" x="430.1" y="171.5">Myh3</text>
<rect x="438.9" y="154.9" width="19.2" height="19.2" fill="#362f6e"/>
<text class="w" x="448.5" y="166.7">Mybpc2</text>
<circle cx="471.1" cy="160.1" r="9.7" fill="#362f6e"/>
<text class="w g" x="471.1" y="162.4">Mylpf</text>
<circle cx="415.9" cy="181.9" r="9.7" fill="#362f6e"/>
<text class="w g" x="415.9" y="184.2">Tpm1</text>
<circle cx="480.3" cy="176.3" r="9.7" fill="#362f6e"/>
<text class="w g" x="480.3" y="178.6">Tnnc2</text>
<circle cx="459.2" cy="179.2" r="9.7" fill="#362f6e"/>
<text class="w g" x="459.2" y="181.5">Tnnt3</text>
<circle cx="442.7" cy="188.7" r="9.7" fill="#d6c85c"/>
<text class="k g" x="442.7" y="191">Tnnt1</text>
<circle cx="470" cy="211.3" r="9.7" fill="#d6c85c"/>
<text class="k" x="470" y="213.5">Tnnc1</text>
<circle cx="463.5" cy="195.6" r="9.7" fill="#362f6e"/>
<text class="w g" x="463.5" y="197.9">Tnni2</text>
<circle cx="485.3" cy="196.9" r="9.7" fill="#d6c85c"/>
<text class="k g" x="485.3" y="199.2">Tpm4</text>
<circle cx="426.7" cy="198.2" r="9.7" fill="#362f6e"/>
<text class="w g" x="426.7" y="200.5">Actn3</text>
<circle cx="433.5" cy="216.3" r="9.7" fill="#362f6e"/>
<text class="w g" x="433.5" y="218.6">Tmod3</text>
<circle cx="447.7" cy="203.5" r="9.7" fill="#362f6e"/>
<text class="w g" x="447.7" y="205.8">Myl1</text>
<rect x="443.6" y="212" width="19.2" height="19.2" fill="#d6c85c"/>
<text class="k g" x="453.2" y="223.9">Myl2</text>
<rect x="486.7" y="173.2" width="19.2" height="19.2" fill="#d6c85c"/>
<text class="k" x="496.3" y="185">Hspa2</text>
<circle cx="515.6" cy="197.2" r="9.7" fill="#362f6e"/>
<text class="w" x="515.6" y="199.4">Hspa4l</text>
<circle cx="497.9" cy="211.1" r="9.7" fill="#362f6e"/>
<text class="w" x="497.9" y="213.3">Hsph1</text>
<rect x="359.1" y="159.7" width="19.2" height="19.2" fill="#362f6e"/>
<text class="w" x="368.7" y="171.5">Atf4</text>
<circle cx="384.5" cy="183.4" r="9.7" fill="#362f6e"/>
<text class="w g" x="384.5" y="185.7">Cebpg</text>
<circle cx="400.6" cy="195.3" r="9.7" fill="#d6c85c"/>
<text class="k" x="400.6" y="197.5">Trib3</text>
<rect x="399" y="212.9" width="19.2" height="19.2" fill="#362f6e"/>
<text class="w" x="408.6" y="224.7">Nos1</text>
<circle cx="365.2" cy="250.2" r="9.7" fill="#d6c85c"/>
<text class="k" x="365.2" y="252.4">Pik3r5</text>
<rect x="402.9" y="242.7" width="19.2" height="19.2" fill="#d6c85c"/>
<text class="k" x="412.5" y="254.5">Gnb4</text>
<circle cx="391.5" cy="266" r="9.7" fill="#d6c85c"/>
<text class="k" x="391.5" y="268.2">Gnb3</text>
<rect x="413.5" y="261.1" width="19.2" height="19.2" fill="#362f6e"/>
<text class="w" x="423.1" y="272.9">Ubb</text>
<rect x="388.6" y="278.7" width="19.2" height="19.2" fill="#d6c85c"/>
<text class="k" x="398.2" y="290.5">Polr2a</text>
<rect x="417.5" y="290.3" width="19.2" height="19.2" fill="#362f6e"/>
<text class="w" x="427.1" y="302.1">Cul3</text>
<rect x="437.1" y="237.9" width="19.2" height="19.2" fill="#d6c85c"/>
<text class="k" x="446.7" y="249.7">Plce1</text>
<circle cx="472.8" cy="257.2" r="9.7" fill="#362f6e"/>
<text class="w" x="472.8" y="259.4">Plod4</text>
<circle cx="451.2" cy="274.4" r="9.7" fill="#d6c85c"/>
<text class="k" x="451.2" y="276.6">Plod3</text>
<rect x="503.6" y="217.1" width="19.2" height="19.2" fill="#d6c85c"/>
<text class="k" x="513.2" y="228.9">Cdkn1a</text>
<circle cx="496.5" cy="247.8" r="9.7" fill="#362f6e"/>
<text class="w" x="496.5" y="250">Nrip1</text>
<rect x="504.4" y="248.2" width="19.2" height="19.2" fill="#d6c85c"/>
<text class="k" x="514" y="260">Ncoa1</text>
<circle cx="527.4" cy="244.8" r="9.7" fill="#362f6e"/>
<text class="w" x="527.4" y="247">Ar</text>
<circle cx="548.1" cy="253.7" r="9.7" fill="#d6c85c"/>
<text class="k" x="548.1" y="255.9">Adipoq</text>
<rect x="523.3" y="258.8" width="19.2" height="19.2" fill="#d6c85c"/>
<text class="k" x="532.9" y="270.6">Edn1</text>
<circle cx="549.3" cy="281" r="9.7" fill="#d6c85c"/>
<text class="k" x="549.3" y="283.2">Tlr4</text>
<rect x="453.6" y="291.3" width="19.2" height="19.2" fill="#d6c85c"/>
<text class="k" x="463.2" y="303.1">Ddit4</text>
<circle cx="479" cy="313.6" r="9.7" fill="#362f6e"/>
<text class="w" x="479" y="315.8">Rragd</text>
<rect x="483.9" y="319.2" width="19.2" height="19.2" fill="#362f6e"/>
<text class="w" x="493.5" y="331">Tbc1d7</text>
<circle cx="576.4" cy="218.9" r="9.7" fill="#d6c85c"/>
<text class="k" x="576.4" y="221.1">Pck1</text>
<circle cx="587.7" cy="239.8" r="9.7" fill="#362f6e"/>
<text class="w" x="587.7" y="242">Rxrg</text>
<circle cx="593.7" cy="226.5" r="9.7" fill="#362f6e"/>
<text class="w" x="593.7" y="228.7">Esrra</text>
<circle cx="594.4" cy="209.3" r="9.7" fill="#362f6e"/>
<text class="w" x="594.4" y="211.5">Lpin1</text>
<rect x="600.7" y="214.2" width="19.2" height="19.2" fill="#362f6e"/>
<text class="w" x="610.3" y="226">Fabp3</text>
<circle cx="605.4" cy="241.6" r="9.7" fill="#362f6e"/>
<text class="w s" x="605.4" y="243.3">Ppargc1a</text>
<circle cx="571.4" cy="244.9" r="9.7" fill="#362f6e"/>
<text class="w" x="571.4" y="247.1">Fabp5</text>
<rect x="575.7" y="252.6" width="19.2" height="19.2" fill="#d6c85c"/>
<text class="k s" x="585.3" y="263.9">mt-Cytb</text>
<circle cx="602.9" cy="260.8" r="9.7" fill="#362f6e"/>
<text class="w" x="602.9" y="263">Cox10</text>
<circle cx="568.8" cy="279.2" r="9.7" fill="#362f6e"/>
<circle cx="584.7" cy="277.2" r="9.7" fill="#362f6e"/>
<circle cx="592.8" cy="279.6" r="9.7" fill="#362f6e"/>
<text class="w s" x="568.8" y="280.9">mt-Nd4l</text>
<text class="w" x="585.9" y="277.2">Ndufs2</text>
<text class="w" x="592.8" y="283.1">mt-Nd4</text>
<rect x="602.3" y="266.8" width="19.2" height="19.2" fill="#362f6e"/>
<text class="w" x="611.9" y="278.6">Cox8a</text>
<rect x="602.4" y="285.6" width="19.2" height="19.2" fill="#d6c85c"/>
<text class="k s" style="font-size:6.4px" x="612" y="294.5">Ndufa4l2</text>
<circle cx="579" cy="296.1" r="9.7" fill="#362f6e"/>
<text class="w s" x="579" y="297.8">Ndufb10</text>
<rect x="585.6" y="288.9" width="19.2" height="19.2" fill="#362f6e"/>
<text class="w s" x="595.2" y="300.2">Ndufb3</text>
<rect x="574.9" y="306.3" width="19.2" height="19.2" fill="#362f6e"/>
<text class="w" x="584.5" y="318.1">Atp1b1</text>
<rect x="547.2" y="312.8" width="19.2" height="19.2" fill="#362f6e"/>
<text class="w" x="556.8" y="324.6">Fxyd6</text>
<rect x="568.6" y="335.3" width="19.2" height="19.2" fill="#362f6e"/>
<text class="w" x="578.2" y="347.1">Atp1a1</text>
<rect x="584.3" y="324.4" width="19.2" height="19.2" fill="#d6c85c"/>
<text class="k" x="593.9" y="336.2">Atp1a4</text>
<circle cx="562.6" cy="339.1" r="9.7" fill="#d6c85c"/>
<text class="k" x="562.6" y="341.3">Atp1b4</text>
<rect x="632.2" y="169.2" width="19.2" height="19.2" fill="#d6c85c"/>
<text class="k" x="641.8" y="181">Pdgfc</text>
<circle cx="658" cy="196.2" r="9.7" fill="#d6c85c"/>
<text class="k" x="658" y="198.4">Ngfr</text>
<circle cx="624.4" cy="204.3" r="9.7" fill="#362f6e"/>
<text class="w" x="624.4" y="206.5">Chuk</text>
<rect x="635.5" y="202.9" width="19.2" height="19.2" fill="#d6c85c"/>
<text class="k" x="645.1" y="212.4">Kit</text>
<circle cx="673.7" cy="213.9" r="9.7" fill="#d6c85c"/>
<text class="k" x="673.7" y="216.1">Thbs2</text>
<rect x="642.3" y="212.2" width="19.2" height="19.2" fill="#d6c85c"/>
<text class="k" x="651.9" y="224">Thbs1</text>
<circle cx="675.4" cy="231" r="9.7" fill="#d6c85c"/>
<text class="k" x="675.4" y="233.2">Itga9</text>
<circle cx="630.2" cy="243.6" r="9.7" fill="#d6c85c"/>
<text class="k" x="630.2" y="245.8">Psmd5</text>
<circle cx="630.2" cy="228.5" r="9.7" fill="#d6c85c"/>
<text class="k" x="630.2" y="230.7">Ccnd1</text>
<rect x="641.3" y="226" width="19.2" height="19.2" fill="#362f6e"/>
<text class="w" x="650.9" y="237.8">Psmb5</text>
<rect x="625.6" y="249.2" width="19.2" height="19.2" fill="#362f6e"/>
<text class="w" x="635.2" y="261">Psmd11</text>
<rect x="644.6" y="242.1" width="19.2" height="19.2" fill="#362f6e"/>
<text class="w" x="654.2" y="253.9">Psmd8</text>
<circle cx="399" cy="60.4" r="9.7" fill="#d6c85c"/>
<text class="k g" x="399" y="62.7">Hlf</text>
<circle cx="402.2" cy="78.1" r="9.2" fill="#fff" stroke="#d5451d" stroke-width="1"/>
<text class="k g" x="402.2" y="80.4">Per2</text>
<circle cx="394.2" cy="103.2" r="9.2" fill="#fff" stroke="#d5451d" stroke-width="1"/>
<text class="k g" x="394.2" y="105.5">Nr1d1</text>
<circle cx="426" cy="108.3" r="9.7" fill="#d6c85c"/>
<text class="k s" x="426" y="110">Bhlhe40</text>
<circle cx="409.9" cy="98.8" r="9.2" fill="#fff" stroke="#d5451d" stroke-width="1"/>
<text class="k g" x="409.9" y="101.1">Cry1</text>
<circle cx="429.2" cy="94" r="9.2" fill="#fff" stroke="#d5451d" stroke-width="1"/>
<text class="k g" x="429.2" y="96.3">Per3</text>
<circle cx="440.4" cy="79.8" r="9.2" fill="#fff" stroke="#d5451d" stroke-width="1"/>
<text class="k g" x="440.4" y="82.1">Clock</text>
<circle cx="392" cy="87.1" r="9.2" fill="#fff" stroke="#d5451d" stroke-width="1"/>
<text class="k g" x="392" y="89.4">Per1</text>
<circle cx="417.8" cy="85.9" r="9.2" fill="#fff" stroke="#d5451d" stroke-width="1"/>
<text class="k g" x="417.8" y="88.2">Npas2</text>
<circle cx="381" cy="70.3" r="9.2" fill="#fff" stroke="#d5451d" stroke-width="1"/>
<text class="k g" x="381" y="72.6">Nr1d2</text>
<circle cx="373.4" cy="95.7" r="9.2" fill="#fff" stroke="#d5451d" stroke-width="1"/>
<text class="k g" x="373.4" y="98">Cry2</text>
<rect x="437.7" y="90.3" width="18.2" height="18.2" fill="#362f6e" stroke="#d5451d" stroke-width="1"/>
<text class="w g" x="446.8" y="101.7">Rorc</text>
<rect x="411.7" y="57.3" width="18.2" height="18.2" fill="#d6c85c" stroke="#d5451d" stroke-width="1"/>
<text class="k g" x="420.8" y="68.7">Arntl</text>
<circle cx="385.1" cy="117.9" r="9.7" fill="#d6c85c"/>
<text class="k g" x="385.1" y="120.2">Nfil3</text>
<circle cx="405.8" cy="118.5" r="9.2" fill="#d6c85c" stroke="#d5451d" stroke-width="1"/>
<text class="k g" x="405.8" y="120.8">Rorb</text>
<circle cx="423.6" cy="129.7" r="9.2" fill="#fff" stroke="#d5451d" stroke-width="1"/>
<text class="k g" x="423.6" y="132">Rora</text>
</g>
<g id="panel-c">
<path class="e" d="M62.9 463.2Q65.6 471.9 66.1 480.9M62.9 463.2Q59.2 473 66.1 480.9M62.9 463.2Q57.9 484.3 58.1 506M62.9 463.2Q73.3 486 58.1 506M62.9 463.2Q79.3 485.5 89.9 511.1M62.9 463.2Q62 495.2 89.9 511.1M62.9 463.2Q66 483.1 73.8 501.6M62.9 463.2Q79.9 479.1 73.8 501.6M62.9 463.2Q80 478.2 93.1 496.8M62.9 463.2Q67.9 489.1 93.1 496.8M62.9 463.2Q82.4 475.4 104.3 482.6M62.9 463.2Q89.4 460.5 104.3 482.6M62.9 463.2Q61 477 55.9 489.9M62.9 463.2Q51.4 474.4 55.9 489.9M62.9 463.2Q70.8 477.1 81.7 488.7M62.9 463.2Q80 470.3 81.7 488.7M62.9 463.2Q54.5 469.2 44.9 473.1M62.9 463.2Q50.9 462.8 44.9 473.1M62.9 463.2Q48 479.3 37.3 498.5M62.9 463.2Q60.7 488.5 37.3 498.5M62.9 463.2Q89.1 479.8 110.7 502.2M62.9 463.2Q75.1 497 110.7 502.2M62.9 463.2Q73.4 467.5 84.7 469.2M62.9 463.2Q75.6 459.7 84.7 469.2M62.9 463.2Q69.8 491.8 69.7 521.3M62.9 463.2Q48.9 494.3 69.7 521.3M62.9 463.2Q71 499.3 87.5 532.5M62.9 463.2Q96 490.5 87.5 532.5M66.1 480.9Q63.6 493.9 58.1 506M66.1 480.9Q54.6 491.1 58.1 506M66.1 480.9Q76.2 497.4 89.9 511.1M66.1 480.9Q87.1 488.9 89.9 511.1M66.1 480.9Q71.2 490.8 73.8 501.6M66.1 480.9Q63.7 493.6 73.8 501.6M66.1 480.9Q78.6 490.5 93.1 496.8M66.1 480.9Q84.4 480.7 93.1 496.8M66.1 480.9Q85.3 479.5 104.3 482.6M66.1 480.9Q84.7 493.2 104.3 482.6M66.1 480.9Q60.5 484.8 55.9 489.9M66.1 480.9Q63.7 488.5 55.9 489.9M66.1 480.9Q74.4 483.9 81.7 488.7M66.1 480.9Q71.6 489.5 81.7 488.7M66.1 480.9Q56 475.7 44.9 473.1M66.1 480.9Q53.2 483.4 44.9 473.1M66.1 480.9Q52.8 491.4 37.3 498.5M66.1 480.9Q46.4 481.1 37.3 498.5M66.1 480.9Q87.1 494.2 110.7 502.2M66.1 480.9Q94.8 478.2 110.7 502.2M66.1 480.9Q74.7 473.9 84.7 469.2M66.1 480.9Q78.9 480.6 84.7 469.2M66.1 480.9Q65.5 501.3 69.7 521.3M66.1 480.9Q80 500 69.7 521.3M66.1 480.9Q79.9 505.4 87.5 532.5M66.1 480.9Q61.3 513.1 87.5 532.5M58.1 506Q73.7 510.5 89.9 511.1M58.1 506Q75.5 499 89.9 511.1M58.1 506Q65.7 502.9 73.8 501.6M58.1 506Q67.3 508.5 73.8 501.6M58.1 506Q76.2 503.5 93.1 496.8M58.1 506Q72.8 490.9 93.1 496.8M58.1 506Q79.8 491.5 104.3 482.6M58.1 506Q88.2 508.2 104.3 482.6M58.1 506Q58 497.8 55.9 489.9M58.1 506Q52.2 498.6 55.9 489.9M58.1 506Q68.9 495.9 81.7 488.7M58.1 506Q75.1 504.4 81.7 488.7M58.1 506Q53.5 488.8 44.9 473.1M58.1 506Q41.6 493.5 44.9 473.1M58.1 506Q47.2 503.5 37.3 498.5M58.1 506Q50 496 37.3 498.5M58.1 506Q84.6 507.3 110.7 502.2M58.1 506Q83.3 488.3 110.7 502.2M58.1 506Q69.2 486 84.7 469.2M58.1 506Q82.4 495.6 84.7 469.2M58.1 506Q63 514.3 69.7 521.3M58.1 506Q68.5 510.2 69.7 521.3M58.1 506Q74.4 517.5 87.5 532.5M58.1 506Q64.8 528.1 87.5 532.5M89.9 511.1Q82.4 505.4 73.8 501.6M89.9 511.1Q79 511.2 73.8 501.6M89.9 511.1Q90.6 503.8 93.1 496.8M89.9 511.1Q95.8 504.9 93.1 496.8M89.9 511.1Q98.8 497.7 104.3 482.6M89.9 511.1Q88.6 492.5 104.3 482.6M89.9 511.1Q71.6 502.5 55.9 489.9M89.9 511.1Q79.3 490.3 55.9 489.9M89.9 511.1Q87.1 499.4 81.7 488.7M89.9 511.1Q79.1 502.4 81.7 488.7M89.9 511.1Q65.1 494.8 44.9 473.1M89.9 511.1Q78.8 478.6 44.9 473.1M89.9 511.1Q64.4 501.6 37.3 498.5M89.9 511.1Q59.8 520.6 37.3 498.5M89.9 511.1Q99.8 505.4 110.7 502.2M89.9 511.1Q103 512.9 110.7 502.2M89.9 511.1Q89.8 489.8 84.7 469.2M89.9 511.1Q74.7 491.7 84.7 469.2M89.9 511.1Q80.4 517.4 69.7 521.3M89.9 511.1Q76.7 510.1 69.7 521.3M89.9 511.1Q87.4 521.7 87.5 532.5M89.9 511.1Q95.1 522.5 87.5 532.5M73.8 501.6Q83.2 498 93.1 496.8M73.8 501.6Q84.9 505 93.1 496.8M73.8 501.6Q90.2 493.9 104.3 482.6M73.8 501.6Q83.4 482.9 104.3 482.6M73.8 501.6Q64.1 496.8 55.9 489.9M73.8 501.6Q68.4 490.4 55.9 489.9M73.8 501.6Q78.5 495.6 81.7 488.7M73.8 501.6Q73.9 492.8 81.7 488.7M73.8 501.6Q57.6 489.1 44.9 473.1M73.8 501.6Q67.9 478.7 44.9 473.1M73.8 501.6Q55.7 497.9 37.3 498.5M73.8 501.6Q54.6 511 37.3 498.5M73.8 501.6Q92.3 499.7 110.7 502.2M73.8 501.6Q92.1 513 110.7 502.2M73.8 501.6Q81.2 486.1 84.7 469.2M73.8 501.6Q69.5 482.1 84.7 469.2M73.8 501.6Q72.9 511.7 69.7 521.3M73.8 501.6Q65.8 510.2 69.7 521.3M73.8 501.6Q78.8 517.9 87.5 532.5M73.8 501.6Q89.9 512.9 87.5 532.5M93.1 496.8Q97.8 489 104.3 482.6M93.1 496.8Q103 493.1 104.3 482.6M93.1 496.8Q74.9 491.1 55.9 489.9M93.1 496.8Q72.4 504.5 55.9 489.9M93.1 496.8Q86.9 493.4 81.7 488.7M93.1 496.8Q89.8 489.3 81.7 488.7M93.1 496.8Q70.4 482.1 44.9 473.1M93.1 496.8Q61.9 499.4 44.9 473.1M93.1 496.8Q65.3 501 37.3 498.5M93.1 496.8Q64.7 480.9 37.3 498.5M93.1 496.8Q101.6 500.6 110.7 502.2M93.1 496.8Q103.5 494.2 110.7 502.2M93.1 496.8Q87.2 483.5 84.7 469.2M93.1 496.8Q97.2 480.5 84.7 469.2M93.1 496.8Q79.9 507.6 69.7 521.3M93.1 496.8Q88.8 516.1 69.7 521.3M93.1 496.8Q92.4 515 87.5 532.5M93.1 496.8Q79.6 513 87.5 532.5M104.3 482.6Q79.7 483.3 55.9 489.9M104.3 482.6Q82.3 500.8 55.9 489.9M104.3 482.6Q93.4 487 81.7 488.7M104.3 482.6Q91.2 478.9 81.7 488.7M104.3 482.6Q75.2 474.3 44.9 473.1M104.3 482.6Q71.8 495.7 44.9 473.1M104.3 482.6Q71.8 494.6 37.3 498.5M104.3 482.6Q66 470.4 37.3 498.5M104.3 482.6Q106.3 492.8 110.7 502.2M104.3 482.6Q113.4 490.5 110.7 502.2M104.3 482.6Q93.7 477.1 84.7 469.2M104.3 482.6Q98.5 470 84.7 469.2M104.3 482.6Q84.7 499.9 69.7 521.3M104.3 482.6Q98.6 512.3 69.7 521.3M104.3 482.6Q98.9 508.6 87.5 532.5M104.3 482.6Q80.9 502.5 87.5 532.5M55.9 489.9Q68.9 490.8 81.7 488.7M55.9 489.9Q68.4 481.6 81.7 488.7M55.9 489.9Q49.4 482.2 44.9 473.1M55.9 489.9Q55.4 478.2 44.9 473.1M55.9 489.9Q46.1 493.1 37.3 498.5M55.9 489.9Q49.2 499.8 37.3 498.5M55.9 489.9Q84 492.8 110.7 502.2M55.9 489.9Q79.6 512.5 110.7 502.2M55.9 489.9Q71.5 481.3 84.7 469.2M55.9 489.9Q64.1 470.9 84.7 469.2M55.9 489.9Q64.7 504.8 69.7 521.3M55.9 489.9Q53.4 509.7 69.7 521.3M55.9 489.9Q69.1 513.1 87.5 532.5M55.9 489.9Q84.5 501.7 87.5 532.5M81.7 488.7Q62.4 483.1 44.9 473.1M81.7 488.7Q68 469.9 44.9 473.1M81.7 488.7Q58.9 490.9 37.3 498.5M81.7 488.7Q62.4 506.9 37.3 498.5M81.7 488.7Q97 493.7 110.7 502.2M81.7 488.7Q92.2 504.1 110.7 502.2M81.7 488.7Q84.4 479.1 84.7 469.2M81.7 488.7Q77.4 478.1 84.7 469.2M81.7 488.7Q77.7 505.7 69.7 521.3M81.7 488.7Q65.9 501.4 69.7 521.3M81.7 488.7Q82 510.9 87.5 532.5M81.7 488.7Q97.7 508.9 87.5 532.5M44.9 473.1Q42.6 486.3 37.3 498.5M44.9 473.1Q33.5 483.5 37.3 498.5M44.9 473.1Q76.1 491.6 110.7 502.2M44.9 473.1Q86.5 467.9 110.7 502.2M44.9 473.1Q64.6 468.8 84.7 469.2M44.9 473.1Q66 483.1 84.7 469.2M44.9 473.1Q54.4 498.7 69.7 521.3M44.9 473.1Q71.8 489.8 69.7 521.3M44.9 473.1Q69.8 500.2 87.5 532.5M44.9 473.1Q48.4 515.6 87.5 532.5M37.3 498.5Q73.8 504.8 110.7 502.2M37.3 498.5Q75.1 478.3 110.7 502.2M37.3 498.5Q59.2 481 84.7 469.2M37.3 498.5Q69.8 498.1 84.7 469.2M37.3 498.5Q52.1 511.8 69.7 521.3M37.3 498.5Q60.3 500.2 69.7 521.3M37.3 498.5Q64.4 512.5 87.5 532.5M37.3 498.5Q52.2 530.6 87.5 532.5M110.7 502.2Q99.7 484.1 84.7 469.2M110.7 502.2Q87.8 493.5 84.7 469.2M110.7 502.2Q91.3 514.2 69.7 521.3M110.7 502.2Q84.5 499.4 69.7 521.3M110.7 502.2Q97.3 516 87.5 532.5M110.7 502.2Q108.2 524.3 87.5 532.5M84.7 469.2Q80.3 496.1 69.7 521.3M84.7 469.2Q61.6 490.8 69.7 521.3M84.7 469.2Q82.3 501 87.5 532.5M84.7 469.2Q105.1 500 87.5 532.5M69.7 521.3Q79.3 525.8 87.5 532.5M69.7 521.3Q75.2 532.2 87.5 532.5M49 520.7Q54.4 513.9 58.1 506M49 520.7Q49.1 510.6 58.1 506M49 520.7Q50.6 504.9 55.9 489.9M49 520.7Q61.7 507.4 55.9 489.9M49 520.7Q59.3 522.2 69.7 521.3M49 520.7Q59.5 514.8 69.7 521.3M49 520.7Q41.8 510.3 37.3 498.5M49 520.7Q49.8 506.1 37.3 498.5M126.4 487.9Q115.7 483.9 104.3 482.6M126.4 487.9Q113.8 491.9 104.3 482.6M126.4 487.9Q110.3 494.3 93.1 496.8M126.4 487.9Q107.1 482.4 93.1 496.8M126.4 487.9Q117.7 494.1 110.7 502.2M126.4 487.9Q122.8 499.8 110.7 502.2M87.5 532.5Q93.6 540.8 97.5 550.2M87.5 532.5Q87.2 544.4 97.5 550.2M127.5 454.9Q125 471.3 126.4 487.9M127.5 454.9Q136.8 471.7 126.4 487.9M127.5 454.9Q142.8 470.7 154 489.7M127.5 454.9Q130.3 480.2 154 489.7M126.4 487.9Q140.1 490.5 154 489.7M126.4 487.9Q140.7 480.5 154 489.7M126.4 487.9Q153 479.6 180.7 477.9M126.4 487.9Q156.6 499.2 180.7 477.9M126.4 487.9Q131.5 506.8 140.9 523.9M126.4 487.9Q144.5 501.5 140.9 523.9M154 489.7Q166.6 482.2 180.7 477.9M154 489.7Q170.9 491.8 180.7 477.9M154 489.7Q145.4 506 140.9 523.9M154 489.7Q157.7 510.7 140.9 523.9M154 489.7Q169 500.7 181 514.9M154 489.7Q159.9 510.4 181 514.9M180.7 477.9Q178.6 496.4 181 514.9M180.7 477.9Q192 496.3 181 514.9M140.9 523.9Q160.4 517 181 514.9M140.9 523.9Q163.6 531.4 181 514.9M126.4 487.9Q152.1 504.7 181 514.9M126.4 487.9Q161.8 485 181 514.9M268.8 452.4Q275 470.7 276.6 490M268.8 452.4Q261.4 473.5 276.6 490M217 484.4Q228.6 487.4 240.5 487.5M217 484.4Q229.7 478.9 240.5 487.5M240.5 487.5Q250 484.4 260 483.7M240.5 487.5Q251.4 491.5 260 483.7M240.5 487.5Q246.3 494.9 253.7 500.8M240.5 487.5Q251.1 490.2 253.7 500.8M240.5 487.5Q246.2 503.2 248.1 519.8M240.5 487.5Q234.6 505.9 248.1 519.8M260 483.7Q267.9 487.8 276.6 490M260 483.7Q270.2 481.9 276.6 490M276.6 490Q288.8 490.8 300.4 494.5M276.6 490Q287.1 499.4 300.4 494.5M276.6 490Q264.5 494 253.7 500.8M276.6 490Q268.4 502.3 253.7 500.8M276.6 490Q264.1 506.6 248.1 519.8M276.6 490Q253.4 496.3 248.1 519.8M253.7 500.8Q249.8 510 248.1 519.8M253.7 500.8Q256.6 512 248.1 519.8M248.1 519.8Q239.1 528.9 228.2 535.6M248.1 519.8Q233.4 521.7 228.2 535.6M248.1 519.8Q253.3 529.7 260.7 538.1M248.1 519.8Q259.9 525.2 260.7 538.1M248.1 519.8Q248.1 535.6 244.3 550.9M248.1 519.8Q236.9 534.2 244.3 550.9M228.2 535.6Q244.3 538.8 260.7 538.1M228.2 535.6Q245.2 527.1 260.7 538.1M228.2 535.6Q237.2 542.3 244.3 550.9M228.2 535.6Q231.7 548.1 244.3 550.9M260.7 538.1Q251.7 543.5 244.3 550.9M260.7 538.1Q256.3 549.4 244.3 550.9M217 484.4Q236.3 490.4 253.7 500.8M217 484.4Q230.4 503.6 253.7 500.8M260 483.7Q279.6 491.5 300.4 494.5M260 483.7Q283.4 477 300.4 494.5M260 483.7Q257.9 492.6 253.7 500.8M260 483.7Q251.7 490.4 253.7 500.8M206.9 537Q195 540.7 184.4 547.1M206.9 537Q198.7 548.8 184.4 547.1M206.9 537Q212.6 548.8 215.3 561.7M206.9 537Q203.7 551.9 215.3 561.7M206.9 537Q197.9 551.3 192.6 567.3M206.9 537Q208.8 556.4 192.6 567.3M184.4 547.1Q200.7 552.5 215.3 561.7M184.4 547.1Q195.5 563.7 215.3 561.7M184.4 547.1Q187.3 557.7 192.6 567.3M184.4 547.1Q194.6 554.7 192.6 567.3M215.3 561.7Q204.3 565.9 192.6 567.3M215.3 561.7Q202.3 557.7 192.6 567.3M215.3 561.7Q213.4 569.6 213.5 577.8M215.3 561.7Q219.2 570.3 213.5 577.8M192.6 567.3Q203.7 571.3 213.5 577.8M192.6 567.3Q199.9 578.8 213.5 577.8M213.5 577.8Q222.7 581.1 232.4 582.1M213.5 577.8Q224.2 574.3 232.4 582.1M213.5 577.8Q210.5 585.8 205.7 592.8M213.5 577.8Q205.1 583 205.7 592.8M213.5 577.8Q223.2 589.4 235.4 598.3M213.5 577.8Q230.6 581.5 235.4 598.3M213.5 577.8Q217.3 594.5 217 611.7M213.5 577.8Q205.1 595.8 217 611.7M232.4 582.1Q232.9 590.4 235.4 598.3M232.4 582.1Q238.8 589.3 235.4 598.3M232.4 582.1Q219.7 589.1 205.7 592.8M232.4 582.1Q215.8 579.4 205.7 592.8M205.7 592.8Q220.2 597.3 235.4 598.3M205.7 592.8Q222.2 586.6 235.4 598.3M205.7 592.8Q212.5 601.6 217 611.7M205.7 592.8Q205.7 605.6 217 611.7M235.4 598.3Q225.4 603.9 217 611.7M235.4 598.3Q230.2 610.5 217 611.7M232.4 582.1Q226.5 597.8 217 611.7M232.4 582.1Q215.8 592.3 217 611.7M235.4 598.3Q237.5 609.7 242.3 620.3M235.4 598.3Q245.5 607.2 242.3 620.3M217 611.7Q230.2 614.5 242.3 620.3M217 611.7Q227.1 623.6 242.3 620.3M206.9 537Q207.8 557.8 213.5 577.8M206.9 537Q222.4 555.4 213.5 577.8M97.5 550.2Q97.1 561.1 94.1 571.5M97.5 550.2Q89.4 559.8 94.1 571.5M97.5 550.2Q104 559.4 112.5 566.8M97.5 550.2Q110 554 112.5 566.8M97.5 550.2Q117 554 135.1 562.4M97.5 550.2Q112.6 567.6 135.1 562.4M97.5 550.2Q86.7 566.1 79.9 584.2M97.5 550.2Q98.9 572.5 79.9 584.2M97.5 550.2Q122.6 561.6 144.3 578.6M97.5 550.2Q112.4 578.4 144.3 578.6M97.5 550.2Q108.5 567.4 123.2 581.5M97.5 550.2Q119.7 558.1 123.2 581.5M97.5 550.2Q104.5 570 106.7 591M97.5 550.2Q89.9 573.4 106.7 591M97.5 550.2Q111.9 584.1 134 613.6M97.5 550.2Q134.8 570.9 134 613.6M97.5 550.2Q115.4 572.2 127.5 597.9M97.5 550.2Q98.2 583 127.5 597.9M97.5 550.2Q120.5 577.8 149.3 599.2M97.5 550.2Q138.1 559.2 149.3 599.2M97.5 550.2Q97.1 575.8 90.7 600.5M97.5 550.2Q79 573.3 90.7 600.5M97.5 550.2Q93.4 584.4 97.5 618.6M97.5 550.2Q118 584.4 97.5 618.6M97.5 550.2Q107.9 577.1 111.7 605.8M97.5 550.2Q87.9 582.3 111.7 605.8M97.5 550.2Q102.9 588.2 117.2 623.9M97.5 550.2Q129.5 581.1 117.2 623.9M94.1 571.5Q103 568 112.5 566.8M94.1 571.5Q104.7 574.7 112.5 566.8M94.1 571.5Q115.1 569.4 135.1 562.4M94.1 571.5Q111.9 554.7 135.1 562.4M94.1 571.5Q87.8 578.7 79.9 584.2M94.1 571.5Q83.2 573.6 79.9 584.2M94.1 571.5Q118.8 578.1 144.3 578.6M94.1 571.5Q121.3 560 144.3 578.6M94.1 571.5Q109.2 574.8 123.2 581.5M94.1 571.5Q105.7 585.2 123.2 581.5M94.1 571.5Q99.2 582 106.7 591M94.1 571.5Q106.2 577.5 106.7 591M94.1 571.5Q116.6 590.2 134 613.6M94.1 571.5Q101.4 604.5 134 613.6M94.1 571.5Q109.2 586.7 127.5 597.9M94.1 571.5Q118.7 574.7 127.5 597.9M94.1 571.5Q123.4 582 149.3 599.2M94.1 571.5Q113.4 601.9 149.3 599.2M94.1 571.5Q90.7 585.8 90.7 600.5M94.1 571.5Q101.1 587 90.7 600.5M94.1 571.5Q98.6 594.8 97.5 618.6M94.1 571.5Q81.7 596.1 97.5 618.6M94.1 571.5Q100.8 589.7 111.7 605.8M94.1 571.5Q113.2 583.4 111.7 605.8M94.1 571.5Q108.8 596.3 117.2 623.9M94.1 571.5Q89.9 604.6 117.2 623.9M112.5 566.8Q124.1 566 135.1 562.4M112.5 566.8Q122.5 557.8 135.1 562.4M112.5 566.8Q97.2 577.5 79.9 584.2M112.5 566.8Q91 565.7 79.9 584.2M112.5 566.8Q127.7 574.6 144.3 578.6M112.5 566.8Q131.9 563.2 144.3 578.6M112.5 566.8Q118.7 573.5 123.2 581.5M112.5 566.8Q113.4 577.4 123.2 581.5M112.5 566.8Q108.1 578.6 106.7 591M112.5 566.8Q116.9 580.6 106.7 591M112.5 566.8Q126.1 588.9 134 613.6M112.5 566.8Q109.2 596.6 134 613.6M112.5 566.8Q118.1 583.2 127.5 597.9M112.5 566.8Q129.3 577.8 127.5 597.9M112.5 566.8Q132.8 580.8 149.3 599.2M112.5 566.8Q121.2 594 149.3 599.2M112.5 566.8Q99.6 582.3 90.7 600.5M112.5 566.8Q111.7 590.2 90.7 600.5M112.5 566.8Q108.1 593.6 97.5 618.6M112.5 566.8Q89.5 588.2 97.5 618.6M112.5 566.8Q109.8 586.3 111.7 605.8M112.5 566.8Q123.8 586.5 111.7 605.8M112.5 566.8Q118.3 595.1 117.2 623.9M112.5 566.8Q97.7 596.8 117.2 623.9M135.1 562.4Q106.2 570 79.9 584.2M135.1 562.4Q114 589.9 79.9 584.2M135.1 562.4Q140.7 569.9 144.3 578.6M135.1 562.4Q134.8 573.3 144.3 578.6M135.1 562.4Q128 571.2 123.2 581.5M135.1 562.4Q134.9 575.5 123.2 581.5M135.1 562.4Q122.6 578.4 106.7 591M135.1 562.4Q112.3 568.2 106.7 591M135.1 562.4Q131.5 587.9 134 613.6M135.1 562.4Q149.9 588.3 134 613.6M135.1 562.4Q133.4 580.6 127.5 597.9M135.1 562.4Q120.7 577.9 127.5 597.9M135.1 562.4Q140 581.7 149.3 599.2M135.1 562.4Q153.2 576.5 149.3 599.2M135.1 562.4Q115.2 584.1 90.7 600.5M135.1 562.4Q101.5 568.1 90.7 600.5M135.1 562.4Q112.9 588.2 97.5 618.6M135.1 562.4Q133.2 601.8 97.5 618.6M135.1 562.4Q126 585.5 111.7 605.8M135.1 562.4Q110.4 577.1 111.7 605.8M135.1 562.4Q122.5 592.1 117.2 623.9M135.1 562.4Q144.6 598.5 117.2 623.9M79.9 584.2Q111.8 577.5 144.3 578.6M79.9 584.2Q113.8 600.7 144.3 578.6M79.9 584.2Q101.7 585.4 123.2 581.5M79.9 584.2Q100.7 569.9 123.2 581.5M79.9 584.2Q93.7 586 106.7 591M79.9 584.2Q91.3 595.6 106.7 591M79.9 584.2Q105.2 602.1 134 613.6M79.9 584.2Q115.8 582.7 134 613.6M79.9 584.2Q104.5 588.2 127.5 597.9M79.9 584.2Q99.6 605.3 127.5 597.9M79.9 584.2Q113.7 595.9 149.3 599.2M79.9 584.2Q119.1 570.9 149.3 599.2M79.9 584.2Q86.3 591.7 90.7 600.5M79.9 584.2Q80.4 595.6 90.7 600.5M79.9 584.2Q86.6 602.5 97.5 618.6M79.9 584.2Q99 596.1 97.5 618.6M79.9 584.2Q97.1 593.1 111.7 605.8M79.9 584.2Q89.3 604.5 111.7 605.8M79.9 584.2Q96.2 606.3 117.2 623.9M79.9 584.2Q110.5 592.9 117.2 623.9M144.3 578.6Q133.9 581.3 123.2 581.5M144.3 578.6Q132.9 573.7 123.2 581.5M144.3 578.6Q124.8 582.5 106.7 591M144.3 578.6Q129.2 596.1 106.7 591M144.3 578.6Q141.2 596.7 134 613.6M144.3 578.6Q128.7 593 134 613.6M144.3 578.6Q134.7 587.2 127.5 597.9M144.3 578.6Q141.7 593.3 127.5 597.9M144.3 578.6Q148 588.6 149.3 599.2M144.3 578.6Q140.6 590.4 149.3 599.2M144.3 578.6Q116.2 586.3 90.7 600.5M144.3 578.6Q124.1 605.6 90.7 600.5M144.3 578.6Q123.3 601.4 97.5 618.6M144.3 578.6Q108.9 584.6 97.5 618.6M144.3 578.6Q126.4 590.2 111.7 605.8M144.3 578.6Q136.2 602 111.7 605.8M144.3 578.6Q133.5 602.9 117.2 623.9M144.3 578.6Q117.2 593.1 117.2 623.9M123.2 581.5Q114.4 585.3 106.7 591M123.2 581.5Q117.8 591.2 106.7 591M123.2 581.5Q130.5 596.9 134 613.6M123.2 581.5Q119 600.8 134 613.6M123.2 581.5Q124.4 590 127.5 597.9M123.2 581.5Q130.3 588.4 127.5 597.9M123.2 581.5Q137.3 588.8 149.3 599.2M123.2 581.5Q130.9 598.2 149.3 599.2M123.2 581.5Q105.8 589 90.7 600.5M123.2 581.5Q112.7 600.8 90.7 600.5M123.2 581.5Q112.6 601.6 97.5 618.6M123.2 581.5Q99.2 592.3 97.5 618.6M123.2 581.5Q116 593 111.7 605.8M123.2 581.5Q124.7 597.1 111.7 605.8M123.2 581.5Q122.7 603.1 117.2 623.9M123.2 581.5Q107.5 600.9 117.2 623.9M106.7 591Q119 603.9 134 613.6M106.7 591Q127.1 594.1 134 613.6M106.7 591Q117.5 593.2 127.5 597.9M106.7 591Q115 600.7 127.5 597.9M106.7 591Q127.5 597.7 149.3 599.2M106.7 591Q130.5 582.3 149.3 599.2M106.7 591Q99.3 596.7 90.7 600.5M106.7 591Q95.9 591 90.7 600.5M106.7 591Q100.4 604.2 97.5 618.6M106.7 591Q110.4 607.6 97.5 618.6M106.7 591Q110.1 598.1 111.7 605.8M106.7 591Q104.8 599.9 111.7 605.8M106.7 591Q110 608.1 117.2 623.9M106.7 591Q121.8 604.3 117.2 623.9M134 613.6Q129.8 606.1 127.5 597.9M134 613.6Q135.5 603.8 127.5 597.9M134 613.6Q142.5 607.3 149.3 599.2M134 613.6Q137.3 601.8 149.3 599.2M134 613.6Q111.6 609.6 90.7 600.5M134 613.6Q116.3 594.1 90.7 600.5M134 613.6Q115.5 613.9 97.5 618.6M134 613.6Q117.2 627 97.5 618.6M134 613.6Q122.4 611 111.7 605.8M134 613.6Q125.2 603 111.7 605.8M134 613.6Q125 617.7 117.2 623.9M134 613.6Q128.7 623.8 117.2 623.9M127.5 597.9Q138.5 597.2 149.3 599.2M127.5 597.9Q138 605.1 149.3 599.2M127.5 597.9Q108.9 597 90.7 600.5M127.5 597.9Q109.9 610.2 90.7 600.5M127.5 597.9Q113.7 610 97.5 618.6M127.5 597.9Q106.3 599.2 97.5 618.6M127.5 597.9Q119.1 600.9 111.7 605.8M127.5 597.9Q122 606.6 111.7 605.8M127.5 597.9Q123.9 611.5 117.2 623.9M127.5 597.9Q114.5 607.8 117.2 623.9M149.3 599.2Q119.9 596.3 90.7 600.5M149.3 599.2Q120.4 617.4 90.7 600.5M149.3 599.2Q124.6 612 97.5 618.6M149.3 599.2Q117.6 593.4 97.5 618.6M149.3 599.2Q130.1 600.2 111.7 605.8M149.3 599.2Q132.5 613.8 111.7 605.8M149.3 599.2Q134.7 613.5 117.2 623.9M149.3 599.2Q125.8 601.9 117.2 623.9M90.7 600.5Q93 610 97.5 618.6M90.7 600.5Q99.5 607.5 97.5 618.6M90.7 600.5Q101.5 601.9 111.7 605.8M90.7 600.5Q99.6 609.4 111.7 605.8M90.7 600.5Q102.5 613.8 117.2 623.9M90.7 600.5Q111 604.2 117.2 623.9M97.5 618.6Q103.8 611.3 111.7 605.8M97.5 618.6Q108.4 616.5 111.7 605.8M97.5 618.6Q107 622.4 117.2 623.9M97.5 618.6Q108.9 615.3 117.2 623.9M111.7 605.8Q115.5 614.5 117.2 623.9M111.7 605.8Q109 616.5 117.2 623.9M162.1 584Q170.9 592.4 181.4 598.4M162.1 584Q176.1 585.4 181.4 598.4M162.1 584Q164.6 598.1 163.7 612.3M162.1 584Q154.4 598.6 163.7 612.3M181.4 598.4Q171.7 604.3 163.7 612.3M181.4 598.4Q176.7 610.7 163.7 612.3M149.3 599.2Q154.8 590.8 162.1 584M149.3 599.2Q160.3 595.4 162.1 584M144.3 578.6Q152.9 582.4 162.1 584M144.3 578.6Q154.8 576 162.1 584M18.9 566.4Q27.6 572.5 34.7 580.5M18.9 566.4Q22.6 578.2 34.7 580.5M18.9 566.4Q33.3 581.3 50.8 592.4M18.9 566.4Q42.6 569.8 50.8 592.4M34.7 580.5Q43.5 585.5 50.8 592.4M34.7 580.5Q39.2 591.3 50.8 592.4M70.5 623.9Q70.7 639 74.4 653.7M70.5 623.9Q81.4 637.6 74.4 653.7M70.5 623.9Q64.6 646.7 53.4 667.4M70.5 623.9Q48.9 640.5 53.4 667.4M27.1 651.6Q50.6 655.5 74.4 653.7M27.1 651.6Q51.4 638.5 74.4 653.7M27.1 651.6Q41.2 657.9 53.4 667.4M27.1 651.6Q35.5 667.4 53.4 667.4M74.4 653.7Q63.1 659.3 53.4 667.4M74.4 653.7Q68 666.8 53.4 667.4M94.6 672.1Q83.2 682.4 69.7 689.7M94.6 672.1Q76.9 673.4 69.7 689.7M94.6 672.1Q94.8 686.9 98.6 701.3M94.6 672.1Q105.4 685.5 98.6 701.3M69.7 689.7Q84.8 693.8 98.6 701.3M69.7 689.7Q80.7 704.2 98.6 701.3M118.5 648.9Q131 655.3 144.6 658.6M118.5 648.9Q134.5 645.9 144.6 658.6M118.5 648.9Q122.4 662.1 123 675.8M118.5 648.9Q112.7 663.7 123 675.8M144.6 658.6Q132.8 665.9 123 675.8M144.6 658.6Q139 673.7 123 675.8M180.4 628.1Q188.6 636.3 194.6 646.2M180.4 628.1Q182.1 641.4 194.6 646.2M180.4 628.1Q178.9 643.7 181.2 659.2M180.4 628.1Q190.1 643.4 181.2 659.2M163.7 649.2Q173.1 653.2 181.2 659.2M163.7 649.2Q169.5 659.5 181.2 659.2M163.7 649.2Q179.3 649.6 194.6 646.2M163.7 649.2Q178.2 638.4 194.6 646.2M181.2 659.2Q187.1 651.9 194.6 646.2M181.2 659.2Q191.8 656.7 194.6 646.2M194.6 646.2Q204.4 651.9 215.3 655.1M194.6 646.2Q207.6 644.4 215.3 655.1M194.6 646.2Q198.8 657.7 200.1 669.8M194.6 646.2Q190.3 659.6 200.1 669.8M181.2 659.2Q190 665.6 200.1 669.8M181.2 659.2Q193.8 658.8 200.1 669.8M215.3 655.1Q208.6 663.4 200.1 669.8M215.3 655.1Q203.3 657.9 200.1 669.8M215.3 655.1Q214.3 668.8 216.5 682.4M215.3 655.1Q224.1 668.4 216.5 682.4M200.1 669.8Q209.1 675.1 216.5 682.4M200.1 669.8Q204.5 681 216.5 682.4M194.6 646.2Q203.4 665.6 216.5 682.4M194.6 646.2Q216.4 657.7 216.5 682.4M124.8 702.3Q133.5 707.7 140.6 715M124.8 702.3Q128.9 713.4 140.6 715M140.6 715Q146.9 723.5 155.1 730.2M140.6 715Q152.4 718.2 155.1 730.2M242.3 620.3Q250.7 614.4 260.3 610.7M242.3 620.3Q254.2 620.9 260.3 610.7M242.3 620.3Q250.5 625.1 259.6 627.9M242.3 620.3Q253.2 618.9 259.6 627.9M242.3 620.3Q249.2 630.1 253.6 641.2M242.3 620.3Q241.7 634.1 253.6 641.2M242.3 620.3Q238.2 633 237.3 646.3M242.3 620.3Q247.6 634.8 237.3 646.3M260.3 610.7Q261 619.3 259.6 627.9M260.3 610.7Q254.8 619.1 259.6 627.9M260.3 610.7Q267.4 618.9 276.2 625.2M260.3 610.7Q272.6 613.2 276.2 625.2M259.6 627.9Q267.7 625.6 276.2 625.2M259.6 627.9Q268.7 631.5 276.2 625.2M259.6 627.9Q255.8 634.2 253.6 641.2M259.6 627.9Q260.6 636.3 253.6 641.2M259.6 627.9Q266.4 634.7 271.3 643M259.6 627.9Q260.9 639 271.3 643M276.2 625.2Q272.7 633.8 271.3 643M276.2 625.2Q279.1 635.6 271.3 643M253.6 641.2Q262.6 641 271.3 643M253.6 641.2Q261.9 647.4 271.3 643M253.6 641.2Q245.1 642.8 237.3 646.3M253.6 641.2Q247 648.6 237.3 646.3M271.3 643Q271.2 652.8 268.8 662.2M271.3 643Q264.3 651.9 268.8 662.2M271.3 643Q260 652.1 251.2 663.6M271.3 643Q267.4 659.3 251.2 663.6M276.2 625.2Q286.4 626.4 296.1 629.9M276.2 625.2Q284.7 633.5 296.1 629.9M271.3 643Q258.8 659.6 250.6 678.6M271.3 643Q271.6 667 250.6 678.6M251.2 663.6Q259.9 661.8 268.8 662.2M251.2 663.6Q260.4 668.2 268.8 662.2M251.2 663.6Q241.9 671.1 234.7 680.6M251.2 663.6Q248.1 677 234.7 680.6M251.2 663.6Q251.8 671.1 250.6 678.6M251.2 663.6Q246.4 670.9 250.6 678.6M251.2 663.6Q253.9 672.8 258.7 681M251.2 663.6Q260.2 670 258.7 681M251.2 663.6Q265.4 669.1 277.8 677.8M251.2 663.6Q260.2 678.7 277.8 677.8M251.2 663.6Q262.6 681.7 277.9 696.6M251.2 663.6Q274.4 672.1 277.9 696.6M251.2 663.6Q250.1 680.9 244.9 697.5M251.2 663.6Q237.9 678.7 244.9 697.5M251.2 663.6Q254 682.3 261.1 699.9M251.2 663.6Q267 678.8 261.1 699.9M268.8 662.2Q252.9 673.4 234.7 680.6M268.8 662.2Q246.2 661.2 234.7 680.6M268.8 662.2Q258.7 669.3 250.6 678.6M268.8 662.2Q264.6 675.9 250.6 678.6M268.8 662.2Q264.9 672.2 258.7 681M268.8 662.2Q258.1 668.6 258.7 681M268.8 662.2Q272.4 670.5 277.8 677.8M268.8 662.2Q278 667.3 277.8 677.8M268.8 662.2Q275.4 678.9 277.9 696.6M268.8 662.2Q263 682.1 277.9 696.6M268.8 662.2Q254.7 678.4 244.9 697.5M268.8 662.2Q267.4 687 244.9 697.5M268.8 662.2Q267.2 681.5 261.1 699.9M268.8 662.2Q253.6 678.7 261.1 699.9M234.7 680.6Q242.8 680.6 250.6 678.6M234.7 680.6Q242.1 674.8 250.6 678.6M234.7 680.6Q246.7 679.4 258.7 681M234.7 680.6Q246.6 688 258.7 681M234.7 680.6Q256.4 681.8 277.8 677.8M234.7 680.6Q255.4 666.3 277.8 677.8M234.7 680.6Q257.3 686 277.9 696.6M234.7 680.6Q251.5 701.6 277.9 696.6M234.7 680.6Q238.8 689.7 244.9 697.5M234.7 680.6Q244.9 686 244.9 697.5M234.7 680.6Q249.1 688.7 261.1 699.9M234.7 680.6Q242.1 698.2 261.1 699.9M250.6 678.6Q254.5 680.3 258.7 681M250.6 678.6Q255.4 677.4 258.7 681M250.6 678.6Q264.2 676.6 277.8 677.8M250.6 678.6Q264.4 686.4 277.8 677.8M250.6 678.6Q263.2 689.2 277.9 696.6M250.6 678.6Q269.6 679.4 277.9 696.6M250.6 678.6Q248.9 688.4 244.9 697.5M250.6 678.6Q242.1 686.3 244.9 697.5M250.6 678.6Q254.6 689.9 261.1 699.9M250.6 678.6Q262.2 686.1 261.1 699.9M258.7 681Q268.1 678.3 277.8 677.8M258.7 681Q269.2 685.1 277.8 677.8M258.7 681Q267.4 690 277.9 696.6M258.7 681Q273 683 277.9 696.6M258.7 681Q252.8 690.1 244.9 697.5M258.7 681Q246.9 685.1 244.9 697.5M258.7 681Q258.8 690.6 261.1 699.9M258.7 681Q265.6 689.7 261.1 699.9M277.8 677.8Q279 687.2 277.9 696.6M277.8 677.8Q272.2 687.2 277.9 696.6M277.8 677.8Q260.2 685.7 244.9 697.5M277.8 677.8Q267.3 697.5 244.9 697.5M277.8 677.8Q270.8 689.9 261.1 699.9M277.8 677.8Q262.8 683.8 261.1 699.9M277.9 696.6Q261.3 695.1 244.9 697.5M277.9 696.6Q261.7 706.9 244.9 697.5M277.9 696.6Q269.7 699.3 261.1 699.9M277.9 696.6Q268.5 693.2 261.1 699.9M244.9 697.5Q252.9 699.7 261.1 699.9M244.9 697.5Q253.7 693.8 261.1 699.9M250.6 717.3Q237.1 722.2 222.9 723.8M250.6 717.3Q234.8 712.2 222.9 723.8M250.6 717.3Q245.7 731.4 244.3 746.3M250.6 717.3Q256.1 733.7 244.3 746.3M250.6 717.3Q256.4 725.8 260 735.4M250.6 717.3Q249.9 729.2 260 735.4M250.6 717.3Q238.3 727.6 228.7 740.5M250.6 717.3Q246.6 735.5 228.7 740.5M222.9 723.8Q235 733.8 244.3 746.3M222.9 723.8Q226.9 741.5 244.3 746.3M222.9 723.8Q240.8 731.8 260 735.4M222.9 723.8Q244.9 718.5 260 735.4M222.9 723.8Q226.8 731.8 228.7 740.5M222.9 723.8Q220.8 733.9 228.7 740.5M244.3 746.3Q252.8 741.8 260 735.4M244.3 746.3Q248.9 736.1 260 735.4M244.3 746.3Q236.2 744.3 228.7 740.5M244.3 746.3Q238.2 738.7 228.7 740.5M260 735.4Q244 736.1 228.7 740.5M260 735.4Q245.9 747.3 228.7 740.5M244.9 697.5Q248.9 707.1 250.6 717.3M244.9 697.5Q241.8 709.1 250.6 717.3M261.1 699.9Q254.8 708 250.6 717.3M261.1 699.9Q261.1 711.7 250.6 717.3M307.7 580.2Q316.8 587.9 323.9 597.6M307.7 580.2Q310.6 593.8 323.9 597.6M307.7 580.2Q307.3 597.2 311 613.9M307.7 580.2Q319.5 596.1 311 613.9M323.9 597.6Q318.4 606.5 311 613.9M323.9 597.6Q312.6 601.9 311 613.9M290.3 605.7Q300.2 611 311 613.9M290.3 605.7Q303.1 603.6 311 613.9M290.3 605.7Q294.7 617.5 296.1 629.9M290.3 605.7Q285.9 619.5 296.1 629.9M290.3 605.7Q307.6 603.7 323.9 597.6M290.3 605.7Q304.7 591.6 323.9 597.6M311 613.9Q315 618.1 317.8 623.2M311 613.9Q311.6 620.6 317.8 623.2M311 613.9Q325.2 616.3 339.6 615.3M311 613.9Q325.7 606 339.6 615.3M317.8 623.2Q328.2 617.9 339.6 615.3M317.8 623.2Q331.1 625.8 339.6 615.3M317.8 623.2Q329 629.2 341.3 632.4M317.8 623.2Q332.3 620.8 341.3 632.4M339.6 615.3Q341.5 623.7 341.3 632.4M339.6 615.3Q335.3 624.4 341.3 632.4M311 613.9Q302.6 621 296.1 629.9M311 613.9Q308.3 626.4 296.1 629.9M296.1 629.9Q297 637.5 296.1 645M296.1 629.9Q291.6 637.5 296.1 645M296.1 629.9Q306 634.7 316.8 637M296.1 629.9Q308.6 627.2 316.8 637M317.8 623.2Q318.1 630.2 316.8 637M317.8 623.2Q313.2 629.8 316.8 637M290.3 605.7Q290.8 625.7 296.1 645M290.3 605.7Q305 623.6 296.1 645M290.3 605.7Q297.5 591.9 307.7 580.2M290.3 605.7Q306.6 598.2 307.7 580.2M316.8 637Q306 639.8 296.1 645M316.8 637Q308.8 647.2 296.1 645M316.8 637Q319.4 644.9 320.1 653.1M316.8 637Q313.6 646 320.1 653.1M316.8 637Q307.6 647.7 301.1 660.2M316.8 637Q315.9 653.3 301.1 660.2M296.1 645Q308.6 647.6 320.1 653.1M296.1 645Q305.7 656.2 320.1 653.1M296.1 645Q297.7 652.9 301.1 660.2M296.1 645Q303.2 651.1 301.1 660.2M320.1 653.1Q311 657.8 301.1 660.2M320.1 653.1Q308.5 650.9 301.1 660.2"/>
<ellipse class="dc" cx="74" cy="498.2" rx="49.9" ry="48.9"/>
<circle cx="127.5" cy="454.9" r="9.7" fill="#362f6e"/>
<text class="w g" x="127.5" y="457.2">Lep</text>
<circle cx="126.4" cy="487.9" r="9.7" fill="#d6c85c"/>
<text class="k" style="font-size:7.0px" x="126.4" y="490.4">Bdnf</text>
<circle cx="154" cy="489.7" r="9.2" fill="#fff" stroke="#000" stroke-width="1"/>
<text class="k" x="154" y="491.9">Tgfb1</text>
<circle cx="180.7" cy="477.9" r="9.2" fill="#fff" stroke="#000" stroke-width="1"/>
<text class="k g" x="180.7" y="480.2">Fgf10</text>
<circle cx="140.9" cy="523.9" r="9.7" fill="#362f6e"/>
<text class="w" x="140.9" y="526.1">Fgf7</text>
<circle cx="181" cy="514.9" r="9.7" fill="#362f6e"/>
<text class="w" x="181" y="517.1">Wnt5a</text>
<circle cx="268.8" cy="452.4" r="9.7" fill="#362f6e"/>
<text class="w" x="268.8" y="454.6">Vegfb</text>
<circle cx="217" cy="484.4" r="9.7" fill="#362f6e"/>
<text class="w" x="217" y="486.6">Col4a5</text>
<circle cx="240.5" cy="487.5" r="9.7" fill="#362f6e"/>
<text class="w g" x="240.5" y="489.8">Itgb6</text>
<circle cx="260" cy="483.7" r="9.2" fill="#fff" stroke="#000" stroke-width="1"/>
<text class="k" x="260" y="485.9">Jak2</text>
<circle cx="276.6" cy="490" r="9.7" fill="#362f6e"/>
<text class="w" x="276.6" y="492.2">Fgf2</text>
<circle cx="300.4" cy="494.5" r="9.7" fill="#d6c85c"/>
<text class="k" x="300.4" y="496.7">Irs2</text>
<circle cx="253.7" cy="500.8" r="9.7" fill="#362f6e"/>
<text class="w" x="253.7" y="503">Itga7</text>
<circle cx="248.1" cy="519.8" r="9.7" fill="#362f6e"/>
<text class="w" x="248.1" y="522">Acta2</text>
<circle cx="228.2" cy="535.6" r="9.2" fill="#fff" stroke="#000" stroke-width="1"/>
<text class="k" x="228.2" y="537.8">Cald1</text>
<circle cx="260.7" cy="538.1" r="9.7" fill="#d6c85c"/>
<text class="k" x="260.7" y="540.3">Sorbs1</text>
<circle cx="244.3" cy="550.9" r="9.2" fill="#fff" stroke="#000" stroke-width="1"/>
<text class="k" x="244.3" y="553.1">Lmod1</text>
<circle cx="184.4" cy="547.1" r="9.7" fill="#d6c85c"/>
<text class="k s" x="184.4" y="548.8">Ppp1r3c</text>
<circle cx="206.9" cy="537" r="9.2" fill="#fff" stroke="#000" stroke-width="1"/>
<text class="k" x="206.9" y="539.2">Ppp1r3a</text>
<circle cx="215.3" cy="561.7" r="9.2" fill="#fff" stroke="#000" stroke-width="1"/>
<text class="k" x="215.3" y="563.9">Pygb</text>
<circle cx="192.6" cy="567.3" r="9.2" fill="#fff" stroke="#000" stroke-width="1"/>
<text class="k" x="192.6" y="569.5">Phka1</text>
<circle cx="205.7" cy="592.8" r="9.2" fill="#fff" stroke="#000" stroke-width="1"/>
<text class="k" x="205.7" y="595">Pfkp</text>
<circle cx="213.5" cy="577.8" r="9.2" fill="#fff" stroke="#000" stroke-width="1"/>
<text class="k" x="213.5" y="580">Pfkm</text>
<circle cx="235.4" cy="598.3" r="9.7" fill="#d6c85c"/>
<text class="k" x="235.4" y="600.5">Fbp2</text>
<circle cx="232.4" cy="582.1" r="9.2" fill="#fff" stroke="#000" stroke-width="1"/>
<text class="k" x="232.4" y="584.3">Pfkfb2</text>
<circle cx="217" cy="611.7" r="9.2" fill="#fff" stroke="#000" stroke-width="1"/>
<text class="k" x="217" y="613.9">Pfkfb1</text>
<circle cx="97.5" cy="550.2" r="9.7" fill="#d6c85c"/>
<text class="k" x="97.5" y="552.4">Atp2a1</text>
<circle cx="94.1" cy="571.5" r="9.7" fill="#d6c85c"/>
<text class="k g" x="94.1" y="573.8">Myh3</text>
<circle cx="112.5" cy="566.8" r="9.7" fill="#d6c85c"/>
<text class="k" x="112.5" y="569">Mybpc2</text>
<circle cx="135.1" cy="562.4" r="9.7" fill="#362f6e"/>
<text class="w g" x="135.1" y="564.7">Mylpf</text>
<circle cx="79.9" cy="584.2" r="9.7" fill="#362f6e"/>
<text class="w g" x="79.9" y="586.5">Tpm1</text>
<circle cx="144.3" cy="578.6" r="9.7" fill="#362f6e"/>
<text class="w g" x="144.3" y="580.9">Tnnc2</text>
<circle cx="123.2" cy="581.5" r="9.2" fill="#fff" stroke="#000" stroke-width="1"/>
<text class="k g" x="123.2" y="583.8">Tnnt3</text>
<circle cx="106.7" cy="591" r="9.2" fill="#fff" stroke="#000" stroke-width="1"/>
<text class="k g" x="106.7" y="593.3">Tnnt1</text>
<circle cx="134" cy="613.6" r="9.2" fill="#fff" stroke="#000" stroke-width="1"/>
<text class="k" x="134" y="615.8">Tnnc1</text>
<circle cx="127.5" cy="597.9" r="9.2" fill="#fff" stroke="#000" stroke-width="1"/>
<text class="k g" x="127.5" y="600.2">Tnni2</text>
<circle cx="149.3" cy="599.2" r="9.7" fill="#362f6e"/>
<text class="w g" x="149.3" y="601.5">Tpm4</text>
<circle cx="90.7" cy="600.5" r="9.2" fill="#fff" stroke="#000" stroke-width="1"/>
<text class="k g" x="90.7" y="602.8">Actn3</text>
<circle cx="97.5" cy="618.6" r="9.2" fill="#fff" stroke="#000" stroke-width="1"/>
<text class="k g" x="97.5" y="620.9">Tmod3</text>
<circle cx="111.7" cy="605.8" r="9.7" fill="#362f6e"/>
<text class="w g" x="111.7" y="608.1">Myl1</text>
<circle cx="117.2" cy="623.9" r="9.2" fill="#fff" stroke="#000" stroke-width="1"/>
<text class="k g" x="117.2" y="626.2">Myl2</text>
<circle cx="162.1" cy="584" r="9.2" fill="#fff" stroke="#000" stroke-width="1"/>
<text class="k" x="162.1" y="586.2">Hspa2</text>
<circle cx="181.4" cy="598.4" r="9.7" fill="#362f6e"/>
<text class="w" x="181.4" y="600.6">Hspa4l</text>
<circle cx="163.7" cy="612.3" r="9.7" fill="#d6c85c"/>
<text class="k" x="163.7" y="614.5">Hsph1</text>
<circle cx="18.9" cy="566.4" r="9.7" fill="#d6c85c"/>
<text class="k" x="18.9" y="568.6">Atf4</text>
<circle cx="34.7" cy="580.5" r="9.7" fill="#d6c85c"/>
<text class="k g" x="34.7" y="582.8">Cebpg</text>
<circle cx="50.8" cy="592.4" r="9.7" fill="#d6c85c"/>
<text class="k" x="50.8" y="594.6">Trib3</text>
<circle cx="70.5" cy="623.9" r="9.7" fill="#362f6e"/>
<text class="w" x="70.5" y="626.1">Nos1</text>
<circle cx="27.1" cy="651.6" r="9.2" fill="#fff" stroke="#000" stroke-width="1"/>
<text class="k" x="27.1" y="653.8">Pik3r5</text>
<circle cx="74.4" cy="653.7" r="9.7" fill="#d6c85c"/>
<text class="k" x="74.4" y="655.9">Gnb4</text>
<circle cx="53.4" cy="667.4" r="9.7" fill="#362f6e"/>
<text class="w" x="53.4" y="669.6">Gnb3</text>
<circle cx="94.6" cy="672.1" r="9.7" fill="#d6c85c"/>
<text class="k" x="94.6" y="674.3">Ubb</text>
<circle cx="69.7" cy="689.7" r="9.7" fill="#d6c85c"/>
<text class="k" x="69.7" y="691.9">Polr2a</text>
<circle cx="98.6" cy="701.3" r="9.7" fill="#d6c85c"/>
<text class="k" x="98.6" y="703.5">Cul3</text>
<circle cx="118.5" cy="648.9" r="9.7" fill="#362f6e"/>
<text class="w" x="118.5" y="651.1">Plce1</text>
<circle cx="144.6" cy="658.6" r="9.7" fill="#362f6e"/>
<text class="w" x="144.6" y="660.8">Plod4</text>
<circle cx="123" cy="675.8" r="9.7" fill="#d6c85c"/>
<text class="k" x="123" y="678">Plod3</text>
<circle cx="180.4" cy="628.1" r="9.7" fill="#d6c85c"/>
<text class="k" x="180.4" y="630.3">Cdkn1a</text>
<circle cx="163.7" cy="649.2" r="9.7" fill="#d6c85c"/>
<text class="k" x="163.7" y="651.4">Nrip1</text>
<circle cx="181.2" cy="659.2" r="9.7" fill="#362f6e"/>
<text class="w" x="181.2" y="661.4">Ncoa1</text>
<circle cx="194.6" cy="646.2" r="9.2" fill="#fff" stroke="#000" stroke-width="1"/>
<text class="k" x="194.6" y="648.4">Ar</text>
<circle cx="215.3" cy="655.1" r="9.2" fill="#fff" stroke="#000" stroke-width="1"/>
<text class="k" x="215.3" y="657.3">Adipoq</text>
<circle cx="200.1" cy="669.8" r="9.7" fill="#d6c85c"/>
<text class="k" x="200.1" y="672">Edn1</text>
<circle cx="216.5" cy="682.4" r="9.7" fill="#d6c85c"/>
<text class="k" x="216.5" y="684.6">Tlr4</text>
<circle cx="124.8" cy="702.3" r="9.7" fill="#d6c85c"/>
<text class="k" x="124.8" y="704.5">Ddit4</text>
<circle cx="140.6" cy="715" r="9.7" fill="#362f6e"/>
<text class="w" x="140.6" y="717.2">Rragd</text>
<circle cx="155.1" cy="730.2" r="9.7" fill="#362f6e"/>
<text class="w" x="155.1" y="732.4">Tbc1d7</text>
<circle cx="242.3" cy="620.3" r="9.2" fill="#fff" stroke="#000" stroke-width="1"/>
<text class="k" x="242.3" y="622.5">Pck1</text>
<circle cx="253.6" cy="641.2" r="9.7" fill="#362f6e"/>
<text class="w" x="253.6" y="643.4">Rxrg</text>
<circle cx="259.6" cy="627.9" r="9.7" fill="#362f6e"/>
<text class="w" x="259.6" y="630.1">Esrra</text>
<circle cx="260.3" cy="610.7" r="9.7" fill="#d6c85c"/>
<text class="k" x="260.3" y="612.9">Lpin1</text>
<circle cx="276.2" cy="625.2" r="9.7" fill="#d6c85c"/>
<text class="k" x="276.2" y="627.4">Fabp3</text>
<circle cx="271.3" cy="643" r="9.2" fill="#fff" stroke="#000" stroke-width="1"/>
<text class="k s" x="271.3" y="644.7">Ppargc1a</text>
<circle cx="237.3" cy="646.3" r="9.7" fill="#362f6e"/>
<text class="w" x="237.3" y="648.5">Fabp5</text>
<circle cx="251.2" cy="663.6" r="9.2" fill="#fff" stroke="#000" stroke-width="1"/>
<text class="k s" x="251.2" y="665.3">mt-Cytb</text>
<circle cx="268.8" cy="662.2" r="9.7" fill="#362f6e"/>
<text class="w" x="268.8" y="664.4">Cox10</text>
<circle cx="234.7" cy="680.6" r="9.2" fill="#fff" stroke="#000" stroke-width="1"/>
<circle cx="250.6" cy="678.6" r="9.7" fill="#d6c85c"/>
<circle cx="258.7" cy="681" r="9.2" fill="#fff" stroke="#000" stroke-width="1"/>
<text class="k s" x="234.7" y="682.3">mt-Nd4l</text>
<text class="k" x="251.8" y="678.6">Ndufs2</text>
<text class="k" x="258.7" y="684.5">mt-Nd4</text>
<circle cx="277.8" cy="677.8" r="9.2" fill="#fff" stroke="#000" stroke-width="1"/>
<text class="k" x="277.8" y="680">Cox8a</text>
<circle cx="277.9" cy="696.6" r="9.7" fill="#362f6e"/>
<text class="w s" x="277.9" y="695.3">Ndufa4l2</text>
<circle cx="244.9" cy="697.5" r="9.7" fill="#362f6e"/>
<text class="w s" x="244.9" y="699.2">Ndufb10</text>
<circle cx="261.1" cy="699.9" r="9.7" fill="#362f6e"/>
<text class="w s" x="261.1" y="701.6">Ndufb3</text>
<circle cx="250.6" cy="717.3" r="9.7" fill="#362f6e"/>
<text class="w" x="250.6" y="719.5">Atp1b1</text>
<circle cx="222.9" cy="723.8" r="9.7" fill="#362f6e"/>
<text class="w" x="222.9" y="726">Fxyd6</text>
<circle cx="244.3" cy="746.3" r="9.2" fill="#fff" stroke="#000" stroke-width="1"/>
<text class="k" x="244.3" y="748.5">Atp1a1</text>
<circle cx="260" cy="735.4" r="9.7" fill="#362f6e"/>
<text class="w" x="260" y="737.6">Atp1a4</text>
<circle cx="228.7" cy="740.5" r="9.2" fill="#fff" stroke="#000" stroke-width="1"/>
<text class="k" x="228.7" y="742.7">Atp1b4</text>
<circle cx="307.7" cy="580.2" r="9.2" fill="#fff" stroke="#000" stroke-width="1"/>
<text class="k" x="307.7" y="582.4">Pdgfc</text>
<circle cx="323.9" cy="597.6" r="9.2" fill="#fff" stroke="#000" stroke-width="1"/>
<text class="k" x="323.9" y="599.8">Ngfr</text>
<circle cx="290.3" cy="605.7" r="9.7" fill="#d6c85c"/>
<text class="k" x="290.3" y="607.9">Chuk</text>
<circle cx="311" cy="613.9" r="9.2" fill="#fff" stroke="#000" stroke-width="1"/>
<text class="k" x="311" y="613.8">Kit</text>
<circle cx="339.6" cy="615.3" r="9.2" fill="#fff" stroke="#000" stroke-width="1"/>
<text class="k" x="339.6" y="617.5">Thbs2</text>
<circle cx="317.8" cy="623.2" r="9.7" fill="#d6c85c"/>
<text class="k" x="317.8" y="625.4">Thbs1</text>
<circle cx="341.3" cy="632.4" r="9.2" fill="#fff" stroke="#000" stroke-width="1"/>
<text class="k" x="341.3" y="634.6">Itga9</text>
<circle cx="296.1" cy="645" r="9.2" fill="#fff" stroke="#000" stroke-width="1"/>
<text class="k" x="296.1" y="647.2">Psmd5</text>
<circle cx="296.1" cy="629.9" r="9.7" fill="#362f6e"/>
<text class="w" x="296.1" y="632.1">Ccnd1</text>
<circle cx="316.8" cy="637" r="9.7" fill="#d6c85c"/>
<text class="k" x="316.8" y="639.2">Psmb5</text>
<circle cx="301.1" cy="660.2" r="9.7" fill="#d6c85c"/>
<text class="k" x="301.1" y="662.4">Psmd11</text>
<circle cx="320.1" cy="653.1" r="9.7" fill="#d6c85c"/>
<text class="k" x="320.1" y="655.3">Psmd8</text>
<circle cx="62.9" cy="463.2" r="9.2" fill="#fff" stroke="#000" stroke-width="1"/>
<text class="k g" x="62.9" y="465.5">Hlf</text>
<circle cx="66.1" cy="480.9" r="9.2" fill="#fff" stroke="#d5451d" stroke-width="1"/>
<text class="k g" x="66.1" y="483.2">Per2</text>
<circle cx="58.1" cy="506" r="9.2" fill="#fff" stroke="#d5451d" stroke-width="1"/>
<text class="k g" x="58.1" y="508.3">Nr1d1</text>
<circle cx="89.9" cy="511.1" r="9.7" fill="#362f6e"/>
<text class="w s" x="89.9" y="512.8">Bhlhe40</text>
<circle cx="73.8" cy="501.6" r="9.2" fill="#362f6e" stroke="#d5451d" stroke-width="1"/>
<text class="w g" x="73.8" y="503.9">Cry1</text>
<circle cx="93.1" cy="496.8" r="9.2" fill="#362f6e" stroke="#d5451d" stroke-width="1"/>
<text class="w g" x="93.1" y="499.1">Per3</text>
<circle cx="104.3" cy="482.6" r="9.2" fill="#d6c85c" stroke="#d5451d" stroke-width="1"/>
<text class="k g" x="104.3" y="484.9">Clock</text>
<circle cx="55.9" cy="489.9" r="9.2" fill="#d6c85c" stroke="#d5451d" stroke-width="1"/>
<text class="k g" x="55.9" y="492.2">Per1</text>
<circle cx="81.7" cy="488.7" r="9.2" fill="#d6c85c" stroke="#d5451d" stroke-width="1"/>
<text class="k g" x="81.7" y="491">Npas2</text>
<circle cx="44.9" cy="473.1" r="9.2" fill="#fff" stroke="#d5451d" stroke-width="1"/>
<text class="k g" x="44.9" y="475.4">Nr1d2</text>
<circle cx="37.3" cy="498.5" r="9.2" fill="#d6c85c" stroke="#d5451d" stroke-width="1"/>
<text class="k g" x="37.3" y="500.8">Cry2</text>
<circle cx="110.7" cy="502.2" r="9.2" fill="#d6c85c" stroke="#d5451d" stroke-width="1"/>
<text class="k g" x="110.7" y="504.5">Rorc</text>
<circle cx="84.7" cy="469.2" r="9.2" fill="#d6c85c" stroke="#d5451d" stroke-width="1"/>
<text class="k g" x="84.7" y="471.5">Arntl</text>
<circle cx="49" cy="520.7" r="9.7" fill="#d6c85c"/>
<text class="k g" x="49" y="523">Nfil3</text>
<circle cx="69.7" cy="521.3" r="9.2" fill="#fff" stroke="#d5451d" stroke-width="1"/>
<text class="k g" x="69.7" y="523.6">Rorb</text>
<circle cx="87.5" cy="532.5" r="9.2" fill="#d6c85c" stroke="#d5451d" stroke-width="1"/>
<text class="k g" x="87.5" y="534.8">Rora</text>
</g>
<g id="panel-d">
<path class="e" d="M395.8 463.3Q398.5 472 399 481M395.8 463.3Q392.1 473.1 399 481M395.8 463.3Q390.8 484.4 391 506.1M395.8 463.3Q406.2 486.1 391 506.1M395.8 463.3Q412.2 485.6 422.8 511.2M395.8 463.3Q394.9 495.4 422.8 511.2M395.8 463.3Q398.9 483.2 406.7 501.7M395.8 463.3Q412.8 479.2 406.7 501.7M395.8 463.3Q412.9 478.3 426 496.9M395.8 463.3Q400.8 489.2 426 496.9M395.8 463.3Q415.3 475.5 437.2 482.7M395.8 463.3Q422.3 460.6 437.2 482.7M395.8 463.3Q393.9 477.1 388.8 490M395.8 463.3Q384.3 474.5 388.8 490M395.8 463.3Q403.7 477.2 414.6 488.8M395.8 463.3Q412.9 470.4 414.6 488.8M395.8 463.3Q387.4 469.3 377.8 473.2M395.8 463.3Q383.8 462.9 377.8 473.2M395.8 463.3Q380.9 479.4 370.2 498.6M395.8 463.3Q393.6 488.6 370.2 498.6M395.8 463.3Q422 479.9 443.6 502.3M395.8 463.3Q408 497.1 443.6 502.3M395.8 463.3Q406.3 467.6 417.6 469.3M395.8 463.3Q408.5 459.8 417.6 469.3M395.8 463.3Q402.7 491.9 402.6 521.4M395.8 463.3Q381.8 494.4 402.6 521.4M395.8 463.3Q403.9 499.4 420.4 532.6M395.8 463.3Q428.9 490.6 420.4 532.6M399 481Q396.5 494 391 506.1M399 481Q387.5 491.2 391 506.1M399 481Q409.1 497.5 422.8 511.2M399 481Q420 489 422.8 511.2M399 481Q404.1 490.9 406.7 501.7M399 481Q396.6 493.7 406.7 501.7M399 481Q411.5 490.6 426 496.9M399 481Q417.3 480.8 426 496.9M399 481Q418.2 479.6 437.2 482.7M399 481Q417.6 493.3 437.2 482.7M399 481Q393.4 484.9 388.8 490M399 481Q396.6 488.6 388.8 490M399 481Q407.3 484 414.6 488.8M399 481Q404.5 489.6 414.6 488.8M399 481Q388.9 475.8 377.8 473.2M399 481Q386.1 483.5 377.8 473.2M399 481Q385.7 491.5 370.2 498.6M399 481Q379.3 481.2 370.2 498.6M399 481Q420 494.3 443.6 502.3M399 481Q427.7 478.3 443.6 502.3M399 481Q407.6 474 417.6 469.3M399 481Q411.8 480.7 417.6 469.3M399 481Q398.4 501.4 402.6 521.4M399 481Q412.9 500.1 402.6 521.4M399 481Q412.8 505.5 420.4 532.6M399 481Q394.2 513.2 420.4 532.6M391 506.1Q406.6 510.6 422.8 511.2M391 506.1Q408.4 499.1 422.8 511.2M391 506.1Q398.6 503 406.7 501.7M391 506.1Q400.2 508.6 406.7 501.7M391 506.1Q409.1 503.6 426 496.9M391 506.1Q405.7 491 426 496.9M391 506.1Q412.7 491.6 437.2 482.7M391 506.1Q421.1 508.3 437.2 482.7M391 506.1Q390.9 497.9 388.8 490M391 506.1Q385.1 498.7 388.8 490M391 506.1Q401.8 496 414.6 488.8M391 506.1Q408 504.5 414.6 488.8M391 506.1Q386.4 488.9 377.8 473.2M391 506.1Q374.5 493.6 377.8 473.2M391 506.1Q380.2 503.6 370.2 498.6M391 506.1Q382.9 496.1 370.2 498.6M391 506.1Q417.5 507.4 443.6 502.3M391 506.1Q416.2 488.4 443.6 502.3M391 506.1Q402.1 486.1 417.6 469.3M391 506.1Q415.3 495.7 417.6 469.3M391 506.1Q395.9 514.4 402.6 521.4M391 506.1Q401.4 510.3 402.6 521.4M391 506.1Q407.3 517.6 420.4 532.6M391 506.1Q397.8 528.2 420.4 532.6M422.8 511.2Q415.3 505.5 406.7 501.7M422.8 511.2Q411.9 511.3 406.7 501.7M422.8 511.2Q423.5 503.9 426 496.9M422.8 511.2Q428.7 505 426 496.9M422.8 511.2Q431.7 497.8 437.2 482.7M422.8 511.2Q421.4 492.6 437.2 482.7M422.8 511.2Q404.5 502.6 388.8 490M422.8 511.2Q412.2 490.4 388.8 490M422.8 511.2Q420 499.5 414.6 488.8M422.8 511.2Q412 502.5 414.6 488.8M422.8 511.2Q398 494.9 377.8 473.2M422.8 511.2Q411.7 478.7 377.8 473.2M422.8 511.2Q397.3 501.7 370.2 498.6M422.8 511.2Q392.7 520.7 370.2 498.6M422.8 511.2Q432.7 505.5 443.6 502.3M422.8 511.2Q435.9 513 443.6 502.3M422.8 511.2Q422.7 489.9 417.6 469.3M422.8 511.2Q407.6 491.8 417.6 469.3M422.8 511.2Q413.3 517.5 402.6 521.4M422.8 511.2Q409.6 510.2 402.6 521.4M422.8 511.2Q420.3 521.8 420.4 532.6M422.8 511.2Q428 522.6 420.4 532.6M406.7 501.7Q416.1 498.1 426 496.9M406.7 501.7Q417.8 505.1 426 496.9M406.7 501.7Q423.1 494 437.2 482.7M406.7 501.7Q416.3 483.1 437.2 482.7M406.7 501.7Q397 496.9 388.8 490M406.7 501.7Q401.3 490.5 388.8 490M406.7 501.7Q411.4 495.7 414.6 488.8M406.7 501.7Q406.8 492.9 414.6 488.8M406.7 501.7Q390.5 489.2 377.8 473.2M406.7 501.7Q400.8 478.8 377.8 473.2M406.7 501.7Q388.6 498 370.2 498.6M406.7 501.7Q387.5 511.1 370.2 498.6M406.7 501.7Q425.2 499.8 443.6 502.3M406.7 501.7Q425 513.1 443.6 502.3M406.7 501.7Q414.1 486.2 417.6 469.3M406.7 501.7Q402.4 482.2 417.6 469.3M406.7 501.7Q405.8 511.8 402.6 521.4M406.7 501.7Q398.7 510.3 402.6 521.4M406.7 501.7Q411.7 518 420.4 532.6M406.7 501.7Q422.8 513 420.4 532.6M426 496.9Q430.7 489.1 437.2 482.7M426 496.9Q435.9 493.2 437.2 482.7M426 496.9Q407.8 491.2 388.8 490M426 496.9Q405.3 504.6 388.8 490M426 496.9Q419.8 493.5 414.6 488.8M426 496.9Q422.7 489.4 414.6 488.8M426 496.9Q403.3 482.2 377.8 473.2M426 496.9Q394.8 499.5 377.8 473.2M426 496.9Q398.2 501.1 370.2 498.6M426 496.9Q397.6 481 370.2 498.6M426 496.9Q434.5 500.7 443.6 502.3M426 496.9Q436.4 494.3 443.6 502.3M426 496.9Q420.1 483.6 417.6 469.3M426 496.9Q430.1 480.6 417.6 469.3M426 496.9Q412.8 507.7 402.6 521.4M426 496.9Q421.7 516.2 402.6 521.4M426 496.9Q425.3 515.1 420.4 532.6M426 496.9Q412.5 513.1 420.4 532.6M437.2 482.7Q412.6 483.4 388.8 490M437.2 482.7Q415.2 500.9 388.8 490M437.2 482.7Q426.3 487.1 414.6 488.8M437.2 482.7Q424.1 479 414.6 488.8M437.2 482.7Q408.1 474.4 377.8 473.2M437.2 482.7Q404.6 495.8 377.8 473.2M437.2 482.7Q404.7 494.7 370.2 498.6M437.2 482.7Q398.9 470.5 370.2 498.6M437.2 482.7Q439.2 492.9 443.6 502.3M437.2 482.7Q446.3 490.6 443.6 502.3M437.2 482.7Q426.6 477.2 417.6 469.3M437.2 482.7Q431.4 470.1 417.6 469.3M437.2 482.7Q417.6 500 402.6 521.4M437.2 482.7Q431.5 512.4 402.6 521.4M437.2 482.7Q431.8 508.7 420.4 532.6M437.2 482.7Q413.8 502.6 420.4 532.6M388.8 490Q401.8 490.9 414.6 488.8M388.8 490Q401.3 481.7 414.6 488.8M388.8 490Q382.3 482.3 377.8 473.2M388.8 490Q388.3 478.3 377.8 473.2M388.8 490Q379 493.2 370.2 498.6M388.8 490Q382.1 499.9 370.2 498.6M388.8 490Q416.9 492.9 443.6 502.3M388.8 490Q412.5 512.6 443.6 502.3M388.8 490Q404.4 481.4 417.6 469.3M388.8 490Q397 471 417.6 469.3M388.8 490Q397.6 504.9 402.6 521.4M388.8 490Q386.3 509.8 402.6 521.4M388.8 490Q402 513.2 420.4 532.6M388.8 490Q417.4 501.8 420.4 532.6M414.6 488.8Q395.3 483.2 377.8 473.2M414.6 488.8Q400.9 470 377.8 473.2M414.6 488.8Q391.8 491 370.2 498.6M414.6 488.8Q395.3 507 370.2 498.6M414.6 488.8Q429.9 493.8 443.6 502.3M414.6 488.8Q425.1 504.2 443.6 502.3M414.6 488.8Q417.3 479.2 417.6 469.3M414.6 488.8Q410.2 478.2 417.6 469.3M414.6 488.8Q410.6 505.8 402.6 521.4M414.6 488.8Q398.8 501.5 402.6 521.4M414.6 488.8Q414.9 511 420.4 532.6M414.6 488.8Q430.6 509 420.4 532.6M377.8 473.2Q375.5 486.4 370.2 498.6M377.8 473.2Q366.4 483.6 370.2 498.6M377.8 473.2Q409 491.7 443.6 502.3M377.8 473.2Q419.4 468 443.6 502.3M377.8 473.2Q397.5 468.9 417.6 469.3M377.8 473.2Q398.9 483.2 417.6 469.3M377.8 473.2Q387.3 498.8 402.6 521.4M377.8 473.2Q404.7 489.9 402.6 521.4M377.8 473.2Q402.7 500.3 420.4 532.6M377.8 473.2Q381.3 515.7 420.4 532.6M370.2 498.6Q406.7 504.9 443.6 502.3M370.2 498.6Q408 478.4 443.6 502.3M370.2 498.6Q392.1 481.1 417.6 469.3M370.2 498.6Q402.7 498.2 417.6 469.3M370.2 498.6Q385 511.9 402.6 521.4M370.2 498.6Q393.2 500.3 402.6 521.4M370.2 498.6Q397.3 512.6 420.4 532.6M370.2 498.6Q385.1 530.7 420.4 532.6M443.6 502.3Q432.6 484.2 417.6 469.3M443.6 502.3Q420.7 493.6 417.6 469.3M443.6 502.3Q424.2 514.3 402.6 521.4M443.6 502.3Q417.4 499.6 402.6 521.4M443.6 502.3Q430.2 516.1 420.4 532.6M443.6 502.3Q441.1 524.4 420.4 532.6M417.6 469.3Q413.2 496.2 402.6 521.4M417.6 469.3Q394.5 490.9 402.6 521.4M417.6 469.3Q415.2 501.1 420.4 532.6M417.6 469.3Q438 500.1 420.4 532.6M402.6 521.4Q412.2 525.9 420.4 532.6M402.6 521.4Q408.1 532.3 420.4 532.6M381.9 520.8Q387.3 514 391 506.1M381.9 520.8Q382 510.7 391 506.1M381.9 520.8Q383.5 505 388.8 490M381.9 520.8Q394.6 507.5 388.8 490M381.9 520.8Q392.2 522.3 402.6 521.4M381.9 520.8Q392.4 514.9 402.6 521.4M381.9 520.8Q374.7 510.4 370.2 498.6M381.9 520.8Q382.7 506.2 370.2 498.6M459.3 488Q448.6 484 437.2 482.7M459.3 488Q446.7 492 437.2 482.7M459.3 488Q443.2 494.4 426 496.9M459.3 488Q440 482.5 426 496.9M459.3 488Q450.6 494.2 443.6 502.3M459.3 488Q455.7 499.9 443.6 502.3M420.4 532.6Q426.5 540.9 430.4 550.3M420.4 532.6Q420.1 544.5 430.4 550.3M460.4 455Q457.9 471.4 459.3 488M460.4 455Q469.8 471.8 459.3 488M460.4 455Q475.7 470.8 486.9 489.8M460.4 455Q463.2 480.3 486.9 489.8M459.3 488Q473 490.6 486.9 489.8M459.3 488Q473.6 480.6 486.9 489.8M459.3 488Q485.9 479.7 513.6 478M459.3 488Q489.5 499.3 513.6 478M459.3 488Q464.4 506.9 473.8 524M459.3 488Q477.4 501.6 473.8 524M486.9 489.8Q499.5 482.3 513.6 478M486.9 489.8Q503.8 491.9 513.6 478M486.9 489.8Q478.3 506.1 473.8 524M486.9 489.8Q490.6 510.8 473.8 524M486.9 489.8Q501.9 500.8 513.9 515M486.9 489.8Q492.8 510.5 513.9 515M513.6 478Q511.5 496.5 513.9 515M513.6 478Q524.9 496.4 513.9 515M473.8 524Q493.3 517.1 513.9 515M473.8 524Q496.6 531.5 513.9 515M459.3 488Q485 504.8 513.9 515M459.3 488Q494.7 485.1 513.9 515M601.7 452.5Q607.9 470.8 609.5 490.1M601.7 452.5Q594.3 473.6 609.5 490.1M549.9 484.5Q561.5 487.5 573.4 487.6M549.9 484.5Q562.6 479 573.4 487.6M573.4 487.6Q582.9 484.5 592.9 483.8M573.4 487.6Q584.3 491.6 592.9 483.8M573.4 487.6Q579.2 495 586.6 500.9M573.4 487.6Q584 490.3 586.6 500.9M573.4 487.6Q579.1 503.3 581 519.9M573.4 487.6Q567.5 506 581 519.9M592.9 483.8Q600.8 487.9 609.5 490.1M592.9 483.8Q603.1 482 609.5 490.1M609.5 490.1Q621.7 490.9 633.3 494.6M609.5 490.1Q620 499.5 633.3 494.6M609.5 490.1Q597.4 494.1 586.6 500.9M609.5 490.1Q601.3 502.4 586.6 500.9M609.5 490.1Q597 506.7 581 519.9M609.5 490.1Q586.3 496.4 581 519.9M586.6 500.9Q582.7 510.1 581 519.9M586.6 500.9Q589.5 512.1 581 519.9M581 519.9Q572 529 561.1 535.7M581 519.9Q566.3 521.8 561.1 535.7M581 519.9Q586.2 529.8 593.6 538.2M581 519.9Q592.8 525.3 593.6 538.2M581 519.9Q581 535.7 577.2 551M581 519.9Q569.8 534.3 577.2 551M561.1 535.7Q577.2 538.9 593.6 538.2M561.1 535.7Q578.1 527.2 593.6 538.2M561.1 535.7Q570.1 542.4 577.2 551M561.1 535.7Q564.6 548.2 577.2 551M593.6 538.2Q584.6 543.6 577.2 551M593.6 538.2Q589.2 549.5 577.2 551M549.9 484.5Q569.2 490.5 586.6 500.9M549.9 484.5Q563.3 503.7 586.6 500.9M592.9 483.8Q612.5 491.6 633.3 494.6M592.9 483.8Q616.3 477.1 633.3 494.6M592.9 483.8Q590.8 492.7 586.6 500.9M592.9 483.8Q584.6 490.5 586.6 500.9M539.8 537.1Q527.9 540.8 517.3 547.2M539.8 537.1Q531.6 548.9 517.3 547.2M539.8 537.1Q545.5 548.9 548.2 561.8M539.8 537.1Q536.6 552 548.2 561.8M539.8 537.1Q530.8 551.4 525.5 567.4M539.8 537.1Q541.7 556.5 525.5 567.4M517.3 547.2Q533.6 552.6 548.2 561.8M517.3 547.2Q528.4 563.8 548.2 561.8M517.3 547.2Q520.2 557.8 525.5 567.4M517.3 547.2Q527.5 554.8 525.5 567.4M548.2 561.8Q537.2 566 525.5 567.4M548.2 561.8Q535.2 557.8 525.5 567.4M548.2 561.8Q546.3 569.7 546.4 577.9M548.2 561.8Q552.1 570.4 546.4 577.9M525.5 567.4Q536.6 571.4 546.4 577.9M525.5 567.4Q532.8 578.9 546.4 577.9M546.4 577.9Q555.6 581.2 565.3 582.2M546.4 577.9Q557.1 574.4 565.3 582.2M546.4 577.9Q543.4 585.9 538.6 592.9M546.4 577.9Q538 583.1 538.6 592.9M546.4 577.9Q556.1 589.5 568.3 598.4M546.4 577.9Q563.5 581.6 568.3 598.4M546.4 577.9Q550.2 594.6 549.9 611.8M546.4 577.9Q538 595.9 549.9 611.8M565.3 582.2Q565.8 590.5 568.3 598.4M565.3 582.2Q571.7 589.4 568.3 598.4M565.3 582.2Q552.6 589.2 538.6 592.9M565.3 582.2Q548.7 579.5 538.6 592.9M538.6 592.9Q553.1 597.4 568.3 598.4M538.6 592.9Q555.1 586.7 568.3 598.4M538.6 592.9Q545.4 601.7 549.9 611.8M538.6 592.9Q538.6 605.7 549.9 611.8M568.3 598.4Q558.3 604 549.9 611.8M568.3 598.4Q563.1 610.6 549.9 611.8M565.3 582.2Q559.4 597.9 549.9 611.8M565.3 582.2Q548.7 592.4 549.9 611.8M568.3 598.4Q570.4 609.8 575.2 620.4M568.3 598.4Q578.4 607.3 575.2 620.4M549.9 611.8Q563.1 614.6 575.2 620.4M549.9 611.8Q560 623.7 575.2 620.4M539.8 537.1Q540.7 557.9 546.4 577.9M539.8 537.1Q555.3 555.5 546.4 577.9M430.4 550.3Q430 561.2 427 571.6M430.4 550.3Q422.3 559.9 427 571.6M430.4 550.3Q436.9 559.5 445.4 566.9M430.4 550.3Q442.9 554.1 445.4 566.9M430.4 550.3Q449.9 554.1 468 562.5M430.4 550.3Q445.5 567.7 468 562.5M430.4 550.3Q419.6 566.2 412.8 584.3M430.4 550.3Q431.8 572.6 412.8 584.3M430.4 550.3Q455.5 561.7 477.2 578.7M430.4 550.3Q445.3 578.5 477.2 578.7M430.4 550.3Q441.4 567.5 456.1 581.6M430.4 550.3Q452.6 558.2 456.1 581.6M430.4 550.3Q437.4 570.1 439.6 591.1M430.4 550.3Q422.8 573.5 439.6 591.1M430.4 550.3Q444.8 584.2 466.9 613.7M430.4 550.3Q467.7 571 466.9 613.7M430.4 550.3Q448.3 572.4 460.4 598M430.4 550.3Q431.1 583.1 460.4 598M430.4 550.3Q453.4 577.9 482.2 599.3M430.4 550.3Q471 559.3 482.2 599.3M430.4 550.3Q430 575.9 423.6 600.6M430.4 550.3Q411.9 573.4 423.6 600.6M430.4 550.3Q426.3 584.5 430.4 618.7M430.4 550.3Q450.9 584.5 430.4 618.7M430.4 550.3Q440.8 577.2 444.6 605.9M430.4 550.3Q420.8 582.4 444.6 605.9M430.4 550.3Q435.8 588.3 450.1 624M430.4 550.3Q462.4 581.2 450.1 624M427 571.6Q435.9 568.1 445.4 566.9M427 571.6Q437.6 574.8 445.4 566.9M427 571.6Q448 569.5 468 562.5M427 571.6Q444.8 554.8 468 562.5M427 571.6Q420.7 578.8 412.8 584.3M427 571.6Q416.1 573.7 412.8 584.3M427 571.6Q451.7 578.2 477.2 578.7M427 571.6Q454.2 560.1 477.2 578.7M427 571.6Q442.2 574.9 456.1 581.6M427 571.6Q438.6 585.3 456.1 581.6M427 571.6Q432.1 582.1 439.6 591.1M427 571.6Q439.2 577.6 439.6 591.1M427 571.6Q449.5 590.3 466.9 613.7M427 571.6Q434.3 604.6 466.9 613.7M427 571.6Q442.1 586.8 460.4 598M427 571.6Q451.6 574.8 460.4 598M427 571.6Q456.3 582.1 482.2 599.3M427 571.6Q446.3 602 482.2 599.3M427 571.6Q423.6 585.9 423.6 600.6M427 571.6Q434 587.1 423.6 600.6M427 571.6Q431.5 594.9 430.4 618.7M427 571.6Q414.6 596.2 430.4 618.7M427 571.6Q433.7 589.8 444.6 605.9M427 571.6Q446.1 583.5 444.6 605.9M427 571.6Q441.7 596.4 450.1 624M427 571.6Q422.8 604.7 450.1 624M445.4 566.9Q457 566.1 468 562.5M445.4 566.9Q455.4 557.9 468 562.5M445.4 566.9Q430.1 577.6 412.8 584.3M445.4 566.9Q423.9 565.8 412.8 584.3M445.4 566.9Q460.6 574.7 477.2 578.7M445.4 566.9Q464.8 563.3 477.2 578.7M445.4 566.9Q451.6 573.6 456.1 581.6M445.4 566.9Q446.3 577.5 456.1 581.6M445.4 566.9Q441 578.7 439.6 591.1M445.4 566.9Q449.8 580.7 439.6 591.1M445.4 566.9Q459 589 466.9 613.7M445.4 566.9Q442.1 596.8 466.9 613.7M445.4 566.9Q451 583.4 460.4 598M445.4 566.9Q462.2 578 460.4 598M445.4 566.9Q465.7 580.9 482.2 599.3M445.4 566.9Q454.1 594.1 482.2 599.3M445.4 566.9Q432.5 582.4 423.6 600.6M445.4 566.9Q444.6 590.3 423.6 600.6M445.4 566.9Q441 593.7 430.4 618.7M445.4 566.9Q422.4 588.3 430.4 618.7M445.4 566.9Q442.7 586.4 444.6 605.9M445.4 566.9Q456.7 586.6 444.6 605.9M445.4 566.9Q451.2 595.2 450.1 624M445.4 566.9Q430.6 596.9 450.1 624M468 562.5Q439.1 570.1 412.8 584.3M468 562.5Q446.9 590 412.8 584.3M468 562.5Q473.6 570 477.2 578.7M468 562.5Q467.7 573.4 477.2 578.7M468 562.5Q460.9 571.3 456.1 581.6M468 562.5Q467.8 575.6 456.1 581.6M468 562.5Q455.5 578.5 439.6 591.1M468 562.5Q445.2 568.3 439.6 591.1M468 562.5Q464.4 588 466.9 613.7M468 562.5Q482.8 588.4 466.9 613.7M468 562.5Q466.3 580.7 460.4 598M468 562.5Q453.6 578 460.4 598M468 562.5Q472.9 581.8 482.2 599.3M468 562.5Q486.1 576.6 482.2 599.3M468 562.5Q448.1 584.2 423.6 600.6M468 562.5Q434.4 568.2 423.6 600.6M468 562.5Q445.8 588.3 430.4 618.7M468 562.5Q466.1 601.9 430.4 618.7M468 562.5Q458.9 585.6 444.6 605.9M468 562.5Q443.3 577.2 444.6 605.9M468 562.5Q455.4 592.2 450.1 624M468 562.5Q477.5 598.6 450.1 624M412.8 584.3Q444.7 577.6 477.2 578.7M412.8 584.3Q446.7 600.8 477.2 578.7M412.8 584.3Q434.6 585.5 456.1 581.6M412.8 584.3Q433.6 570 456.1 581.6M412.8 584.3Q426.6 586.1 439.6 591.1M412.8 584.3Q424.2 595.7 439.6 591.1M412.8 584.3Q438.1 602.2 466.9 613.7M412.8 584.3Q448.7 582.8 466.9 613.7M412.8 584.3Q437.4 588.3 460.4 598M412.8 584.3Q432.5 605.4 460.4 598M412.8 584.3Q446.6 596 482.2 599.3M412.8 584.3Q452 571 482.2 599.3M412.8 584.3Q419.2 591.8 423.6 600.6M412.8 584.3Q413.3 595.7 423.6 600.6M412.8 584.3Q419.5 602.6 430.4 618.7M412.8 584.3Q431.9 596.2 430.4 618.7M412.8 584.3Q430 593.2 444.6 605.9M412.8 584.3Q422.2 604.6 444.6 605.9M412.8 584.3Q429.1 606.4 450.1 624M412.8 584.3Q443.4 593 450.1 624M477.2 578.7Q466.8 581.4 456.1 581.6M477.2 578.7Q465.8 573.8 456.1 581.6M477.2 578.7Q457.7 582.6 439.6 591.1M477.2 578.7Q462.1 596.2 439.6 591.1M477.2 578.7Q474.2 596.8 466.9 613.7M477.2 578.7Q461.6 593.1 466.9 613.7M477.2 578.7Q467.6 587.3 460.4 598M477.2 578.7Q474.6 593.4 460.4 598M477.2 578.7Q480.9 588.7 482.2 599.3M477.2 578.7Q473.5 590.5 482.2 599.3M477.2 578.7Q449.1 586.4 423.6 600.6M477.2 578.7Q457 605.7 423.6 600.6M477.2 578.7Q456.2 601.5 430.4 618.7M477.2 578.7Q441.8 584.7 430.4 618.7M477.2 578.7Q459.3 590.3 444.6 605.9M477.2 578.7Q469.1 602.1 444.6 605.9M477.2 578.7Q466.4 603 450.1 624M477.2 578.7Q450.1 593.2 450.1 624M456.1 581.6Q447.3 585.4 439.6 591.1M456.1 581.6Q450.7 591.3 439.6 591.1M456.1 581.6Q463.4 597 466.9 613.7M456.1 581.6Q451.9 600.9 466.9 613.7M456.1 581.6Q457.3 590.1 460.4 598M456.1 581.6Q463.2 588.5 460.4 598M456.1 581.6Q470.2 588.9 482.2 599.3M456.1 581.6Q463.8 598.3 482.2 599.3M456.1 581.6Q438.7 589.1 423.6 600.6M456.1 581.6Q445.6 600.9 423.6 600.6M456.1 581.6Q445.5 601.7 430.4 618.7M456.1 581.6Q432.1 592.4 430.4 618.7M456.1 581.6Q448.9 593.1 444.6 605.9M456.1 581.6Q457.6 597.2 444.6 605.9M456.1 581.6Q455.6 603.2 450.1 624M456.1 581.6Q440.4 601 450.1 624M439.6 591.1Q451.9 604 466.9 613.7M439.6 591.1Q460 594.2 466.9 613.7M439.6 591.1Q450.4 593.3 460.4 598M439.6 591.1Q447.9 600.8 460.4 598M439.6 591.1Q460.4 597.8 482.2 599.3M439.6 591.1Q463.4 582.4 482.2 599.3M439.6 591.1Q432.2 596.8 423.6 600.6M439.6 591.1Q428.8 591.1 423.6 600.6M439.6 591.1Q433.3 604.3 430.4 618.7M439.6 591.1Q443.3 607.7 430.4 618.7M439.6 591.1Q443 598.2 444.6 605.9M439.6 591.1Q437.7 600 444.6 605.9M439.6 591.1Q442.9 608.2 450.1 624M439.6 591.1Q454.7 604.4 450.1 624M466.9 613.7Q462.7 606.2 460.4 598M466.9 613.7Q468.4 603.9 460.4 598M466.9 613.7Q475.4 607.4 482.2 599.3M466.9 613.7Q470.2 601.9 482.2 599.3M466.9 613.7Q444.5 609.7 423.6 600.6M466.9 613.7Q449.2 594.2 423.6 600.6M466.9 613.7Q448.3 614 430.4 618.7M466.9 613.7Q450.1 627.2 430.4 618.7M466.9 613.7Q455.3 611.1 444.6 605.9M466.9 613.7Q458.1 603.1 444.6 605.9M466.9 613.7Q457.9 617.8 450.1 624M466.9 613.7Q461.6 623.9 450.1 624M460.4 598Q471.4 597.3 482.2 599.3M460.4 598Q470.9 605.2 482.2 599.3M460.4 598Q441.8 597.1 423.6 600.6M460.4 598Q442.8 610.3 423.6 600.6M460.4 598Q446.6 610.1 430.4 618.7M460.4 598Q439.2 599.4 430.4 618.7M460.4 598Q452 601 444.6 605.9M460.4 598Q454.9 606.7 444.6 605.9M460.4 598Q456.8 611.6 450.1 624M460.4 598Q447.4 607.9 450.1 624M482.2 599.3Q452.8 596.4 423.6 600.6M482.2 599.3Q453.3 617.5 423.6 600.6M482.2 599.3Q457.5 612.1 430.4 618.7M482.2 599.3Q450.5 593.5 430.4 618.7M482.2 599.3Q463 600.3 444.6 605.9M482.2 599.3Q465.4 613.9 444.6 605.9M482.2 599.3Q467.6 613.6 450.1 624M482.2 599.3Q458.7 602 450.1 624M423.6 600.6Q425.9 610.1 430.4 618.7M423.6 600.6Q432.4 607.6 430.4 618.7M423.6 600.6Q434.4 602 444.6 605.9M423.6 600.6Q432.5 609.5 444.6 605.9M423.6 600.6Q435.4 613.9 450.1 624M423.6 600.6Q443.9 604.3 450.1 624M430.4 618.7Q436.7 611.4 444.6 605.9M430.4 618.7Q441.3 616.6 444.6 605.9M430.4 618.7Q439.9 622.5 450.1 624M430.4 618.7Q441.8 615.4 450.1 624M444.6 605.9Q448.4 614.6 450.1 624M444.6 605.9Q441.9 616.6 450.1 624M495 584.1Q503.8 592.5 514.3 598.5M495 584.1Q509 585.5 514.3 598.5M495 584.1Q497.5 598.2 496.6 612.4M495 584.1Q487.3 598.7 496.6 612.4M514.3 598.5Q504.6 604.4 496.6 612.4M514.3 598.5Q509.6 610.8 496.6 612.4M482.2 599.3Q487.7 590.9 495 584.1M482.2 599.3Q493.2 595.5 495 584.1M477.2 578.7Q485.8 582.5 495 584.1M477.2 578.7Q487.7 576.1 495 584.1M351.8 566.5Q360.5 572.6 367.6 580.6M351.8 566.5Q355.5 578.3 367.6 580.6M351.8 566.5Q366.2 581.4 383.7 592.5M351.8 566.5Q375.6 569.9 383.7 592.5M367.6 580.6Q376.4 585.6 383.7 592.5M367.6 580.6Q372.1 591.4 383.7 592.5M403.4 624Q403.6 639.1 407.3 653.8M403.4 624Q414.3 637.7 407.3 653.8M403.4 624Q397.5 646.8 386.3 667.5M403.4 624Q381.8 640.6 386.3 667.5M360 651.7Q383.5 655.6 407.3 653.8M360 651.7Q384.3 638.6 407.3 653.8M360 651.7Q374.1 658 386.3 667.5M360 651.7Q368.4 667.5 386.3 667.5M407.3 653.8Q396 659.4 386.3 667.5M407.3 653.8Q400.9 666.9 386.3 667.5M427.5 672.2Q416.1 682.5 402.6 689.8M427.5 672.2Q409.8 673.5 402.6 689.8M427.5 672.2Q427.7 687 431.5 701.4M427.5 672.2Q438.3 685.6 431.5 701.4M402.6 689.8Q417.7 693.9 431.5 701.4M402.6 689.8Q413.6 704.3 431.5 701.4M451.4 649Q463.9 655.4 477.5 658.7M451.4 649Q467.4 646 477.5 658.7M451.4 649Q455.3 662.2 455.9 675.9M451.4 649Q445.6 663.8 455.9 675.9M477.5 658.7Q465.7 666 455.9 675.9M477.5 658.7Q471.9 673.8 455.9 675.9M513.3 628.2Q521.5 636.4 527.5 646.3M513.3 628.2Q515 641.5 527.5 646.3M513.3 628.2Q511.8 643.8 514.1 659.3M513.3 628.2Q523 643.5 514.1 659.3M496.6 649.3Q506 653.2 514.1 659.3M496.6 649.3Q502.4 659.5 514.1 659.3M496.6 649.3Q512.2 649.7 527.5 646.3M496.6 649.3Q511.1 638.5 527.5 646.3M514.1 659.3Q520 652 527.5 646.3M514.1 659.3Q524.7 656.8 527.5 646.3M527.5 646.3Q537.3 652 548.2 655.2M527.5 646.3Q540.5 644.5 548.2 655.2M527.5 646.3Q531.7 657.8 533 669.9M527.5 646.3Q523.2 659.7 533 669.9M514.1 659.3Q522.9 665.7 533 669.9M514.1 659.3Q526.7 658.9 533 669.9M548.2 655.2Q541.5 663.5 533 669.9M548.2 655.2Q536.2 658 533 669.9M548.2 655.2Q547.2 668.9 549.4 682.5M548.2 655.2Q557 668.5 549.4 682.5M533 669.9Q542 675.2 549.4 682.5M533 669.9Q537.4 681.1 549.4 682.5M527.5 646.3Q536.3 665.7 549.4 682.5M527.5 646.3Q549.3 657.8 549.4 682.5M457.7 702.4Q466.4 707.8 473.5 715.1M457.7 702.4Q461.8 713.5 473.5 715.1M473.5 715.1Q479.8 723.6 488 730.3M473.5 715.1Q485.3 718.4 488 730.3M575.2 620.4Q583.6 614.5 593.2 610.8M575.2 620.4Q587.1 621 593.2 610.8M575.2 620.4Q583.4 625.2 592.5 628M575.2 620.4Q586.1 619 592.5 628M575.2 620.4Q582.1 630.2 586.5 641.3M575.2 620.4Q574.6 634.2 586.5 641.3M575.2 620.4Q571.1 633.1 570.2 646.4M575.2 620.4Q580.5 634.9 570.2 646.4M593.2 610.8Q593.9 619.4 592.5 628M593.2 610.8Q587.7 619.2 592.5 628M593.2 610.8Q600.3 619 609.1 625.3M593.2 610.8Q605.5 613.3 609.1 625.3M592.5 628Q600.6 625.7 609.1 625.3M592.5 628Q601.6 631.6 609.1 625.3M592.5 628Q588.7 634.3 586.5 641.3M592.5 628Q593.5 636.4 586.5 641.3M592.5 628Q599.3 634.8 604.2 643.1M592.5 628Q593.8 639.1 604.2 643.1M609.1 625.3Q605.6 633.9 604.2 643.1M609.1 625.3Q612 635.7 604.2 643.1M586.5 641.3Q595.5 641.1 604.2 643.1M586.5 641.3Q594.8 647.5 604.2 643.1M586.5 641.3Q578 642.9 570.2 646.4M586.5 641.3Q579.9 648.7 570.2 646.4M604.2 643.1Q604.1 652.9 601.7 662.3M604.2 643.1Q597.2 652 601.7 662.3M604.2 643.1Q592.9 652.2 584.1 663.7M604.2 643.1Q600.3 659.4 584.1 663.7M609.1 625.3Q619.3 626.5 629 630M609.1 625.3Q617.6 633.6 629 630M604.2 643.1Q591.7 659.7 583.5 678.7M604.2 643.1Q604.5 667.1 583.5 678.7M584.1 663.7Q592.8 661.9 601.7 662.3M584.1 663.7Q593.3 668.3 601.7 662.3M584.1 663.7Q574.8 671.2 567.6 680.7M584.1 663.7Q581 677.2 567.6 680.7M584.1 663.7Q584.7 671.2 583.5 678.7M584.1 663.7Q579.3 671 583.5 678.7M584.1 663.7Q586.8 672.9 591.6 681.1M584.1 663.7Q593.1 670.2 591.6 681.1M584.1 663.7Q598.3 669.2 610.7 677.9M584.1 663.7Q593.1 678.8 610.7 677.9M584.1 663.7Q595.5 681.8 610.8 696.7M584.1 663.7Q607.4 672.2 610.8 696.7M584.1 663.7Q583 681 577.8 697.6M584.1 663.7Q570.8 678.8 577.8 697.6M584.1 663.7Q586.9 682.4 594 700M584.1 663.7Q599.9 678.9 594 700M601.7 662.3Q585.8 673.5 567.6 680.7M601.7 662.3Q579.1 661.3 567.6 680.7M601.7 662.3Q591.6 669.4 583.5 678.7M601.7 662.3Q597.5 676 583.5 678.7M601.7 662.3Q597.8 672.3 591.6 681.1M601.7 662.3Q591 668.7 591.6 681.1M601.7 662.3Q605.3 670.6 610.7 677.9M601.7 662.3Q610.9 667.4 610.7 677.9M601.7 662.3Q608.3 679 610.8 696.7M601.7 662.3Q595.9 682.2 610.8 696.7M601.7 662.3Q587.6 678.5 577.8 697.6M601.7 662.3Q600.3 687.1 577.8 697.6M601.7 662.3Q600.1 681.6 594 700M601.7 662.3Q586.5 678.8 594 700M567.6 680.7Q575.7 680.7 583.5 678.7M567.6 680.7Q574.9 674.9 583.5 678.7M567.6 680.7Q579.6 679.5 591.6 681.1M567.6 680.7Q579.5 688.1 591.6 681.1M567.6 680.7Q589.3 681.9 610.7 677.9M567.6 680.7Q588.3 666.4 610.7 677.9M567.6 680.7Q590.2 686.1 610.8 696.7M567.6 680.7Q584.4 701.7 610.8 696.7M567.6 680.7Q571.7 689.8 577.8 697.6M567.6 680.7Q577.8 686.1 577.8 697.6M567.6 680.7Q582 688.8 594 700M567.6 680.7Q575 698.3 594 700M583.5 678.7Q587.4 680.4 591.6 681.1M583.5 678.7Q588.3 677.5 591.6 681.1M583.5 678.7Q597.1 676.7 610.7 677.9M583.5 678.7Q597.3 686.5 610.7 677.9M583.5 678.7Q596.1 689.3 610.8 696.7M583.5 678.7Q602.5 679.5 610.8 696.7M583.5 678.7Q581.8 688.5 577.8 697.6M583.5 678.7Q575 686.4 577.8 697.6M583.5 678.7Q587.5 690 594 700M583.5 678.7Q595.1 686.2 594 700M591.6 681.1Q601 678.4 610.7 677.9M591.6 681.1Q602.1 685.2 610.7 677.9M591.6 681.1Q600.3 690.1 610.8 696.7M591.6 681.1Q605.9 683.1 610.8 696.7M591.6 681.1Q585.7 690.2 577.8 697.6M591.6 681.1Q579.8 685.2 577.8 697.6M591.6 681.1Q591.7 690.7 594 700M591.6 681.1Q598.5 689.8 594 700M610.7 677.9Q611.9 687.3 610.8 696.7M610.7 677.9Q605.1 687.3 610.8 696.7M610.7 677.9Q593.1 685.8 577.8 697.6M610.7 677.9Q600.2 697.6 577.8 697.6M610.7 677.9Q603.7 690 594 700M610.7 677.9Q595.7 683.9 594 700M610.8 696.7Q594.2 695.2 577.8 697.6M610.8 696.7Q594.6 707.1 577.8 697.6M610.8 696.7Q602.6 699.4 594 700M610.8 696.7Q601.4 693.3 594 700M577.8 697.6Q585.8 699.8 594 700M577.8 697.6Q586.6 693.9 594 700M583.5 717.4Q570 722.3 555.8 723.9M583.5 717.4Q567.7 712.3 555.8 723.9M583.5 717.4Q578.6 731.5 577.2 746.4M583.5 717.4Q589.1 733.8 577.2 746.4M583.5 717.4Q589.3 725.9 592.9 735.5M583.5 717.4Q582.8 729.3 592.9 735.5M583.5 717.4Q571.2 727.7 561.6 740.6M583.5 717.4Q579.5 735.6 561.6 740.6M555.8 723.9Q567.9 733.9 577.2 746.4M555.8 723.9Q559.8 741.6 577.2 746.4M555.8 723.9Q573.7 731.9 592.9 735.5M555.8 723.9Q577.8 718.6 592.9 735.5M555.8 723.9Q559.7 731.9 561.6 740.6M555.8 723.9Q553.7 734 561.6 740.6M577.2 746.4Q585.7 741.9 592.9 735.5M577.2 746.4Q581.8 736.2 592.9 735.5M577.2 746.4Q569.1 744.4 561.6 740.6M577.2 746.4Q571.1 738.8 561.6 740.6M592.9 735.5Q576.9 736.2 561.6 740.6M592.9 735.5Q578.8 747.4 561.6 740.6M577.8 697.6Q581.8 707.2 583.5 717.4M577.8 697.6Q574.7 709.2 583.5 717.4M594 700Q587.7 708.1 583.5 717.4M594 700Q594 711.9 583.5 717.4M640.6 580.3Q649.7 588 656.8 597.7M640.6 580.3Q643.5 593.9 656.8 597.7M640.6 580.3Q640.2 597.3 643.9 614M640.6 580.3Q652.4 596.2 643.9 614M656.8 597.7Q651.3 606.6 643.9 614M656.8 597.7Q645.5 602 643.9 614M623.2 605.8Q633.1 611.1 643.9 614M623.2 605.8Q636 603.7 643.9 614M623.2 605.8Q627.6 617.6 629 630M623.2 605.8Q618.8 619.6 629 630M623.2 605.8Q640.5 603.8 656.8 597.7M623.2 605.8Q637.6 591.7 656.8 597.7M643.9 614Q647.9 618.2 650.7 623.3M643.9 614Q644.5 620.7 650.7 623.3M643.9 614Q658.1 616.4 672.5 615.4M643.9 614Q658.6 606.1 672.5 615.4M650.7 623.3Q661.1 618 672.5 615.4M650.7 623.3Q664 625.9 672.5 615.4M650.7 623.3Q661.9 629.3 674.2 632.5M650.7 623.3Q665.2 620.9 674.2 632.5M672.5 615.4Q674.4 623.8 674.2 632.5M672.5 615.4Q668.2 624.5 674.2 632.5M643.9 614Q635.5 621.1 629 630M643.9 614Q641.2 626.5 629 630M629 630Q629.9 637.5 629 645.1M629 630Q624.5 637.5 629 645.1M629 630Q638.9 634.8 649.7 637.1M629 630Q641.5 627.3 649.7 637.1M650.7 623.3Q651 630.3 649.7 637.1M650.7 623.3Q646.1 629.9 649.7 637.1M623.2 605.8Q623.7 625.8 629 645.1M623.2 605.8Q637.9 623.7 629 645.1M623.2 605.8Q630.4 592 640.6 580.3M623.2 605.8Q639.6 598.3 640.6 580.3M649.7 637.1Q638.9 639.9 629 645.1M649.7 637.1Q641.8 647.3 629 645.1M649.7 637.1Q652.3 645 653 653.2M649.7 637.1Q646.5 646.1 653 653.2M649.7 637.1Q640.5 647.8 634 660.3M649.7 637.1Q648.8 653.4 634 660.3M629 645.1Q641.5 647.7 653 653.2M629 645.1Q638.6 656.4 653 653.2M629 645.1Q630.6 653 634 660.3M629 645.1Q636.1 651.2 634 660.3M653 653.2Q643.9 657.9 634 660.3M653 653.2Q641.4 651 634 660.3"/>
<ellipse class="dc" cx="406.6" cy="498" rx="49.9" ry="48.9"/>
<circle cx="460.4" cy="455" r="9.2" fill="#fff" stroke="#000" stroke-width="1"/>
<text class="k g" x="460.4" y="457.3">Lep</text>
<circle cx="459.3" cy="488" r="9.2" fill="#fff" stroke="#000" stroke-width="1"/>
<text class="k" style="font-size:7.0px" x="459.3" y="490.5">Bdnf</text>
<circle cx="486.9" cy="489.8" r="9.7" fill="#d6c85c"/>
<text class="k" x="486.9" y="492">Tgfb1</text>
<circle cx="513.6" cy="478" r="9.2" fill="#fff" stroke="#000" stroke-width="1"/>
<text class="k g" x="513.6" y="480.3">Fgf10</text>
<circle cx="473.8" cy="524" r="9.7" fill="#362f6e"/>
<text class="w" x="473.8" y="526.2">Fgf7</text>
<circle cx="513.9" cy="515" r="9.2" fill="#fff" stroke="#000" stroke-width="1"/>
<text class="k" x="513.9" y="517.2">Wnt5a</text>
<circle cx="601.7" cy="452.5" r="9.7" fill="#d6c85c"/>
<text class="k" x="601.7" y="454.7">Vegfb</text>
<circle cx="549.9" cy="484.5" r="9.2" fill="#fff" stroke="#000" stroke-width="1"/>
<text class="k" x="549.9" y="486.7">Col4a5</text>
<circle cx="573.4" cy="487.6" r="9.2" fill="#fff" stroke="#000" stroke-width="1"/>
<text class="k g" x="573.4" y="489.9">Itgb6</text>
<circle cx="592.9" cy="483.8" r="9.2" fill="#fff" stroke="#000" stroke-width="1"/>
<text class="k" x="592.9" y="486">Jak2</text>
<circle cx="609.5" cy="490.1" r="9.2" fill="#fff" stroke="#000" stroke-width="1"/>
<text class="k" x="609.5" y="492.3">Fgf2</text>
<circle cx="633.3" cy="494.6" r="9.7" fill="#d6c85c"/>
<text class="k" x="633.3" y="496.8">Irs2</text>
<circle cx="586.6" cy="500.9" r="9.7" fill="#362f6e"/>
<text class="w" x="586.6" y="503.1">Itga7</text>
<circle cx="581" cy="519.9" r="9.7" fill="#d6c85c"/>
<text class="k" x="581" y="522.1">Acta2</text>
<circle cx="561.1" cy="535.7" r="9.7" fill="#d6c85c"/>
<text class="k" x="561.1" y="537.9">Cald1</text>
<circle cx="593.6" cy="538.2" r="9.2" fill="#fff" stroke="#000" stroke-width="1"/>
<text class="k" x="593.6" y="540.4">Sorbs1</text>
<circle cx="577.2" cy="551" r="9.7" fill="#362f6e"/>
<text class="w" x="577.2" y="553.2">Lmod1</text>
<circle cx="517.3" cy="547.2" r="9.7" fill="#d6c85c"/>
<text class="k s" x="517.3" y="548.9">Ppp1r3c</text>
<circle cx="539.8" cy="537.1" r="9.2" fill="#fff" stroke="#000" stroke-width="1"/>
<text class="k" x="539.8" y="539.3">Ppp1r3a</text>
<circle cx="548.2" cy="561.8" r="9.2" fill="#fff" stroke="#000" stroke-width="1"/>
<text class="k" x="548.2" y="564">Pygb</text>
<circle cx="525.5" cy="567.4" r="9.2" fill="#fff" stroke="#000" stroke-width="1"/>
<text class="k" x="525.5" y="569.6">Phka1</text>
<circle cx="538.6" cy="592.9" r="9.2" fill="#fff" stroke="#000" stroke-width="1"/>
<text class="k" x="538.6" y="595.1">Pfkp</text>
<circle cx="546.4" cy="577.9" r="9.2" fill="#fff" stroke="#000" stroke-width="1"/>
<text class="k" x="546.4" y="580.1">Pfkm</text>
<circle cx="568.3" cy="598.4" r="9.2" fill="#fff" stroke="#000" stroke-width="1"/>
<text class="k" x="568.3" y="600.6">Fbp2</text>
<circle cx="565.3" cy="582.2" r="9.2" fill="#fff" stroke="#000" stroke-width="1"/>
<text class="k" x="565.3" y="584.4">Pfkfb2</text>
<circle cx="549.9" cy="611.8" r="9.7" fill="#362f6e"/>
<text class="w" x="549.9" y="614">Pfkfb1</text>
<circle cx="430.4" cy="550.3" r="9.7" fill="#362f6e"/>
<text class="w" x="430.4" y="552.5">Atp2a1</text>
<circle cx="427" cy="571.6" r="9.2" fill="#fff" stroke="#000" stroke-width="1"/>
<text class="k g" x="427" y="573.9">Myh3</text>
<circle cx="445.4" cy="566.9" r="9.7" fill="#d6c85c"/>
<text class="k" x="445.4" y="569.1">Mybpc2</text>
<circle cx="468" cy="562.5" r="9.7" fill="#362f6e"/>
<text class="w g" x="468" y="564.8">Mylpf</text>
<circle cx="412.8" cy="584.3" r="9.2" fill="#fff" stroke="#000" stroke-width="1"/>
<text class="k g" x="412.8" y="586.6">Tpm1</text>
<circle cx="477.2" cy="578.7" r="9.2" fill="#fff" stroke="#000" stroke-width="1"/>
<text class="k g" x="477.2" y="581">Tnnc2</text>
<circle cx="456.1" cy="581.6" r="9.2" fill="#fff" stroke="#000" stroke-width="1"/>
<text class="k g" x="456.1" y="583.9">Tnnt3</text>
<circle cx="439.6" cy="591.1" r="9.2" fill="#fff" stroke="#000" stroke-width="1"/>
<text class="k g" x="439.6" y="593.4">Tnnt1</text>
<circle cx="466.9" cy="613.7" r="9.2" fill="#fff" stroke="#000" stroke-width="1"/>
<text class="k" x="466.9" y="615.9">Tnnc1</text>
<circle cx="460.4" cy="598" r="9.2" fill="#fff" stroke="#000" stroke-width="1"/>
<text class="k g" x="460.4" y="600.3">Tnni2</text>
<circle cx="482.2" cy="599.3" r="9.7" fill="#d6c85c"/>
<text class="k g" x="482.2" y="601.6">Tpm4</text>
<circle cx="423.6" cy="600.6" r="9.7" fill="#362f6e"/>
<text class="w g" x="423.6" y="602.9">Actn3</text>
<circle cx="430.4" cy="618.7" r="9.2" fill="#fff" stroke="#000" stroke-width="1"/>
<text class="k g" x="430.4" y="621">Tmod3</text>
<circle cx="444.6" cy="605.9" r="9.2" fill="#fff" stroke="#000" stroke-width="1"/>
<text class="k g" x="444.6" y="608.2">Myl1</text>
<circle cx="450.1" cy="624" r="9.7" fill="#362f6e"/>
<text class="w g" x="450.1" y="626.3">Myl2</text>
<circle cx="495" cy="584.1" r="9.2" fill="#fff" stroke="#000" stroke-width="1"/>
<text class="k" x="495" y="586.3">Hspa2</text>
<circle cx="514.3" cy="598.5" r="9.7" fill="#d6c85c"/>
<text class="k" x="514.3" y="600.7">Hspa4l</text>
<circle cx="496.6" cy="612.4" r="9.7" fill="#d6c85c"/>
<text class="k" x="496.6" y="614.6">Hsph1</text>
<circle cx="351.8" cy="566.5" r="9.7" fill="#d6c85c"/>
<text class="k" x="351.8" y="568.7">Atf4</text>
<circle cx="367.6" cy="580.6" r="9.2" fill="#fff" stroke="#000" stroke-width="1"/>
<text class="k g" x="367.6" y="582.9">Cebpg</text>
<circle cx="383.7" cy="592.5" r="9.2" fill="#fff" stroke="#000" stroke-width="1"/>
<text class="k" x="383.7" y="594.7">Trib3</text>
<circle cx="403.4" cy="624" r="9.7" fill="#362f6e"/>
<text class="w" x="403.4" y="626.2">Nos1</text>
<circle cx="360" cy="651.7" r="9.2" fill="#fff" stroke="#000" stroke-width="1"/>
<text class="k" x="360" y="653.9">Pik3r5</text>
<circle cx="407.3" cy="653.8" r="9.7" fill="#d6c85c"/>
<text class="k" x="407.3" y="656">Gnb4</text>
<circle cx="386.3" cy="667.5" r="9.2" fill="#fff" stroke="#000" stroke-width="1"/>
<text class="k" x="386.3" y="669.7">Gnb3</text>
<circle cx="427.5" cy="672.2" r="9.2" fill="#fff" stroke="#000" stroke-width="1"/>
<text class="k" x="427.5" y="674.4">Ubb</text>
<circle cx="402.6" cy="689.8" r="9.2" fill="#fff" stroke="#000" stroke-width="1"/>
<text class="k" x="402.6" y="692">Polr2a</text>
<circle cx="431.5" cy="701.4" r="9.7" fill="#362f6e"/>
<text class="w" x="431.5" y="703.6">Cul3</text>
<circle cx="451.4" cy="649" r="9.7" fill="#d6c85c"/>
<text class="k" x="451.4" y="651.2">Plce1</text>
<circle cx="477.5" cy="658.7" r="9.2" fill="#fff" stroke="#000" stroke-width="1"/>
<text class="k" x="477.5" y="660.9">Plod4</text>
<circle cx="455.9" cy="675.9" r="9.7" fill="#362f6e"/>
<text class="w" x="455.9" y="678.1">Plod3</text>
<circle cx="513.3" cy="628.2" r="9.7" fill="#d6c85c"/>
<text class="k" x="513.3" y="630.4">Cdkn1a</text>
<circle cx="496.6" cy="649.3" r="9.2" fill="#fff" stroke="#000" stroke-width="1"/>
<text class="k" x="496.6" y="651.5">Nrip1</text>
<circle cx="514.1" cy="659.3" r="9.2" fill="#fff" stroke="#000" stroke-width="1"/>
<text class="k" x="514.1" y="661.5">Ncoa1</text>
<circle cx="527.5" cy="646.3" r="9.2" fill="#fff" stroke="#000" stroke-width="1"/>
<text class="k" x="527.5" y="648.5">Ar</text>
<circle cx="548.2" cy="655.2" r="9.2" fill="#fff" stroke="#000" stroke-width="1"/>
<text class="k" x="548.2" y="657.4">Adipoq</text>
<circle cx="533" cy="669.9" r="9.2" fill="#fff" stroke="#000" stroke-width="1"/>
<text class="k" x="533" y="672.1">Edn1</text>
<circle cx="549.4" cy="682.5" r="9.2" fill="#fff" stroke="#000" stroke-width="1"/>
<text class="k" x="549.4" y="684.7">Tlr4</text>
<circle cx="457.7" cy="702.4" r="9.7" fill="#d6c85c"/>
<text class="k" x="457.7" y="704.6">Ddit4</text>
<circle cx="473.5" cy="715.1" r="9.2" fill="#fff" stroke="#000" stroke-width="1"/>
<text class="k" x="473.5" y="717.3">Rragd</text>
<circle cx="488" cy="730.3" r="9.2" fill="#fff" stroke="#000" stroke-width="1"/>
<text class="k" x="488" y="732.5">Tbc1d7</text>
<circle cx="575.2" cy="620.4" r="9.2" fill="#fff" stroke="#000" stroke-width="1"/>
<text class="k" x="575.2" y="622.6">Pck1</text>
<circle cx="586.5" cy="641.3" r="9.2" fill="#fff" stroke="#000" stroke-width="1"/>
<text class="k" x="586.5" y="643.5">Rxrg</text>
<circle cx="592.5" cy="628" r="9.2" fill="#fff" stroke="#000" stroke-width="1"/>
<text class="k" x="592.5" y="630.2">Esrra</text>
<circle cx="593.2" cy="610.8" r="9.2" fill="#fff" stroke="#000" stroke-width="1"/>
<text class="k" x="593.2" y="613">Lpin1</text>
<circle cx="609.1" cy="625.3" r="9.2" fill="#fff" stroke="#000" stroke-width="1"/>
<text class="k" x="609.1" y="627.5">Fabp3</text>
<circle cx="604.2" cy="643.1" r="9.2" fill="#fff" stroke="#000" stroke-width="1"/>
<text class="k s" x="604.2" y="644.8">Ppargc1a</text>
<circle cx="570.2" cy="646.4" r="9.7" fill="#d6c85c"/>
<text class="k" x="570.2" y="648.6">Fabp5</text>
<circle cx="584.1" cy="663.7" r="9.2" fill="#fff" stroke="#000" stroke-width="1"/>
<text class="k s" x="584.1" y="665.4">mt-Cytb</text>
<circle cx="601.7" cy="662.3" r="9.2" fill="#fff" stroke="#000" stroke-width="1"/>
<text class="k" x="601.7" y="664.5">Cox10</text>
<circle cx="567.6" cy="680.7" r="9.7" fill="#d6c85c"/>
<circle cx="583.5" cy="678.7" r="9.7" fill="#d6c85c"/>
<circle cx="591.6" cy="681.1" r="9.2" fill="#fff" stroke="#000" stroke-width="1"/>
<text class="k s" x="567.6" y="682.4">mt-Nd4l</text>
<text class="k" x="584.7" y="678.7">Ndufs2</text>
<text class="k" x="591.6" y="684.6">mt-Nd4</text>
<circle cx="610.7" cy="677.9" r="9.2" fill="#fff" stroke="#000" stroke-width="1"/>
<text class="k" x="610.7" y="680.1">Cox8a</text>
<circle cx="610.8" cy="696.7" r="9.7" fill="#d6c85c"/>
<text class="k s" x="610.8" y="695.4">Ndufa4l2</text>
<circle cx="577.8" cy="697.6" r="9.7" fill="#d6c85c"/>
<text class="k s" x="577.8" y="699.3">Ndufb10</text>
<circle cx="594" cy="700" r="9.2" fill="#fff" stroke="#000" stroke-width="1"/>
<text class="k s" x="594" y="701.7">Ndufb3</text>
<circle cx="583.5" cy="717.4" r="9.7" fill="#362f6e"/>
<text class="w" x="583.5" y="719.6">Atp1b1</text>
<circle cx="555.8" cy="723.9" r="9.7" fill="#d6c85c"/>
<text class="k" x="555.8" y="726.1">Fxyd6</text>
<circle cx="577.2" cy="746.4" r="9.7" fill="#d6c85c"/>
<text class="k" x="577.2" y="748.6">Atp1a1</text>
<circle cx="592.9" cy="735.5" r="9.2" fill="#fff" stroke="#000" stroke-width="1"/>
<text class="k" x="592.9" y="737.7">Atp1a4</text>
<circle cx="561.6" cy="740.6" r="9.2" fill="#fff" stroke="#000" stroke-width="1"/>
<text class="k" x="561.6" y="742.8">Atp1b4</text>
<circle cx="640.6" cy="580.3" r="9.2" fill="#fff" stroke="#000" stroke-width="1"/>
<text class="k" x="640.6" y="582.5">Pdgfc</text>
<circle cx="656.8" cy="597.7" r="9.2" fill="#fff" stroke="#000" stroke-width="1"/>
<text class="k" x="656.8" y="599.9">Ngfr</text>
<circle cx="623.2" cy="605.8" r="9.2" fill="#fff" stroke="#000" stroke-width="1"/>
<text class="k" x="623.2" y="608">Chuk</text>
<circle cx="643.9" cy="614" r="9.7" fill="#d6c85c"/>
<text class="k" x="643.9" y="613.9">Kit</text>
<circle cx="672.5" cy="615.4" r="9.2" fill="#fff" stroke="#000" stroke-width="1"/>
<text class="k" x="672.5" y="617.6">Thbs2</text>
<circle cx="650.7" cy="623.3" r="9.7" fill="#d6c85c"/>
<text class="k" x="650.7" y="625.5">Thbs1</text>
<circle cx="674.2" cy="632.5" r="9.2" fill="#fff" stroke="#000" stroke-width="1"/>
<text class="k" x="674.2" y="634.7">Itga9</text>
<circle cx="629" cy="645.1" r="9.7" fill="#362f6e"/>
<text class="w" x="629" y="647.3">Psmd5</text>
<circle cx="629" cy="630" r="9.7" fill="#d6c85c"/>
<text class="k" x="629" y="632.2">Ccnd1</text>
<circle cx="649.7" cy="637.1" r="9.7" fill="#d6c85c"/>
<text class="k" x="649.7" y="639.3">Psmb5</text>
<circle cx="634" cy="660.3" r="9.2" fill="#fff" stroke="#000" stroke-width="1"/>
<text class="k" x="634" y="662.5">Psmd11</text>
<circle cx="653" cy="653.2" r="9.2" fill="#fff" stroke="#000" stroke-width="1"/>
<text class="k" x="653" y="655.4">Psmd8</text>
<circle cx="395.8" cy="463.3" r="9.2" fill="#fff" stroke="#000" stroke-width="1"/>
<text class="k g" x="395.8" y="465.6">Hlf</text>
<circle cx="399" cy="481" r="9.2" fill="#d6c85c" stroke="#d5451d" stroke-width="1"/>
<text class="k g" x="399" y="483.3">Per2</text>
<circle cx="391" cy="506.1" r="9.2" fill="#362f6e" stroke="#d5451d" stroke-width="1"/>
<text class="w g" x="391" y="508.4">Nr1d1</text>
<circle cx="422.8" cy="511.2" r="9.2" fill="#fff" stroke="#000" stroke-width="1"/>
<text class="k s" x="422.8" y="512.9">Bhlhe40</text>
<circle cx="406.7" cy="501.7" r="9.2" fill="#d6c85c" stroke="#d5451d" stroke-width="1"/>
<text class="k g" x="406.7" y="504">Cry1</text>
<circle cx="426" cy="496.9" r="9.2" fill="#362f6e" stroke="#d5451d" stroke-width="1"/>
<text class="w g" x="426" y="499.2">Per3</text>
<circle cx="437.2" cy="482.7" r="9.2" fill="#d6c85c" stroke="#d5451d" stroke-width="1"/>
<text class="k g" x="437.2" y="485">Clock</text>
<circle cx="388.8" cy="490" r="9.2" fill="#d6c85c" stroke="#d5451d" stroke-width="1"/>
<text class="k g" x="388.8" y="492.3">Per1</text>
<circle cx="414.6" cy="488.8" r="9.2" fill="#fff" stroke="#d5451d" stroke-width="1"/>
<text class="k g" x="414.6" y="491.1">Npas2</text>
<circle cx="377.8" cy="473.2" r="9.2" fill="#fff" stroke="#d5451d" stroke-width="1"/>
<text class="k g" x="377.8" y="475.5">Nr1d2</text>
<circle cx="370.2" cy="498.6" r="9.2" fill="#362f6e" stroke="#d5451d" stroke-width="1"/>
<text class="w g" x="370.2" y="500.9">Cry2</text>
<circle cx="443.6" cy="502.3" r="9.2" fill="#fff" stroke="#d5451d" stroke-width="1"/>
<text class="k g" x="443.6" y="504.6">Rorc</text>
<circle cx="417.6" cy="469.3" r="9.2" fill="#fff" stroke="#d5451d" stroke-width="1"/>
<text class="k g" x="417.6" y="471.6">Arntl</text>
<circle cx="381.9" cy="520.8" r="9.7" fill="#d6c85c"/>
<text class="k g" x="381.9" y="523.1">Nfil3</text>
<circle cx="402.6" cy="521.4" r="9.2" fill="#fff" stroke="#d5451d" stroke-width="1"/>
<text class="k g" x="402.6" y="523.7">Rorb</text>
<circle cx="420.4" cy="532.6" r="9.2" fill="#fff" stroke="#d5451d" stroke-width="1"/>
<text class="k g" x="420.4" y="534.9">Rora</text>
</g>
<text class="l" x="-0.5" y="13.8">a</text>
<text class="l" x="340.3" y="13.8">b</text>
<text class="l" x="-0.5" y="415.1">c</text>
<text class="l" x="339.8" y="415.1">d</text>
<text class="t" x="76.2" y="23.3" textLength="158.6">Spaceflight datasets</text>
<text class="t" x="470.6" y="23.7" textLength="117">Aging datasets</text>
<text class="t" x="91.2" y="422.6" textLength="128.6">Fasting datasets</text>
<text class="t" x="427.6" y="422.6" textLength="137.5">Exercise datasets</text>
<circle cx="215.9" cy="377" r="11.2" fill="#d6c85c"/>
<circle cx="352.6" cy="377" r="11.2" fill="#362f6e"/>
<text class="t" x="233.2" y="382.6" textLength="94.5">Upregulated</text>
<text class="t" x="368.7" y="382.6" textLength="117.6">Downregulated</text>
</svg>
</body></html>
